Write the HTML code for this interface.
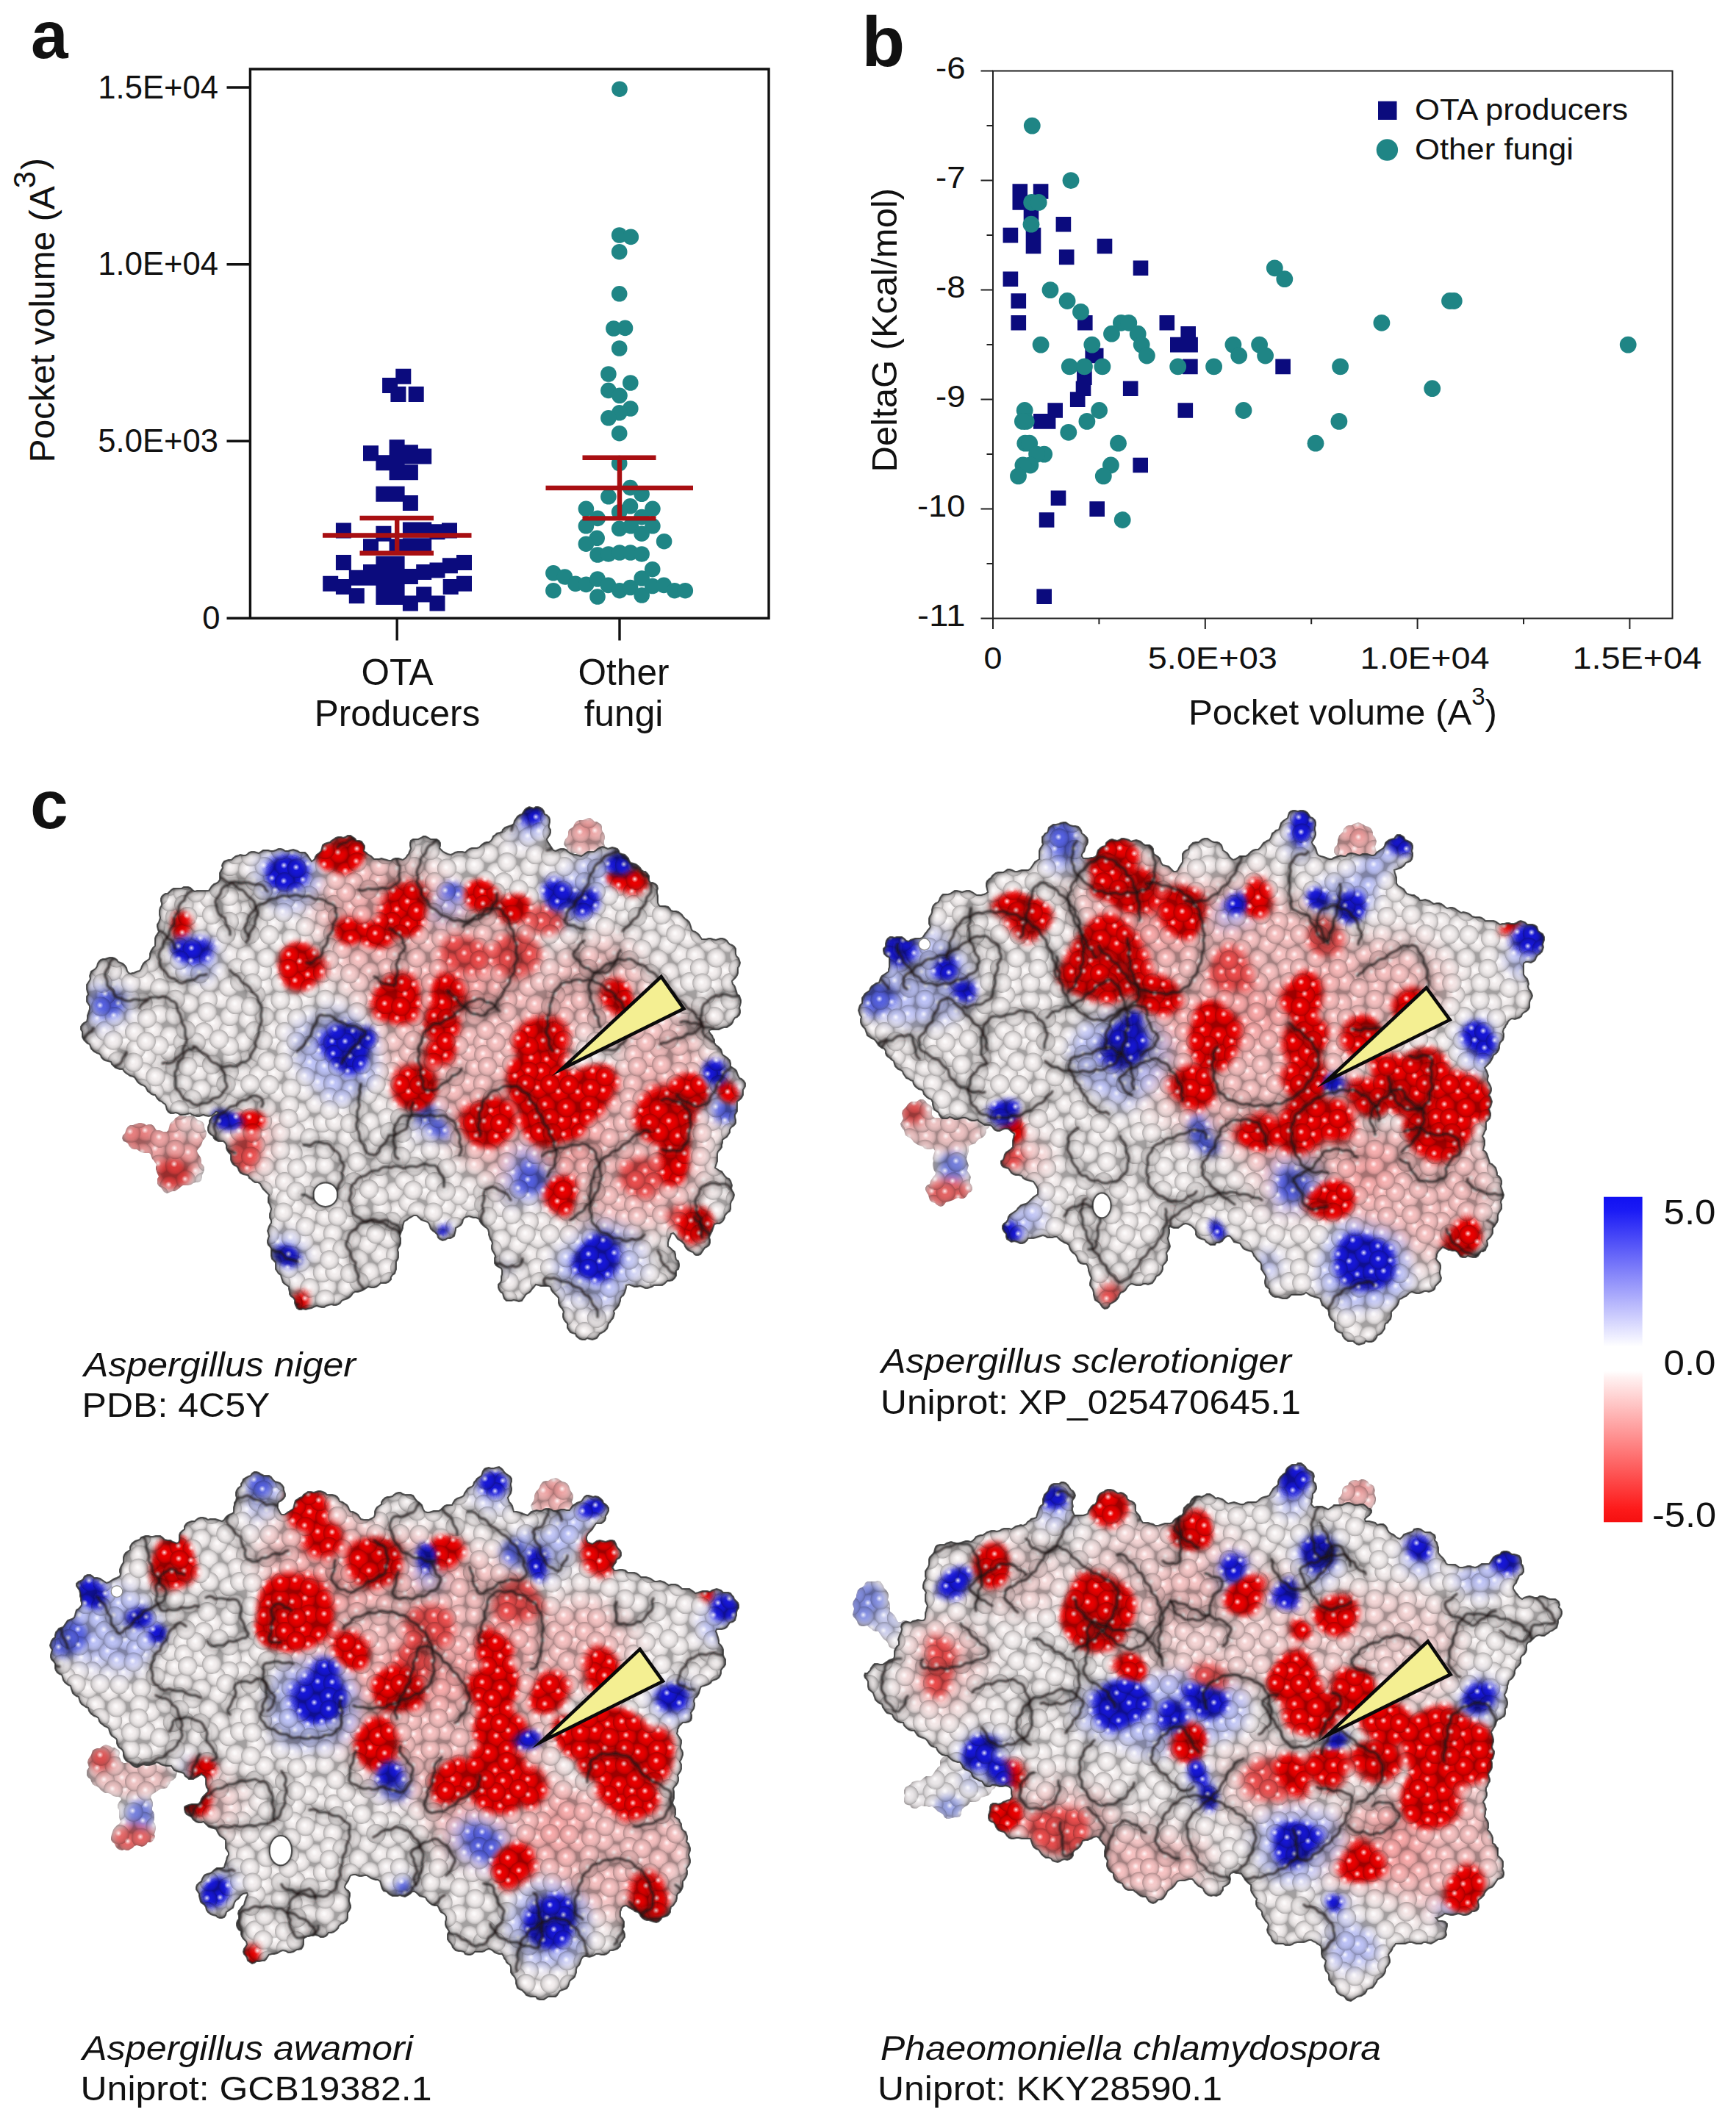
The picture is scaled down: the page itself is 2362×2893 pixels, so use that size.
<!DOCTYPE html>
<html lang="en"><head><meta charset="utf-8"><title>Figure</title>
<style>html,body{margin:0;padding:0;background:#fff}svg{display:block}text{font-family:'Liberation Sans', Arial, Helvetica, sans-serif;fill:#111}</style>
</head><body>
<svg width="2362" height="2893" viewBox="0 0 2362 2893">
<defs>
<linearGradient id="cbar" x1="0" y1="0" x2="0" y2="1">
<stop offset="0" stop-color="#1111f2"/><stop offset="0.04" stop-color="#1a1af5"/>
<stop offset="0.44" stop-color="#f4f4ff"/><stop offset="0.46" stop-color="#fff"/>
<stop offset="0.535" stop-color="#fff"/><stop offset="0.555" stop-color="#fff1f1"/>
<stop offset="0.96" stop-color="#fd1a1a"/><stop offset="1" stop-color="#f51010"/></linearGradient>
<filter id="f1" x="-30%" y="-30%" width="160%" height="160%"><feGaussianBlur stdDeviation="1"/></filter>
<filter id="f4" x="-30%" y="-30%" width="160%" height="160%"><feGaussianBlur stdDeviation="4"/></filter>
<filter id="f6" x="-30%" y="-30%" width="160%" height="160%"><feGaussianBlur stdDeviation="6"/></filter>
<filter id="f10" x="-30%" y="-30%" width="160%" height="160%"><feGaussianBlur stdDeviation="10"/></filter>
<filter id="f18" x="-30%" y="-30%" width="160%" height="160%"><feGaussianBlur stdDeviation="18"/></filter>
<radialGradient id="bg"><stop offset="0" stop-color="#fff"/><stop offset=".45" stop-color="#f7f7f7"/><stop offset=".75" stop-color="#e3e3e3"/><stop offset=".92" stop-color="#c6c6c6"/><stop offset="1" stop-color="#adadad"/></radialGradient>
<radialGradient id="sg"><stop offset="0" stop-color="#fff" stop-opacity=".9"/><stop offset=".45" stop-color="#fff" stop-opacity=".45"/><stop offset="1" stop-color="#fff" stop-opacity="0"/></radialGradient>
<filter id="edge" x="-3%" y="-3%" width="106%" height="106%" color-interpolation-filters="sRGB"><feGaussianBlur in="SourceAlpha" stdDeviation="4.5" result="b"/><feComponentTransfer in="b" result="i"><feFuncA type="table" tableValues="1 .9 .62 .24 0"/></feComponentTransfer><feFlood flood-color="#181818"/><feComposite in2="i" operator="in" result="d"/><feComposite in="d" in2="SourceGraphic" operator="atop"/></filter>
<filter id="edge2" x="-6%" y="-6%" width="112%" height="112%" color-interpolation-filters="sRGB"><feGaussianBlur in="SourceAlpha" stdDeviation="3.5" result="b"/><feComponentTransfer in="b" result="i"><feFuncA type="table" tableValues=".6 .45 .28 .1 0"/></feComponentTransfer><feFlood flood-color="#6a6060"/><feComposite in2="i" operator="in" result="d"/><feComposite in="d" in2="SourceGraphic" operator="atop"/></filter>
<filter id="warp" x="-5%" y="-5%" width="110%" height="110%"><feTurbulence type="fractalNoise" baseFrequency=".014" numOctaves="1" seed="3" result="t"/><feDisplacementMap in="SourceGraphic" in2="t" scale="38" xChannelSelector="R" yChannelSelector="G"/></filter>
<pattern id="bump" width="204" height="204" patternUnits="userSpaceOnUse"><rect width="204" height="204" fill="#a8a8a8"/><g fill="url(#bg)"><circle cx="66.1" cy="30.8" r="13.2"/><circle cx="132.8" cy="14.8" r="13.2"/><circle cx="109.3" cy="74.6" r="13.2"/><circle cx="11.8" cy="103.5" r="13.2"/><circle cx="215.8" cy="103.5" r="13.2"/><circle cx="14.3" cy="18.5" r="13.2"/><circle cx="86.6" cy="168.7" r="13.2"/><circle cx="25.3" cy="45.5" r="13.2"/><circle cx="128" cy="-10.7" r="13.2"/><circle cx="128" cy="193.3" r="13.2"/><circle cx="-4.8" cy="9.5" r="13.2"/><circle cx="-4.8" cy="213.5" r="13.2"/><circle cx="199.2" cy="9.5" r="13.2"/><circle cx="199.2" cy="213.5" r="13.2"/><circle cx="175.1" cy="59.1" r="13.2"/><circle cx="62.9" cy="166.5" r="13.2"/><circle cx="36.9" cy="118.6" r="13.2"/><circle cx="130.3" cy="76" r="13.2"/><circle cx="111.7" cy="12.8" r="13.2"/><circle cx="111.7" cy="216.8" r="13.2"/><circle cx="64.1" cy="119.5" r="13.2"/><circle cx="92.4" cy="61.2" r="13.2"/><circle cx="162.1" cy="142.6" r="13.2"/><circle cx="107.1" cy="178.5" r="13.2"/><circle cx="148.8" cy="58.7" r="13.2"/><circle cx="31" cy="99.7" r="13.2"/><circle cx="8" cy="136.3" r="13.2"/><circle cx="212" cy="136.3" r="13.2"/><circle cx="156" cy="116.9" r="13.2"/><circle cx="118.3" cy="93.1" r="13.2"/><circle cx="171.4" cy="-11.3" r="13.2"/><circle cx="171.4" cy="192.7" r="13.2"/><circle cx="96.7" cy="135.5" r="13.2"/><circle cx="78.7" cy="136.4" r="13.2"/><circle cx="34.3" cy="23.9" r="13.2"/><circle cx="12" cy="156.7" r="13.2"/><circle cx="216" cy="156.7" r="13.2"/><circle cx="167.1" cy="176.3" r="13.2"/><circle cx="56.8" cy="84.7" r="13.2"/><circle cx="73.2" cy="180.4" r="13.2"/><circle cx="-8.6" cy="30.8" r="13.2"/><circle cx="195.4" cy="30.8" r="13.2"/><circle cx="47.6" cy="98.9" r="13.2"/><circle cx="120.2" cy="53.6" r="13.2"/><circle cx="0.8" cy="85.5" r="13.2"/><circle cx="204.8" cy="85.5" r="13.2"/><circle cx="-9.6" cy="140.9" r="13.2"/><circle cx="194.4" cy="140.9" r="13.2"/><circle cx="183.5" cy="159.1" r="13.2"/><circle cx="80" cy="81.4" r="13.2"/><circle cx="69.4" cy="10.7" r="13.2"/><circle cx="69.4" cy="214.7" r="13.2"/><circle cx="20.7" cy="74.2" r="13.2"/><circle cx="5.2" cy="178.4" r="13.2"/><circle cx="209.2" cy="178.4" r="13.2"/><circle cx="125.3" cy="30.3" r="13.2"/><circle cx="95.1" cy="98.7" r="13.2"/><circle cx="69.9" cy="54" r="13.2"/><circle cx="169.1" cy="32.9" r="13.2"/><circle cx="107.8" cy="29.9" r="13.2"/><circle cx="107.7" cy="-4.4" r="13.2"/><circle cx="107.7" cy="199.6" r="13.2"/><circle cx="34.1" cy="157.5" r="13.2"/><circle cx="108.6" cy="158.9" r="13.2"/><circle cx="5.7" cy="57" r="13.2"/><circle cx="209.7" cy="57" r="13.2"/><circle cx="52.9" cy="141.3" r="13.2"/><circle cx="45" cy="46.3" r="13.2"/><circle cx="171.4" cy="97.8" r="13.2"/><circle cx="133.2" cy="163.1" r="13.2"/><circle cx="153" cy="97.5" r="13.2"/><circle cx="147.9" cy="34.7" r="13.2"/><circle cx="26.7" cy="2.9" r="13.2"/><circle cx="26.7" cy="206.9" r="13.2"/><circle cx="26.7" cy="185.6" r="13.2"/><circle cx="89.8" cy="37.4" r="13.2"/><circle cx="142.6" cy="178.8" r="13.2"/><circle cx="-11.8" cy="53" r="13.2"/><circle cx="192.2" cy="53" r="13.2"/><circle cx="44.8" cy="-9.7" r="13.2"/><circle cx="44.8" cy="194.3" r="13.2"/><circle cx="39.9" cy="65" r="13.2"/><circle cx="147.3" cy="4" r="13.2"/><circle cx="147.3" cy="208" r="13.2"/><circle cx="116.4" cy="142.9" r="13.2"/><circle cx="144.2" cy="129.7" r="13.2"/><circle cx="177.6" cy="136.8" r="13.2"/><circle cx="-5.6" cy="111.6" r="13.2"/><circle cx="198.4" cy="111.6" r="13.2"/><circle cx="184.9" cy="-0.7" r="13.2"/><circle cx="184.9" cy="203.3" r="13.2"/><circle cx="107" cy="118.9" r="13.2"/><circle cx="46.3" cy="7" r="13.2"/><circle cx="46.3" cy="211" r="13.2"/><circle cx="183.2" cy="180.3" r="13.2"/><circle cx="159.6" cy="16.1" r="13.2"/><circle cx="80.8" cy="-1.5" r="13.2"/><circle cx="80.8" cy="202.5" r="13.2"/><circle cx="103.5" cy="47.2" r="13.2"/><circle cx="189.8" cy="75.9" r="13.2"/><circle cx="80.6" cy="112.2" r="13.2"/><circle cx="62.7" cy="-9.5" r="13.2"/><circle cx="62.7" cy="194.5" r="13.2"/><circle cx="122.3" cy="112.2" r="13.2"/><circle cx="155.8" cy="159.1" r="13.2"/><circle cx="7.5" cy="37.1" r="13.2"/><circle cx="211.5" cy="37.1" r="13.2"/><circle cx="178.1" cy="113.3" r="13.2"/><circle cx="13.4" cy="120.5" r="13.2"/><circle cx="181.6" cy="17.6" r="13.2"/><circle cx="158.7" cy="79.3" r="13.2"/><circle cx="136.1" cy="93.4" r="13.2"/><circle cx="84.1" cy="20.8" r="13.2"/><circle cx="94" cy="190.2" r="13.2"/><circle cx="12.4" cy="-5.3" r="13.2"/><circle cx="12.4" cy="198.7" r="13.2"/><circle cx="216.4" cy="-5.3" r="13.2"/><circle cx="216.4" cy="198.7" r="13.2"/><circle cx="154" cy="-12.4" r="13.2"/><circle cx="154" cy="191.6" r="13.2"/><circle cx="77.8" cy="153.3" r="13.2"/><circle cx="34.5" cy="136" r="13.2"/><circle cx="68.2" cy="100.8" r="13.2"/><circle cx="57.6" cy="67.6" r="13.2"/><circle cx="40.3" cy="82.4" r="13.2"/><circle cx="48.9" cy="177.8" r="13.2"/><circle cx="139.4" cy="113.7" r="13.2"/><circle cx="137.3" cy="145.6" r="13.2"/><circle cx="188.5" cy="94" r="13.2"/><circle cx="-5.2" cy="-10.9" r="13.2"/><circle cx="-5.2" cy="193.1" r="13.2"/><circle cx="198.8" cy="-10.9" r="13.2"/><circle cx="198.8" cy="193.1" r="13.2"/><circle cx="-4" cy="161.7" r="13.2"/><circle cx="200" cy="161.7" r="13.2"/><circle cx="51.2" cy="23.2" r="13.2"/><circle cx="136.4" cy="47.2" r="13.2"/><circle cx="162.5" cy="48.2" r="13.2"/></g></pattern><pattern id="spec" width="204" height="204" patternUnits="userSpaceOnUse"><g fill="url(#sg)"><circle cx="64.9" cy="29.2" r="4.6"/><circle cx="131.6" cy="13.2" r="4.6"/><circle cx="108.1" cy="73" r="4.6"/><circle cx="10.6" cy="101.9" r="4.6"/><circle cx="13.1" cy="16.9" r="4.6"/><circle cx="85.4" cy="167.1" r="4.6"/><circle cx="24.1" cy="43.9" r="4.6"/><circle cx="126.8" cy="191.7" r="4.6"/><circle cx="-6" cy="7.9" r="4.6"/><circle cx="198" cy="7.9" r="4.6"/><circle cx="173.9" cy="57.5" r="4.6"/><circle cx="61.7" cy="164.9" r="4.6"/><circle cx="35.7" cy="117" r="4.6"/><circle cx="129.1" cy="74.4" r="4.6"/><circle cx="110.5" cy="11.2" r="4.6"/><circle cx="62.9" cy="117.9" r="4.6"/><circle cx="91.2" cy="59.6" r="4.6"/><circle cx="160.9" cy="141" r="4.6"/><circle cx="105.9" cy="176.9" r="4.6"/><circle cx="147.6" cy="57.1" r="4.6"/><circle cx="29.8" cy="98.1" r="4.6"/><circle cx="6.8" cy="134.7" r="4.6"/><circle cx="154.8" cy="115.3" r="4.6"/><circle cx="117.1" cy="91.5" r="4.6"/><circle cx="170.2" cy="191.1" r="4.6"/><circle cx="95.5" cy="133.9" r="4.6"/><circle cx="77.5" cy="134.8" r="4.6"/><circle cx="33.1" cy="22.3" r="4.6"/><circle cx="10.8" cy="155.1" r="4.6"/><circle cx="165.9" cy="174.7" r="4.6"/><circle cx="55.6" cy="83.1" r="4.6"/><circle cx="72" cy="178.8" r="4.6"/><circle cx="194.2" cy="29.2" r="4.6"/><circle cx="46.4" cy="97.3" r="4.6"/><circle cx="119" cy="52" r="4.6"/><circle cx="-0.4" cy="83.9" r="4.6"/><circle cx="203.6" cy="83.9" r="4.6"/><circle cx="193.2" cy="139.3" r="4.6"/><circle cx="182.3" cy="157.5" r="4.6"/><circle cx="78.8" cy="79.8" r="4.6"/><circle cx="68.2" cy="9.1" r="4.6"/><circle cx="19.5" cy="72.6" r="4.6"/><circle cx="4" cy="176.8" r="4.6"/><circle cx="124.1" cy="28.7" r="4.6"/><circle cx="93.9" cy="97.1" r="4.6"/><circle cx="68.7" cy="52.4" r="4.6"/><circle cx="167.9" cy="31.3" r="4.6"/><circle cx="106.6" cy="28.3" r="4.6"/><circle cx="106.5" cy="-6" r="4.6"/><circle cx="106.5" cy="198" r="4.6"/><circle cx="32.9" cy="155.9" r="4.6"/><circle cx="107.4" cy="157.3" r="4.6"/><circle cx="4.5" cy="55.4" r="4.6"/><circle cx="51.7" cy="139.7" r="4.6"/><circle cx="43.8" cy="44.7" r="4.6"/><circle cx="170.2" cy="96.2" r="4.6"/><circle cx="132" cy="161.5" r="4.6"/><circle cx="151.8" cy="95.9" r="4.6"/><circle cx="146.7" cy="33.1" r="4.6"/><circle cx="25.5" cy="1.3" r="4.6"/><circle cx="25.5" cy="205.3" r="4.6"/><circle cx="25.5" cy="184" r="4.6"/><circle cx="88.6" cy="35.8" r="4.6"/><circle cx="141.4" cy="177.2" r="4.6"/><circle cx="191" cy="51.4" r="4.6"/><circle cx="43.6" cy="192.7" r="4.6"/><circle cx="38.7" cy="63.4" r="4.6"/><circle cx="146.1" cy="2.4" r="4.6"/><circle cx="146.1" cy="206.4" r="4.6"/><circle cx="115.2" cy="141.3" r="4.6"/><circle cx="143" cy="128.1" r="4.6"/><circle cx="176.4" cy="135.2" r="4.6"/><circle cx="197.2" cy="110" r="4.6"/><circle cx="183.7" cy="-2.3" r="4.6"/><circle cx="183.7" cy="201.7" r="4.6"/><circle cx="105.8" cy="117.3" r="4.6"/><circle cx="45.1" cy="5.4" r="4.6"/><circle cx="182" cy="178.7" r="4.6"/><circle cx="158.4" cy="14.5" r="4.6"/><circle cx="79.6" cy="-3.1" r="4.6"/><circle cx="79.6" cy="200.9" r="4.6"/><circle cx="102.3" cy="45.6" r="4.6"/><circle cx="188.6" cy="74.3" r="4.6"/><circle cx="79.4" cy="110.6" r="4.6"/><circle cx="61.5" cy="192.9" r="4.6"/><circle cx="121.1" cy="110.6" r="4.6"/><circle cx="154.6" cy="157.5" r="4.6"/><circle cx="6.3" cy="35.5" r="4.6"/><circle cx="176.9" cy="111.7" r="4.6"/><circle cx="12.2" cy="118.9" r="4.6"/><circle cx="180.4" cy="16" r="4.6"/><circle cx="157.5" cy="77.7" r="4.6"/><circle cx="134.9" cy="91.8" r="4.6"/><circle cx="82.9" cy="19.2" r="4.6"/><circle cx="92.8" cy="188.6" r="4.6"/><circle cx="11.2" cy="197.1" r="4.6"/><circle cx="152.8" cy="190" r="4.6"/><circle cx="76.6" cy="151.7" r="4.6"/><circle cx="33.3" cy="134.4" r="4.6"/><circle cx="67" cy="99.2" r="4.6"/><circle cx="56.4" cy="66" r="4.6"/><circle cx="39.1" cy="80.8" r="4.6"/><circle cx="47.7" cy="176.2" r="4.6"/><circle cx="138.2" cy="112.1" r="4.6"/><circle cx="136.1" cy="144" r="4.6"/><circle cx="187.3" cy="92.4" r="4.6"/><circle cx="197.6" cy="191.5" r="4.6"/><circle cx="-5.2" cy="160.1" r="4.6"/><circle cx="198.8" cy="160.1" r="4.6"/><circle cx="50" cy="21.6" r="4.6"/><circle cx="135.2" cy="45.6" r="4.6"/><circle cx="161.3" cy="46.6" r="4.6"/></g></pattern>
<clipPath id="cp0"><path clip-rule="evenodd" d="M710 1108l2-3l2-3l2-2l4-2l3 1l3 1l3-2l3 0l3 1l3 2l2 3l1 4l3 1l3 3l1 3l0 4l-1 4l0 3l2 3l0 4l-1 3l-2 3l-2 3l1 3l2 3l2 3l2 3l2 3l3 1l4-2l3-1l4 0l3 1l3 3l3 2l3 1l3 1l2 0l3 1l4 1l3-2l4-3l2-1l4 0l4 0l3-2l2-2l4-2l3-1l3 1l4 2l3-1l3-1l4 1l3 1l2 3l1 3l3 1l4 1l2 2l3 3l1 3l2 3l4 1l3 1l3 2l3 3l2 3l3 2l2 0l3 3l2 3l0 3l0 3l2 3l3 0l4 2l2 2l1 4l-1 3l0 3l1 4l0 3l0 3l0 3l1 3l2 2l4 0l3 0l4 1l2 2l2 3l3 1l4 0l3 1l3 2l2 2l2 3l2 2l3 2l3 3l1 3l1 3l1 4l2 2l3 1l3 2l2 2l2 3l2 3l3 0l3 0l3-1l3 0l3 1l4 1l3-1l3-1l3 0l3 1l3 2l2 3l2 2l3 1l3 2l2 3l0 3l0 4l1 3l3 3l1 3l1 3l-1 4l-2 3l0 3l0 4l-1 3l-2 3l-3 3l-2 2l1 4l2 2l1 2l1 3l1 3l1 4l3 2l1 3l1 3l0 3l-1 4l-1 3l1 4l0 3l-1 3l-3 3l-3 1l-2 3l-1 3l-2 3l-3 2l-3 2l-4 0l-3 1l-4 2l-4 0l-3 0l-3 0l-3 1l0 2l2 3l2 2l1 3l2 3l0 4l2 3l3 2l2 2l2 2l1 3l1 4l3 2l3 2l2 2l2 2l1 4l0 4l3 2l3 2l2 2l1 3l1 3l2 4l3 1l3 3l2 3l0 4l-1 2l-2 3l0 4l0 3l-2 4l-2 2l-4 3l0 3l0 3l0 4l0 3l-1 2l-2 3l0 3l1 4l0 4l-1 2l-2 2l-3 2l-2 3l0 4l-2 3l-2 3l-3 2l-3 2l0 4l-1 3l0 3l-2 3l-3 3l-1 3l0 4l0 3l0 3l-1 3l-1 3l-1 3l3 2l3 2l3 1l2 3l2 3l3 3l3 1l2 3l1 3l1 3l-1 4l1 3l2 3l1 3l-1 4l-1 2l-2 3l-1 3l0 3l0 4l-1 3l-3 2l-2 2l-2 3l0 2l-2 4l-2 2l-3 2l-4 0l-3 1l-1 3l-1 3l-1 3l-1 2l-2 4l-1 3l1 3l0 4l-1 3l-2 2l-4 2l-2 3l-2 3l-2 3l-3 1l-3 0l-2-1l-2-3l-3-1l-4-2l-2-2l-2-3l-1-3l-3-3l-3-2l-3-2l-2-3l-2-3l-2-2l-3 1l-1 4l-2 4l-1 4l0 2l0 3l3 2l3 3l3 2l1 4l0 3l1 4l3 2l1 4l0 3l-1 4l-3 2l0 3l0 4l-2 3l-3 3l-4 1l-3 0l-2 2l-2 2l-3 2l-4 0l-4 0l-3 0l-3 2l-3 1l-3 1l-3 0l-4-2l-3-1l-4 1l-4 0l-2-1l-3-1l-2-1l-4 1l0 3l-1 4l-1 3l-2 4l-2 1l-2 3l0 3l-1 3l-1 3l-2 3l-2 2l-3 3l1 3l-1 4l-1 3l-2 2l-2 3l-2 2l-1 4l-1 3l-2 2l-2 2l-4 2l-2 1l-2 3l-2 3l-3 1l-3 1l-4-1l-3-1l-3 2l-4 0l-3-1l-3-2l-2-2l-1-3l-4-1l-3-1l-2-3l-2-3l0-3l0-3l-3-3l-2-3l-1-3l0-4l1-3l-2-4l-2-2l-2-3l-1-3l0-3l0-4l-2-2l-2-2l-2-2l-2-2l-2-3l-1-4l-3-1l-4 0l-3 0l-3 0l-3-1l-4-1l-3 4l-2 2l-2 3l-2 2l-4 2l-2 3l-2 3l-2 3l-4 1l-3-1l-4-1l-3 1l-4 0l-3 0l-3-3l-1-3l-1-4l-3-2l-2-3l-1-3l0-4l3-3l1-3l0-5l1-3l0-2l0-3l-1-3l-4-2l-3-2l-2-3l0-3l0-4l1-3l-2-4l-2-3l-1-3l0-4l1-3l-1-3l-2-3l-1-3l-1-3l0-3l-1-4l-2-2l-3-2l-2-2l-2-2l-2-3l-1-3l-4-2l-4 0l-3-1l-3-1l-3 1l-3 1l-2 3l-1 4l-2 3l-3 2l-4 2l0 3l-1 4l-1 4l-3 2l-2 1l-4 0l-3 2l-4 1l-4-2l-2-2l-1-4l-3-3l-3-2l-3-3l-1-3l-1-3l-2-3l-3-1l-3-1l-3-1l-3-3l-3-3l-4 0l-3 2l-2 1l-2 1l-2 2l-4 2l-1 3l-1 4l0 2l-1 3l-1 2l-1 3l-1 3l1 3l0 3l0 4l-1 3l-2 3l-1 3l1 3l0 3l0 4l-1 3l-2 3l0 3l0 4l0 3l-1 3l-1 3l-3 2l-2 3l0 3l-2 2l-2 2l-3 1l-4 0l-3 0l-3 3l-3 2l-3 1l-4 0l-4-1l-3 2l-3 2l-2 1l-3 1l-3 1l-4 0l-3 2l-2 3l-2 2l-3 2l-3 1l-3 1l-2 1l-2 3l-3 2l-3 1l-3 0l-3-1l-4 1l-3 1l-3 2l-3 0l-4-1l-3-1l-3 1l-2 1l-2 1l-5 1l-3 1l-4-1l-2 1l-3 0l-3-2l-1-2l-1-2l-1-3l0-4l-2-3l-3-2l-2-3l0-3l-1-4l0-3l-3-2l-3-2l-2-2l-1-3l-1-3l-1-4l-3-2l-2-3l-2-3l0-3l0-3l0-3l-3-3l-2-2l-1-4l0-3l0-4l0-3l-2-3l-2-2l-1-3l0-3l1-3l1-3l-1-4l-1-3l1-3l1-3l1-2l2-3l0-3l-2-4l0-2l0-3l1-3l1-4l-1-3l-1-3l-2-3l0-3l0-3l1-4l-2-2l-2-2l-2-2l-2-2l-2-3l-2-4l-3-2l-4 0l-3-2l-2-2l-3-2l-1-3l-2-1l-5-1l-4-2l-2-3l-1-3l-2-3l-3-1l-2-2l-2-3l-1-3l0-4l0-3l-3-3l-2-3l-1-3l0-3l-1-3l-3-3l-4 0l-3 0l-4-2l-2-2l-1-3l-3-2l-3-3l-1-3l0-4l1-3l1-2l0-4l2-3l2-3l4-2l2-1l2-2l-3-1l-2 2l-4 3l-4 1l-5-1l-2-1l-3 1l-3 1l-3 0l-4-1l-3-1l-2-2l-4 1l-3 1l-3 0l-4 0l-3-2l-3-1l-3 1l-4 0l-3-2l-2-3l-1-4l-1-3l-3-2l-2-2l-3-1l-1-1l-2-2l-3-5l-2 0l-3-1l-2-2l-3-2l-1-2l-2-4l-3-2l-3-1l-3-2l-2-2l-2-3l-2-3l-2-1l-4-1l-3-2l-3-2l-2-2l-2-3l-4 0l-3-1l-3-1l-2-2l-3-3l-1-3l-4-1l-4-1l-2-1l-3-3l-1-3l-2-2l-3-1l-4-2l-2-2l-2-2l-1-3l-1-3l-3-1l-3-3l-2-2l-2-4l0-4l0-3l-2-3l0-4l2-3l2-2l4-2l1-4l0-4l1-3l1-3l1-3l0-4l-2-3l-2-3l0-3l0-4l2-3l-1-3l-1-4l0-3l0-3l2-3l2-3l1-2l-1-4l1-3l1-3l3-2l3-2l2-3l1-4l2-3l2-2l3-1l3 0l3-1l3-1l4 0l3 1l3 2l2 3l3 1l3 1l3 3l2 3l1 4l2 3l3 1l2-1l2 0l2-1l2-1l4-1l2-3l1-3l2-4l2-2l3-2l3-2l1-3l0-4l1-3l1-2l2-3l3-3l0-3l0-4l0-3l1-3l2-3l2-3l-1-3l-1-4l0-3l2-3l1-3l1-3l-1-4l0-3l0-3l1-4l2-3l0-3l-1-3l0-3l1-3l2-2l3-2l3 0l3-3l2-2l3-2l4 0l4 0l3 0l3-2l3 0l3 0l3 1l3 3l3 2l3-1l3 0l3 0l3 0l3 0l4 0l2-3l2-3l3-3l3-1l3-2l2-3l0-3l0-3l0-3l2-4l2-3l-1-3l1-3l2-3l3-1l3-1l4 0l3-3l3-2l4-1l2-1l4 1l3 0l3-2l2-2l3-1l4 0l3 1l3 1l3-2l3-2l3 0l4 0l3 1l4 0l3-1l4-2l3 0l3 1l3 2l4 0l3-1l4-1l3 1l3 1l3 2l3 0l4 0l3 3l2 3l2 3l2 3l3-2l1-1l1-3l2-3l3-2l3-3l1-4l1-4l3-2l3-1l4-1l2-2l3-2l3-2l3-1l4 0l3 1l3-1l3-2l4 0l3 2l3 2l2 3l4 0l3 1l2 3l2 3l0 3l-1 4l3 2l2 2l3 2l2 1l2 2l2 2l3 0l4 0l3-1l3 1l4 1l3 1l3 0l3-2l3-1l4 0l3 1l3 1l3-2l2-2l1-2l2-2l1-3l2-4l-1-4l0-4l1-3l3-2l4 0l3 0l4-2l3-2l3 0l4 2l3 2l4 0l4 0l3 2l2 3l0 4l-1 3l3 3l2 2l2 1l2 1l2 1l4 1l3-1l3-2l4-1l3 0l3 0l4 1l3-3l3-2l3-1l3 0l4 0l3-1l2-2l2-2l3-2l3-1l3 0l3-2l2-3l1-3l3-2l2-2l4-1l3-1l1-3l3-3l3-1l3-1l3-1l3-2l1-4l2-3l2-3l3-2zM426.8 1625.7a16.1 15 0 1 0 32.1 0a16.1 15 0 1 0 -32.1 0z"/></clipPath>
<clipPath id="cp1"><path clip-rule="evenodd" d="M1425 1133l1-3l1-4l3-2l3-2l4 0l4-1l2-1l4-1l3 0l3 2l3 2l4 1l3 0l4 1l2 2l2 3l1 4l3 2l2 2l2 2l1 3l0 3l-1 3l-2 3l-1 4l-1 3l-2 2l-1 2l0 2l2 3l4 0l3 0l4-1l2 0l3-1l2-2l1-4l1-3l3-3l3-2l4-1l1-4l2-2l3-2l3-1l3 1l4 1l3-1l3-2l3 0l4 1l3 1l3 2l3-1l4-1l3 1l3 1l3 3l3 2l3 0l3 0l3 2l2 3l0 3l1 4l3 2l3 2l2 2l1 3l1 3l2 3l4 1l4 1l2 2l3 3l2 2l3 0l2-1l1-2l1-2l1-2l2-3l2-3l0-4l0-4l0-3l2-3l3-2l3-1l1-4l3-3l2-2l4-1l4 0l2-2l3-2l3-1l4 0l3 2l3 2l3 1l4 0l3 1l3 3l1 3l1 4l3 2l3 2l2 3l1 2l2 2l3 2l3-1l3-2l3-2l4 0l4 0l3-2l2-2l2-2l3-2l3-1l4 0l3-3l2-3l2-3l2-1l3-2l3-1l2-3l1-3l1-3l3-2l2-2l4-1l1-3l1-3l1-3l3-3l3-2l3-2l1-4l1-3l2-2l3-1l3 0l4 1l3-1l4 0l3 1l3 2l2 3l2 3l3 1l3 3l1 3l0 4l-1 3l0 3l1 4l0 3l-1 3l-2 4l-2 3l1 3l2 2l2 3l1 3l1 4l2 3l3 1l4 1l3 1l2 1l3 1l3 0l3-2l3-1l3-1l3-1l4 1l3 0l3-3l3-1l3 0l4 1l3 1l3 1l4-2l3 0l3 0l3 1l3 1l3 0l2-1l2-3l3-2l3-2l3-2l2-3l1-4l2-2l3-2l3-1l4-1l2-3l2-2l4 0l2 1l3 2l2 4l3 1l4 2l2 2l1 3l0 3l-1 4l1 3l0 4l-1 4l-2 3l-3 1l-3 1l-2 3l-2 2l-3 2l-3 1l-3 1l-3 1l1 4l1 3l1 3l0 4l0 4l2 3l3 2l2 1l3 2l2 3l2 3l3 1l4 1l3 0l3 2l3 2l2 3l3 0l4-1l3 1l3 1l3 2l3 2l4-1l3 0l3 1l3 2l2 2l3 2l4-1l3 0l3 1l3 2l3 2l3 2l3-1l4 1l3 1l3 2l2 2l4 1l3 0l3 0l3 1l3 2l2 2l4 0l4 0l3 0l3 1l3 2l3 2l3-1l3 0l3-1l3 0l3 1l4 0l3-1l3-2l3-1l3 1l3 1l3 3l3 0l4 0l3 1l3 2l1 3l1 3l3 2l3 2l2 4l0 4l-1 3l-1 3l1 4l-1 3l-1 3l-3 3l-3 2l-2 3l-1 3l-2 2l-4 2l-4-1l-3 0l-3 2l0 3l0 2l0 3l0 3l0 4l2 3l3 3l1 3l1 4l-1 3l1 4l2 2l2 4l1 3l-1 3l-2 3l-1 3l0 3l0 4l-2 3l-2 2l-4 2l-2 2l-1 3l-3 2l-3 1l-3 1l-4-1l-3 2l-2 2l-1 3l-2 2l-1 3l-2 2l-1 4l1 3l0 4l-1 4l-2 2l-2 2l-1 4l0 3l-1 3l-2 3l-2 2l-3 2l-1 3l-2 4l-2 3l-2 2l-2 2l-3 3l2 3l1 2l1 3l1 3l-1 4l0 3l2 3l2 4l1 3l0 3l-1 3l-2 3l2 3l1 3l1 3l-1 4l-1 3l-2 3l1 3l1 3l0 3l-1 4l-2 2l-3 3l0 4l0 3l0 3l-2 3l-1 3l-2 3l2 3l1 3l0 3l0 3l-1 3l-1 4l3 2l2 3l1 3l1 3l1 3l1 4l3 1l3 3l2 2l1 3l1 4l0 3l3 2l2 3l1 3l0 4l-1 3l1 3l1 3l1 3l1 3l-1 4l-2 3l-1 3l1 3l0 3l0 3l-2 3l-2 3l-1 3l0 3l0 3l-1 3l-2 3l-2 3l-2 2l0 3l0 4l-1 2l-2 3l-2 2l-3 3l1 4l0 3l-2 3l-1 3l-3 2l-3 0l-2 3l-2 3l-3 2l-4 0l-4-1l-3-1l-3 2l-4 0l-3-1l-2-3l-2-3l-3-2l-4 0l-3-1l-2 0l-4-2l-4-2l-3 3l-3 3l-1 2l-1 2l0 2l-1 4l2 3l3 3l1 3l0 4l-1 4l0 3l1 3l1 3l-1 4l-2 2l-3 3l-2 2l-1 4l-2 2l-3 1l-3 1l-3-1l-3 0l-4 2l-3 1l-4 0l-3-1l-3-1l-3 1l-2 2l-3 3l-3 1l-3 2l-3 1l-1 4l-1 3l-2 3l-2 2l-2 2l-3 3l0 3l0 3l-1 4l-2 2l-2 3l-3 1l-1 4l0 3l-2 3l-2 3l-3 2l-3 1l-1 3l-2 3l-2 2l-3 1l-4 0l-4-1l-2 3l-4 1l-3 1l-3-1l-3-2l-2-2l-4 0l-3 0l-3-2l-2-2l-2-3l-1-4l-4-1l-2-1l-3-3l-1-3l0-3l0-4l-3-2l-2-2l-2-3l-1-3l0-3l-1-4l-3-2l-2-2l-3-2l-1-3l-1-3l-1-3l-3-1l-4-1l-3-1l-3-1l-3-2l-3-2l-3 2l-4 1l-2 0l-4 0l-3 0l-4 0l-3 3l-3 2l-3 0l-3 0l-3-1l-3-1l-4 0l-3-1l-3-3l-2-3l0-4l-3-2l-2-2l-1-4l0-3l1-4l0-3l-2-3l-2-3l-2-3l0-3l0-3l-1-3l-3-2l-2-2l-2-3l-2-2l-1-3l-2-3l-4-1l-3-1l-3-1l-2-2l-2-3l-2-3l-4-1l-4-1l-2-3l-2-3l-2-2l-3 0l-3 2l-2 2l-2 3l-4 2l-4 0l-2 3l-3 0l-3 0l-3-2l-3-2l-2-3l-4-1l-3-1l-3-2l-2-3l0-4l-1-3l-3-3l-2-2l-2-1l-2-1l-4-1l-3 1l-4 3l-3 2l-3 0l-3 0l-5-2l-2 2l1 2l0 2l0 3l-1 4l-1 3l1 4l1 3l1 4l-1 3l-2 3l-2 3l1 4l0 3l0 3l-2 3l-3 3l-1 2l0 4l-1 3l-2 3l-2 2l-4 2l-1 3l-2 3l-2 3l-3 1l-3 1l-3-1l-3 0l-4 2l-3 0l-3 0l-3-1l-3-1l-3 1l-3 3l-1 2l-2 3l-3 2l-3 1l-2 3l-1 3l-2 3l-3 3l-4 2l-3 2l-1 3l-2 2l-4 1l-3-2l-2-3l-2-3l-3-2l-3-2l-1-3l-1-4l0-3l-1-4l-2-3l-2-3l0-3l1-4l1-3l-2-4l-1-3l-1-3l0-2l-1-4l-2-3l-4 0l-4-1l-3-3l-1-3l-1-3l-2-3l-3-2l-2-2l-2-3l-1-3l-1-3l-3-2l-3-1l-3-2l-2-1l-3-3l-2-2l-3 0l-3 1l-3 0l-4 0l-3-2l-3-1l-3 1l-3 1l-3 1l-4 1l-3 0l-4 0l-2 3l-3 3l-3 1l-3 0l-4-2l-4-1l-4 1l-3-2l-3-2l-1-3l0-4l-3-3l-2-4l0-4l2-3l3-2l2-3l1-4l2-3l3-2l3-2l3-2l2-3l2-2l2-2l3-1l4-1l3-2l3-3l2-2l2-2l3-2l3-2l0-4l0-3l-1-2l-1-2l-2-3l-2-3l-4-1l-4-1l-3-1l-3-2l-2-3l-4-1l-4 0l-3-1l-3-2l-2-3l-2-3l-4-1l-3-1l-2-2l-1-3l0-3l3-2l1-3l1-4l2-3l3-2l3-2l3-3l0-3l0-3l0-3l1-4l1-5l-4-3l-2-2l-1-1l-2-1l-4 0l-3 1l-4 2l-3 0l-3-1l-2-2l-2-3l-3-2l-4 0l-3 0l-2-1l-3-2l-3-2l-2-2l-4 1l-4 0l-3-1l-3-2l-3-1l-3 0l-4 1l-3 1l-4 0l-4-2l-3-1l-3 2l-4 0l-3 0l-2-2l-2-3l-1-3l-3-2l-3-2l-1-3l-1-4l0-3l-2-4l-3-1l-3-2l-2-2l-2-2l-1-4l-2-2l-4-1l-3-2l-2-2l-2-3l-1-4l-3-1l-3-2l-3-1l-2-3l-2-3l-1-3l-3-2l-3-1l-2-2l-2-2l-1-3l-1-4l-3-2l-2-2l-3-2l-2-2l-1-3l0-3l-2-3l-3-1l-3-2l-2-2l-2-3l-2-3l-2-2l-3-1l-3-2l-3-2l-1-3l-1-3l-1-3l-3-3l-2-3l-1-3l0-4l1-3l-2-3l-1-3l-1-3l1-4l1-3l3-3l0-4l0-3l2-3l2-3l3-2l3-2l1-3l2-3l3-2l3-2l4-1l1-3l1-3l2-3l3-2l3-2l3-2l0-3l1-3l0-3l0-3l0-3l0-4l-4-2l-3-3l-1-4l0-3l3-3l0-4l1-4l2-3l3-2l3 0l3 1l3-1l3 0l4 0l3 2l3 3l3 1l3-2l3-1l3-1l3 0l4 0l3-1l2-3l2-3l2-2l1-2l2-2l2-3l-2-4l0-3l0-4l1-3l2-3l1-3l0-3l1-4l1-2l3-3l3-1l2-3l1-3l2-3l2-2l3 0l4 0l3-1l3-2l3-2l3 0l4 1l3 1l3-1l3-1l4 0l4 2l3 2l3 2l3 0l3 0l3-1l1 0l2-1l3-2l-1-4l-1-4l0-4l1-3l3-3l2-1l2-3l2-2l3-2l3-1l4 0l3 0l3-2l3-2l3 0l3 1l4 2l3 0l3-1l3-1l3 0l3 0l3 0l3-2l2-3l2-3l2-3l3-2l3-2l0-4l0-3l0-4l1-3l2-3l2-3l-1-3l0-4l0-3l2-2l2-3zM1486.9 1640.4a12.3 16.8 0 1 0 24.6 0a12.3 16.8 0 1 0 -24.6 0z"/></clipPath>
<clipPath id="cp2"><path clip-rule="evenodd" d="M328 2022l0-3l2-3l1-3l3-2l4-2l3-1l2-3l3-2l3 0l3 1l3 2l4 2l4 0l3 0l3 2l2 3l3 3l4 1l3 1l3 3l2 3l0 3l1 3l1 3l0 3l-2 3l-3 3l-4 2l-1 3l0 3l0 2l1 2l2 4l2 3l4 0l3-2l1-1l2-1l3-2l3-2l1-4l1-4l1-3l3-2l3-2l3-1l2-3l3-2l3-2l4 0l4 1l3-1l3-1l3 0l3 1l3 1l3 3l4 0l3 0l4 1l3 2l2 3l1 3l4 1l3 2l3 2l2 3l1 3l2 3l3 0l4 2l3 2l2 3l2 3l4 1l3 0l2 0l2 0l2-1l2-1l3-2l1-3l0-4l1-3l2-3l3-2l3-2l0-3l2-3l3-3l3-1l3 0l4-1l2-2l3-2l3-1l3 0l3 2l3 1l4 0l4 0l3 1l2 3l2 3l2 2l3 2l3 3l1 3l1 3l2 3l3 1l3 0l3-1l3-1l3 0l4 0l3-2l3-3l2-2l3-1l4 0l3 0l2-4l2-3l3-2l3-1l3-1l3-2l1-3l2-3l2-3l3-2l3-1l2-2l1-4l2-2l2-3l3-2l3-2l1-3l1-3l2-3l2-1l4-1l3 1l4 0l3-1l4-1l3 2l2 2l2 3l2 2l3 2l3 2l2 3l0 4l-1 3l0 2l1 4l0 3l-1 4l-2 3l-2 3l1 3l1 3l2 2l2 3l1 4l1 4l4 0l4 1l3 1l2 1l3 1l3 1l3-3l2-2l4-1l3-1l4 1l3 0l3-2l3-1l4 0l3 1l3 2l3 0l4-1l3-1l3 0l2 0l3 1l4 0l2-3l2-3l3-2l3-2l3-1l3-1l2-3l2-3l3-2l3 0l3 1l3 1l3-1l4 1l3 2l3 3l1 3l3 2l2 2l2 3l0 4l-2 4l-2 3l0 3l-1 3l-2 2l-3 2l-3 0l-4 0l-2 3l-2 3l-1 2l-3 3l-3 3l-2 4l0 4l1 2l1 2l1 0l2 1l3 1l3-2l3-2l4-1l4 1l4 1l3-1l3-1l3 0l3 1l2 4l1 3l2 3l3 3l1 3l0 4l-2 3l-4 2l-1 4l-3 4l-1 2l-1 1l1 1l2 3l3 0l4-1l4 0l4 1l3 3l3 0l3 0l3 0l3 1l3 2l3 3l3 0l4 0l3 1l3 1l3 2l3 2l3 0l4-1l3 1l3 1l3 2l3 2l3-1l3 0l3 0l3 1l3 2l3 3l3 0l4 0l3 0l3 2l3 2l2 2l4-1l3-1l3-1l3 0l3 0l4 1l3-2l3-1l3-1l3 1l3 1l3 3l3 0l4 0l3 1l2 3l2 2l1 3l2 2l3 3l1 3l0 4l-2 3l-1 3l0 4l-1 3l-1 4l-3 2l-4 1l-2 3l-2 3l-3 2l-4 1l-3 0l-4 0l-1 3l1 2l1 3l1 3l1 4l0 4l3 3l2 3l1 3l0 3l0 4l1 3l2 3l0 4l0 3l-2 3l-2 2l-2 3l0 4l-1 3l-2 3l-3 2l-3 1l-3 1l-2 3l-3 2l-3 1l-3 1l-4 1l-1 2l-1 3l-1 4l-1 2l-2 3l-3 2l-1 4l1 3l0 3l-1 4l-2 3l-2 3l1 3l0 4l-1 3l-3 2l-4 1l-4 0l-3 3l-2 2l-1 3l-1 1l0 3l-1 3l2 3l2 3l2 3l0 4l-1 4l0 3l2 3l1 3l0 3l-1 3l-1 3l-2 3l2 4l0 3l0 3l-1 3l-2 3l-2 3l1 3l0 4l-1 3l-2 3l-2 2l-2 3l1 4l0 3l0 3l0 3l-1 3l-1 3l1 3l2 3l1 3l0 3l0 4l-1 3l3 2l3 2l1 3l2 3l0 3l1 4l2 2l3 2l1 3l1 3l0 4l-1 3l3 3l1 3l1 3l0 3l-1 3l-1 3l1 3l1 4l0 3l-1 3l-2 3l-2 3l1 3l0 4l-1 3l-1 2l-2 3l-2 2l0 3l0 4l-1 3l-1 2l-2 3l-3 2l-1 3l0 3l-1 4l-2 3l-2 3l-3 2l-1 4l0 3l-2 3l-2 2l-3 1l-4 1l-2 3l-3 3l-3 1l-4-1l-3-1l-3-1l-3 0l-3-1l-3-2l-2-2l-2-4l-2-2l-4-1l-2-2l-2-1l-4-2l-4-3l-4 1l-2 2l-1 2l0 1l-1 2l0 4l0 3l3 3l2 4l0 3l0 4l-2 3l2 4l1 3l0 4l-2 3l-2 3l-2 2l0 4l-2 2l-2 2l-3 1l-3 1l-4 0l-2 3l-3 2l-3 1l-4 0l-3-1l-4 0l-3 2l-3 1l-3 1l-4-1l-3 0l-2 1l-2 3l-1 3l-1 3l-1 2l-3 3l-1 3l0 4l-1 3l-1 3l-2 2l-3 2l-2 2l-1 4l-1 3l-2 3l-3 1l-3 1l-3 1l-2 3l-2 3l-2 2l-4 0l-3 0l-3 0l-3 2l-3 2l-3 0l-3 0l-3-1l-2-3l-4 0l-3 0l-3-1l-3-1l-2-3l-2-2l-2-2l-3-1l-3-2l-1-3l-1-3l0-4l-1-3l-2-3l-2-2l-2-3l0-3l0-4l-1-3l-3-2l-2-2l-1-3l-2-2l-1-3l-2-3l-4 0l-3-1l-3-1l-2-2l-3-2l-3-1l-3 1l-3 2l-3 1l-3 0l-4 0l-3 0l-3 3l-3 1l-3 0l-4-1l-2-3l-4-1l-3 0l-4-1l-2-2l-2-2l-1-3l-2-3l-2-2l-2-3l0-4l0-3l2-4l-2-3l-2-3l-1-3l0-4l1-3l0-4l-2-3l-3-2l-2-1l-2-3l-1-3l-2-3l-4 0l-3-1l-3-2l-2-2l-2-2l-2-4l-4-1l-4-1l-2-2l-2-2l-3-2l-3 0l-3 3l-3 2l-4 2l-4-1l-3-1l-3 1l-4 0l-3 0l-4-2l-2-2l-2-2l-4-1l-2-3l-1-3l-1-4l-1-3l-3-2l-3 0l-3-1l-3-1l-3-2l-3-2l-3 0l-4 1l-3 0l-3-1l-2-1l-3 0l-4 1l-2 4l-1 3l-2 3l-2 3l-1 3l2 3l3 2l2 3l0 4l-1 4l0 3l1 3l1 3l0 3l-2 4l-2 3l0 3l0 4l-1 3l-2 2l-3 2l-3 1l-3 3l-1 3l-3 3l-3 2l-3 1l-4 0l-2 3l-2 2l-3 1l-4 0l-3-2l-4-1l-3 1l-3 0l-3 1l-2 0l-2 1l-3 2l0 4l0 4l-1 3l-2 3l-4 1l-2 0l-3 2l-2 1l-4 1l-3 0l-3-2l-4-1l-3 1l-3 2l-2 1l-4 1l-3 0l-4 1l-2 3l-2 3l-2 2l-3 0l-4 1l-4 0l-3 2l-3 1l-3-2l-3-2l-1-4l-2-3l-2-2l-1-3l1-4l2-3l2-3l-1-4l-2-2l-2-2l-2-3l-1-3l0-4l-3-2l-2-3l-1-3l0-3l1-3l2-3l0-4l-1-3l1-4l2-2l2-3l3-3l1-4l1-3l1-3l1-2l1-1l-1-3l-5 1l-4 3l-1 2l-2 2l-3 2l-2 3l-1 4l-1 3l-3 2l-3 2l-3 2l-1 4l-2 3l-3 1l-3 0l-3-1l-2-2l-4-1l-3-1l-4-3l-2-3l-1-4l-2-3l-3-2l-2-2l-1-4l-1-4l0-3l-2-3l-2-3l0-3l1-3l3-3l3-2l1-3l2-4l2-2l3-1l4-1l3-2l3-3l3-2l3 0l4 0l3-1l1-4l1-3l1-3l1-4l2-3l0-3l-2-3l-2-3l0-4l0-3l0-4l-3-3l-2-1l-3-2l-2-3l-1-2l-2-4l-3-1l-4-1l-3-1l-2-2l-2-2l-3-3l-3 1l-4 0l-3-1l-3-2l-2-2l-1-2l-3-2l-4-2l-2-3l-1-4l0-3l1-1l2-1l3-1l4-1l4 0l4 0l2-1l2-3l1-3l2-3l2-2l3-3l2-2l0-3l-2-3l-1-4l0-3l0-5l-2-3l-3-2l-1-1l-1 1l-3 2l-4 2l-3 2l-3 0l-3 0l-2-2l-3-2l-2-4l-3-1l-4-1l-3-1l-3-1l-2-3l-2-3l-4 0l-3 0l-4-1l-3-1l-3-2l-3-1l-3 2l-3 1l-4 1l-4 0l-4-1l-3 1l-3 2l-3 1l-3-1l-3-2l-2-2l-2-2l-3-1l-2-2l-2-3l-1-3l0-4l-1-3l-2-2l-3-2l-2-3l-1-3l0-4l-1-2l-3-2l-3-2l-2-3l-1-3l-1-4l-3-2l-3-1l-2-2l-3-2l-2-3l-1-4l-3-2l-3-1l-3-2l-2-2l-2-3l-1-4l-3-1l-3-2l-3-2l-2-3l-1-3l-1-4l-3-1l-3-2l-2-2l-1-3l-1-3l-1-4l-3-1l-3-2l-2-2l-2-3l-1-4l-1-3l-3-1l-3-2l-2-3l-1-3l0-3l0-3l-2-3l-3-3l-1-3l0-3l1-4l1-3l-2-3l-1-3l1-3l1-3l2-3l3-2l0-3l1-4l2-2l2-3l3-1l3-1l2-3l2-3l2-3l3-1l3-1l3-2l1-3l1-4l1-3l3-2l2-2l2-3l0-3l-1-3l0-3l-1-3l0-4l-1-4l-2-3l-2-3l0-3l3-3l3-1l3-2l2-4l4-2l4 0l3 2l2 2l4 0l4 1l3 2l3 2l3 2l3-1l3-2l3-2l2-1l3-1l4-2l1-3l-1-3l0-3l1-3l2-4l2-3l0-3l0-4l1-3l2-3l3-2l3-2l0-4l2-4l2-2l3-2l3-1l3-1l2-3l3-1l3-1l4 0l3 1l3 0l4-1l3 0l3 0l3 2l3 3l4 1l4 0l3 2l3 1l2 1l3-1l1-3l0-3l0-4l1-3l3-3l3-2l0-4l2-3l2-2l3-1l3-1l4 0l2-2l3-2l3-1l3 0l4 1l3 2l3-1l4 0l3 0l3 1l3 1l3 1l3-2l2-3l2-2l3-2l3-1l3-2l0-3l0-4l1-3l0-3l2-3l1-4l-1-3l0-4l1-3l2-3zM366.8 2518.2a15.1 20.1 0 1 0 30.2 0a15.1 20.1 0 1 0 -30.2 0z"/></clipPath>
<clipPath id="cp3"><path clip-rule="evenodd" d="M1419 2047l0-3l0-4l1-3l1-3l3-3l2-2l1-3l1-3l3-3l3-1l4 0l3 0l3-2l3 0l3 1l3 3l2 3l2 3l3 2l2 3l1 3l-1 3l-3 4l0 4l1 4l-1 2l0 3l1 3l2 4l4 0l3 0l3 0l2 0l3-1l3-1l1-4l2-3l2-3l2-2l3-1l2-3l1-5l1-3l2-3l3-2l3-1l2-2l3-1l4 0l4 1l3 2l3 2l4-1l3 1l3 2l2 2l1 4l3 2l3 1l3 2l2 3l0 4l0 4l2 3l2 2l2 3l1 3l1 2l2 3l3 0l4 0l3 1l4 1l3 2l4 0l3-1l3-1l3-1l3 0l4 0l3-1l2-3l2-2l3-2l3-2l3-1l2-3l0-3l1-4l2-2l3-3l3-1l1-3l2-3l3-3l3-1l4 0l3 1l4-2l3-2l4 0l2 1l3 2l3 3l3-1l3 1l3 1l3 2l2 2l3 2l4-1l4-1l3 1l3 1l3 1l4 0l3-2l3-1l3 0l4 0l4 0l3-2l2-2l3-2l3-1l4-1l3-1l2-4l2-3l1-2l2-2l3-2l2-2l0-4l1-3l2-3l2-2l2-2l3-2l1-4l2-3l3-2l3-2l3 0l3 0l2-2l4 0l3 2l3 3l2 3l3 2l4 2l2 2l1 4l-1 3l0 4l3 3l1 4l0 3l-2 4l-3 3l0 5l-1 3l0 3l-1 2l1 2l3 3l4-1l4 0l3 0l4 2l4 2l3-2l3-2l2-2l4 0l3 0l4 0l4-2l3-1l3 0l3 1l4 2l4 0l4-1l4 0l3 2l2 2l2 2l2 0l2 2l0 3l-3 4l-3 2l-3 3l1 3l3 0l2 0l4 1l4 1l3 3l4-1l4 0l3 2l2 3l1 3l2 3l3 2l3 1l2 2l1 1l3 2l3 1l3-3l2-3l3-1l3-1l3-1l3-1l2-3l4-1l2 0l3 1l3 2l3 2l4 0l3 0l3 2l3 2l1 3l-1 4l3 3l1 4l1 3l0 4l0 3l2 3l3 3l2 2l2 3l2 4l2 1l3 0l4 0l3 0l3 2l3 2l4 0l4-1l3-1l3 0l3 1l4 1l3-1l3-2l3-2l4 0l3 0l3 0l2-3l2-3l2-3l3-2l3-1l3-1l2-3l3-1l4 0l3 1l4 3l3 0l4 1l3 1l2 3l1 4l0 4l2 3l1 4l0 4l-2 3l-4 2l-1 3l-2 4l-1 3l-2 2l-2 3l0 3l2 3l2 3l2 2l1 2l2 2l3 2l3-2l3-1l4-1l4 1l3 1l4 0l3-2l4 0l3 1l4 2l3 1l4 0l3 0l3 2l2 2l1 4l-1 3l3 3l1 3l0 3l-1 3l-2 3l-2 2l0 4l-1 4l-1 3l-3 2l-3 2l-3 1l-2 2l-3 2l-3 2l-3 0l-4-1l-3 1l-3 2l-2 2l-2 2l-2 2l-3 1l-2 3l0 4l0 3l-1 3l-2 3l-3 2l-2 3l0 4l0 3l-2 3l-2 2l-3 3l-1 3l0 3l-1 3l-2 3l-2 2l-3 2l-1 4l-1 3l0 3l-1 3l-1 3l-2 3l1 3l2 3l1 4l0 3l-1 4l-2 2l0 4l0 3l-1 3l-3 2l-3 2l-3 1l-2 3l-1 4l-1 2l-2 3l-1 2l-2 3l1 3l1 3l1 4l0 3l-1 3l-1 4l1 3l2 3l0 3l-1 4l-1 3l-2 2l1 4l0 3l0 3l-1 3l-2 3l-2 3l1 4l1 3l0 3l-2 3l-1 3l-2 3l0 4l1 3l0 3l-1 3l-2 3l-2 3l2 3l1 4l1 3l-1 3l0 3l-1 4l2 3l2 3l1 3l0 3l0 3l-1 3l3 3l2 3l1 2l1 3l0 4l0 3l3 2l2 3l2 2l0 3l0 4l0 3l3 3l2 2l2 3l0 4l0 3l-1 3l1 2l1 3l0 3l-1 3l-3 2l-4 1l-2 3l-2 3l-2 3l-2 2l-3 1l-3 2l-2 2l-2 3l-1 3l-2 2l-2 2l-3 2l-1 3l1 4l0 3l-1 3l-2 2l-3 1l-3 0l-2 2l-3 2l-4 1l-3 0l-3-1l-4-1l-3 1l-4 1l-3 0l-4-1l-4-1l-4 3l-4 2l-2 1l-2 0l1 1l2 3l5 0l4 1l3 3l0 3l-1 4l-1 3l1 5l-2 3l-3 2l-3 1l-3 0l-3 2l-3 2l-4 2l-4-1l-3-1l-3 0l-3 2l-3 0l-4 0l-3-1l-3-1l-4 0l-3 1l-2 1l-3 0l-3 0l-4 0l-3 0l-2 3l-2 2l-1 3l-1 2l-2 2l-2 3l1 3l1 4l0 3l-2 4l-2 2l-2 3l0 3l-1 3l-2 3l-2 2l-3 2l-3 2l-1 3l-2 3l-2 3l-2 2l-4 1l-3 1l-1 3l-2 3l-3 2l-2 1l-5 1l-3 2l-3 2l-3 2l-4-1l-2-1l-2-3l-2-2l-4-1l-3-2l-2-2l-1-3l-1-4l-2-2l-3-2l-2-3l-2-3l0-3l0-4l-2-3l-2-2l-1-3l-1-4l1-3l1-4l-2-2l-3-3l-1-4l0-3l0-4l-1-4l-3-2l-2-1l-2-2l-3-1l-3-2l-3 0l-4 2l-3 1l-2 0l-4 0l-3 0l-4 1l-3 2l-3 1l-3 0l-3 0l-3-2l-3 0l-4 0l-3 0l-3-2l-2-2l-1-3l-1-3l-2-2l-2-3l-1-4l1-3l1-4l-2-3l-2-2l-2-3l-2-3l-1-3l0-3l-2-3l-3-2l-2-3l-1-3l0-4l1-3l-3-3l-2-3l-2-3l-1-3l0-4l0-3l-3-2l-3-3l-2-2l-1-2l-2-3l-2-3l-4-1l-3 0l-3-1l-1 0l-3 1l-2 3l1 5l-1 5l-2 2l-3 2l-4 2l0 4l-2 3l-2 3l-3 1l-2 1l-4-1l-3 1l-4-1l-4-3l-2-3l-1-3l-3-2l-3-1l-3-3l-2-2l-2-3l-2-2l-4 0l-3 1l-3 1l-3 0l-4 0l-3 1l-2 3l-2 3l-2 2l-2 2l-4 2l-2 2l-1 3l-2 3l-2 3l-3 2l-4 0l-2 2l-2 2l-3 1l-3-1l-3-2l-2-3l-2-3l-4 0l-3-1l-3-2l-2-2l-3-2l-2-2l-3 0l-4 0l-3-1l-2-2l-2-3l-1-3l-3-1l-3-1l-3-2l-2-3l-1-3l0-4l-4-2l-2-2l-2-3l-1-3l0-3l1-4l-2-3l-2-3l0-4l0-3l1-4l0-3l-2-2l-2-2l-1-2l-2-2l-2-3l-3-2l-4 1l-3 2l-3 1l-2 1l-3 0l-4 1l-1 3l-2 4l-2 2l-2 2l-4 2l-2 3l0 4l-2 3l-3 2l-3 1l-4-1l-3 1l-3 2l-3 1l-4-1l-3-1l-2-3l-3-1l-4 0l-3-2l-3-3l-2-3l-2-3l-3-1l-3-2l-2-3l-1-3l-1-3l-1-3l-3 0l-3 0l-3 0l-3 0l-4-1l-3 0l-4 1l-3 0l-3-1l-3-3l-2-3l-2-2l-4-1l-3-1l-2-2l-2-3l-1-3l-2-3l-3-1l-3-2l-1-3l0-4l1-3l1-4l0-4l1-3l3-2l4 0l3 1l4-1l3-2l3-1l2-1l4-1l3-4l-1-4l0-4l0-2l-1-2l-3-2l-4-1l-4 1l-4 0l-3-1l-4-1l-3 0l-3 2l-4 0l-3-1l-2-3l-2-3l-4-1l-3-2l-3-1l-3-3l-1-4l-3-3l-3-1l-3-1l-3-3l-1-3l-3-4l-3 0l-3-1l-3-1l-3-2l-2-2l-3-3l-3 0l-4-1l-3-2l-2-2l-2-3l-1-3l-4-1l-3-1l-2-2l-2-3l-2-3l-2-2l-3-1l-3-1l-3-1l-2-2l-2-3l-2-3l-4 0l-3-1l-3-2l-2-2l-2-2l-1-4l-4 0l-3-1l-3-2l-2-2l-2-3l-1-3l-3-1l-4-1l-2-2l-2-3l-2-3l-1-4l-3-1l-3-2l-3-3l-1-3l-1-3l-1-3l-2-2l-4-3l-1-4l0-4l0-3l-2-3l-2-2l-1-3l1-3l3 0l1-1l3-3l1-3l3-4l2-2l4 0l3 1l4 0l3-2l3-2l3-2l3-1l3-1l1-3l0-3l0-4l1-3l2-3l3-3l0-4l-1-3l1-3l1-3l2-4l1-4l-1-3l1-4l2-2l3-1l3 0l4 1l3-2l4-1l3-1l4 1l3 0l2-1l1-3l0-3l0-3l1-3l1-4l1-3l-2-4l-1-2l0-3l0-3l0-3l1-3l-2-3l-2-3l0-4l1-4l1-2l2-3l-1-3l0-4l0-3l2-3l2-3l1-3l0-4l0-3l1-3l2-2l2-2l2-3l1-4l1-3l2-2l4-1l4 0l2 0l3-2l3-1l3-1l3 1l4 1l3 0l4-1l3-1l3-1l3 0l4 1l3-2l2-2l2-3l3-1l3-1l3 0l3-2l3-2l3-1l3-1l4 0l3 1l4-1l3-2l3-1l3 0l4 0l3 1l3-2l3-2l4-1l3-1l3 1l4-2l2-3l3-2l2-2l4-1l3-1l1-4l1-3l1-3l1-3l2-3z"/></clipPath>
</defs>
<rect width="2362" height="2893" fill="#fff"/>
<clipPath id="lc0_0"><path d="M771 1154l-2-2l-2-3l1-4l1-3l3-3l1-3l0-4l1-3l3-2l3-2l1-3l2-3l2-2l4-1l4 0l3-1l4-2l3 0l3 2l3 3l3 0l3 2l3 2l1 3l0 4l1 3l2 2l1 4l0 3l-1 3l0 4l1 3l-1 4l-2 3l-2 1l-3 1l-2 3l-2 2l-4 1l-4-1l-3-1l-4 1l-3 1l-3-1l-3-2l-4-2l-4 0l-3-1l-3-2l-2-2z"/></clipPath>
<g filter="url(#edge2)"><g clip-path="url(#lc0_0)"><rect x="759.6" y="1104.6" width="72.5" height="70.4" fill="#f0ecee"/><g filter="url(#f6)"><ellipse cx="794.8" cy="1135.5" rx="29.5" ry="26.8" fill="#f4b4b4" fill-opacity="1"/><ellipse cx="797.5" cy="1126.4" rx="13.9" ry="10.7" fill="#ee8c8c" fill-opacity="0.8"/></g><rect x="759.6" y="1104.6" width="72.5" height="70.4" fill="url(#bump)" style="mix-blend-mode:multiply"/><rect x="759.6" y="1104.6" width="72.5" height="70.4" fill="url(#spec)"/><rect x="759.6" y="1104.6" width="72.5" height="70.4" fill="#fff" fill-opacity=".05"/></g></g>
<clipPath id="lc0_1"><path d="M170 1542l1-3l1-3l2-3l3-2l4 0l2-1l3-1l3-1l3 0l4 1l3 2l3-1l4 0l3 2l2 3l2 3l4 0l3 1l2 1l2 0l3 0l2-2l1-4l1-4l2-3l4-3l1-2l3-2l3-2l3 0l4 1l3 0l3-1l3 0l4 1l3 3l2 2l4 1l3 2l2 3l0 3l1 4l2 3l0 3l-1 4l-2 3l-2 2l-1 3l-1 3l-2 3l-2 2l-2 3l1 3l2 3l2 3l1 4l0 4l2 2l2 3l0 4l-1 3l-2 4l0 3l-1 4l-2 2l-3 1l-3 0l-3 1l-3 2l-4 1l-3 0l-4 0l-3 2l-2 2l-3 2l-3 2l-3 0l-3 1l-2 1l-3 1l-4-2l-2-3l-2-3l-3-2l-2-3l0-3l0-4l2-3l-2-4l-1-3l-1-3l0-3l1-3l-2-3l-2-3l-2-2l-1-3l-1-3l-2-2l-4 0l-3 0l-4-1l-3-2l-3-2l-3 0l-4-1l-3-3l-2-4l-3-2l-3-1l-2-4l1-4z"/></clipPath>
<g filter="url(#edge2)"><g clip-path="url(#lc0_1)"><rect x="159.1" y="1509.1" width="130.4" height="123.9" fill="#f0ecee"/><g filter="url(#f6)"><ellipse cx="224.3" cy="1560.4" rx="58.9" ry="48.2" fill="#f2a2a2" fill-opacity="1"/><ellipse cx="185.7" cy="1545.4" rx="21.4" ry="18.2" fill="#ea7575" fill-opacity="0.9"/><ellipse cx="235.5" cy="1596.2" rx="25.7" ry="22.5" fill="#e03030" fill-opacity="1"/><ellipse cx="260.7" cy="1534.6" rx="19.3" ry="16.1" fill="#f6d0d0" fill-opacity="0.9"/></g><rect x="159.1" y="1509.1" width="130.4" height="123.9" fill="url(#bump)" style="mix-blend-mode:multiply"/><rect x="159.1" y="1509.1" width="130.4" height="123.9" fill="url(#spec)"/><rect x="159.1" y="1509.1" width="130.4" height="123.9" fill="#fff" fill-opacity=".05"/></g></g>
<g filter="url(#edge)"><g clip-path="url(#cp0)">
<rect x="98.7" y="1086" width="926.7" height="746.7" fill="#f8f3f3"/>
<g filter="url(#warp)">
<g fill="#ff8888" fill-opacity="0.44" filter="url(#f18)"><ellipse cx="582.1" cy="1293.6" rx="144.6" ry="85.7"/><ellipse cx="646.4" cy="1422.1" rx="123.2" ry="107.1"/><ellipse cx="850" cy="1572.1" rx="117.9" ry="107.1"/><ellipse cx="812.5" cy="1347.1" rx="80.4" ry="64.3"/><ellipse cx="507.1" cy="1223.9" rx="80.4" ry="64.3"/><ellipse cx="716.1" cy="1545.4" rx="107.1" ry="64.3"/><ellipse cx="341.1" cy="1561.4" rx="32.1" ry="37.5"/><ellipse cx="903.6" cy="1438.2" rx="64.3" ry="53.6"/></g>
<g fill="#a8b2ff" fill-opacity="0.7" filter="url(#f10)"><circle cx="392" cy="1197.1" r="42.9"/><circle cx="142.9" cy="1368.6" r="34.8"/><circle cx="458.9" cy="1432.9" r="58.9"/><circle cx="812.5" cy="1722.1" r="56.2"/><circle cx="389.3" cy="1700.7" r="29.5"/><circle cx="716.1" cy="1598.9" r="37.5"/><circle cx="978.6" cy="1491.8" r="29.5"/><circle cx="812.5" cy="1186.4" r="29.5"/><circle cx="614.3" cy="1234.6" r="21.4"/><circle cx="775" cy="1223.9" r="32.1"/><circle cx="590.2" cy="1529.3" r="24.1"/><circle cx="266.1" cy="1304.3" r="26.8"/><circle cx="724.1" cy="1122.1" r="24.1"/><circle cx="683.9" cy="1719.5" r="8"/></g>
<g fill="#ee3a3a" fill-opacity="0.85" filter="url(#f6)"><ellipse cx="742.9" cy="1250.7" rx="30.1" ry="20.1"/><circle cx="700" cy="1298.9" r="33.5"/><circle cx="925" cy="1657.9" r="20.1"/><circle cx="330.4" cy="1572.1" r="23.4"/><circle cx="635.7" cy="1304.3" r="30.1"/><circle cx="876.8" cy="1598.9" r="26.8"/></g>
<g fill="#4a58e2" fill-opacity="0.9" filter="url(#f6)"><circle cx="614.3" cy="1215.9" r="14.7"/><circle cx="145.5" cy="1368.6" r="20.6"/><circle cx="582.1" cy="1518.6" r="15.9"/><circle cx="600.9" cy="1542.7" r="14.1"/><circle cx="716.1" cy="1598.9" r="22.4"/><circle cx="983.9" cy="1518.6" r="17.7"/></g>
<g fill="#f00404" fill-opacity="1.0" filter="url(#f4)"><circle cx="475" cy="1157" r="30.1"/><circle cx="448.2" cy="1162.3" r="20.1"/><circle cx="550" cy="1234.6" r="36.8"/><circle cx="475" cy="1261.4" r="23.4"/><circle cx="509.8" cy="1266.8" r="23.4"/><circle cx="410.7" cy="1315" r="30.1"/><circle cx="657.1" cy="1215.9" r="26.8"/><circle cx="700" cy="1234.6" r="20.1"/><circle cx="539.3" cy="1357.9" r="33.5"/><circle cx="614.3" cy="1357.9" r="23.4"/><circle cx="598.2" cy="1395.4" r="26.8"/><circle cx="595.5" cy="1432.9" r="20.1"/><circle cx="566.1" cy="1481.1" r="33.5"/><circle cx="737.5" cy="1422.1" r="40.2"/><circle cx="732.1" cy="1475.7" r="46.9"/><circle cx="742.9" cy="1518.6" r="40.2"/><circle cx="801.8" cy="1486.4" r="36.8"/><circle cx="775" cy="1513.2" r="33.5"/><circle cx="662.5" cy="1529.3" r="26.8"/><circle cx="839.3" cy="1357.9" r="23.4"/><circle cx="903.6" cy="1518.6" r="40.2"/><circle cx="935.7" cy="1486.4" r="26.8"/><circle cx="914.3" cy="1561.4" r="26.8"/><circle cx="992" cy="1486.4" r="16.7"/><circle cx="758.9" cy="1625.7" r="26.8"/><circle cx="946.4" cy="1673.9" r="26.8"/><circle cx="335.7" cy="1529.3" r="18.8"/><circle cx="250" cy="1258.8" r="16.7"/><circle cx="408" cy="1773" r="13.4"/><circle cx="863.4" cy="1194.5" r="16.7"/><circle cx="919.6" cy="1582.9" r="23.4"/><ellipse cx="855.4" cy="1199.8" rx="30.1" ry="16.7"/><circle cx="665.2" cy="1527.1" r="33.5"/></g>
<g fill="#1212dc" fill-opacity="1.0" filter="url(#f4)"><circle cx="392" cy="1189.1" r="25.6"/><circle cx="724.1" cy="1108.8" r="17"/><circle cx="761.6" cy="1215.9" r="21.6"/><circle cx="796.4" cy="1230.4" r="17"/><circle cx="842" cy="1175.7" r="18.7"/><ellipse cx="263.4" cy="1288.2" rx="25.6" ry="15.9"/><circle cx="469.6" cy="1422.1" r="35.2"/><circle cx="501.8" cy="1411.4" r="15.9"/><circle cx="306.2" cy="1526.6" r="18.7"/><circle cx="812.5" cy="1714.1" r="34.1"/><circle cx="392" cy="1706.1" r="18.7"/><circle cx="975.9" cy="1459.6" r="18.7"/><circle cx="611.6" cy="1671.2" r="8.5"/></g>
</g>
<rect x="98.7" y="1086" width="926.7" height="746.7" fill="url(#bump)" style="mix-blend-mode:multiply"/>
<rect x="98.7" y="1086" width="926.7" height="746.7" fill="url(#spec)"/>
<defs><g id="cr0"><path d="M562 1500l-1 4l-2 4l1 5l0 4l-2 4l-3 4l0 4l-1 4l-1 3l-4 2l-4 2l-3 2l-4 2l-4 1l-5 0l-2 5l-2 4l-4 4l-4 4l-1 5l-3 3l-4 2l-3-1l-2 0l-3-1l-3-3l-2-4l-1-5l-4-4l-2-5l0-4l-1-5l-2-3l-1-4l0-4l2-5l-1-4l0-4l0-4l2-4l1-4l-1-4l0-5l1-4l1-4l-1-4l1-4l1-4"/><path d="M926 1391l3-1l4 0l4 1l3 2l5-1l4 1l4 2l5 3l4 0l4 0l4 2l4 3l6 0l5 1l4 2l5 3l5 0l4 2l3 3l2 3l3 2l3 2l0 3l-1 3l-2 3l-2 3l-2 4l-2 4l-4 3l-4 3l-2 5l-4 4l-4 2l-3 4l-1 4l-3 4l-3 3l-2 4l-1 5l-2 4l-4 4l-2 4l-1 4l-2 3l-4 2l-3 0l-3 2l-3 1l-3 0l-4-2l-3-2l-4-2l-4-1l-4-2l-4-3l-3-4"/><path d="M301 1454l3 4l2 4l0 4l0 5l2 4l1 4l-2 3l-3 3l-2 4l-4 4l-5 1l-4 1l-3 4l-4 2l-5 0l-4 1l-4 2l-5-1l-3-2l-3-3l-5-1l-4-3l-3-5l-2-4l-4-3l-1-4l0-4l0-5l-1-5l0-5l3-4l0-4l1-5l3-4l4-3l1-5l3-4l4-2l4 0l3-2"/><path d="M711 1713l-1 4l-2 4l-3 2l-4 1l-4-2l-4 2l-5 0l-4-2l-4-3l-4 1l-5-2l-3-2l-4-4l-4-1l-4-3l-2-4l-1-4l-3-3l-1-4l1-4l2-5l0-4l0-5l1-4l2-3l0-6l-1-4l1-4l3-6l-1-4l-1-4l2-5l1-5l-1-5l1-4l2-3l3-1l2-1l4-1l4 1l4 3l4 2l5 2l4 3l2 4l2 3"/><path d="M199 1360l-4 1l-5 0l-4-1l-4 0l-5 2l-4 0l-4-1l-3-2l-4-1l-4-1l-3-4l-1-5l-4-3l-4-4l0-5l-1-4l-2-4l0-4l2-4l3-4l1-5l2-4l4-3l3-4l2-4l2-4l4-2l3-4l2-4l3-3l4-1l4-2l3-3l4-3l5 0l4-2l4-2l4-1l5 1l3 1l4 0l4 2l4 4l2 4l5 2l3 4l1 4l1 4"/><path d="M696 1130l1-5l-1-5l2-6l4-3l3-2l2-4l3-3l4-2l5 0l3-3l4-1l5 0l5 1l5-2l5 0l4 2l4 2l5 1l4 2l3 4l3 4l3 3l2 4l0 5l-3 4l-1 5l-2 4l-3 4l-1 4l-1 5l-3 3l-3 1l-5 1l-3 3l-5 1"/><path d="M653 1546l1-4l-2-4l-1-4l0-5l2-4l-1-5l0-5l2-4l2-4l0-5l1-4l3-3l3-2l2-4l3-3l4-2l6-1l4-3l4-2l5 0l5 1l5-1l4 1l3 2l2 3l3 2l4 2l3 3l1 5l3 4l4 3l2 4l1 5l3 3l3 4l2 4l0 4l3 4l3 3l2 4l0 5l2 3l3 4l2 4l-1 5l2 3l2 4l0 4l0 3l-2 4l0 3l0 5l-2 4l-4 3l-2 4l-2 5"/><path d="M281 1326l-4 1l-5 0l-4 3l-3 3l-5 1l-5 0l-3 2l-4 2l-4-1l-3-2l-3-3l-5-1l-4-2l-2-4l-3-4l-4-3l-2-4l-1-4l1-4l-2-3l0-4l1-4l2-3l3-3l0-5l2-4l3-4l3-3l0-5l2-4l2-3l3-3l0-5l0-4l2-4l3-3l1-4l0-4l2-4l3-3l3-2l1-5l2-3l4-3l4-2l2-4l3-4l4-3l4-1l3-3l3-2l3-1l5 0l4 1l5-1l4 1l4 3l4 3l5 0l4 3l3 3l3 3l5 1l3 3l3 4l3 3l4 3l3 3l1 4l1 4l2 4l1 3l-1 4l-2 4l-1 3l0 5l-2 4l-3 4l-2 3l-1 5l-1 4l-3 4"/><path d="M172 1432l-2 4l-3 4l-1 4l-3 4l-5 2l-4 3l-2 4l-4 4l-5 1l-3 4l-5 2l-4-1l-4-2l-5-1l-4-1l-4-3l-2-5l-5-1l-3-3l-2-5l-1-5l-4-3l-1-4l0-4l3-3l2-3l2-4l3-3l5-1l3-3l3-4l3-3l5-3l2-4"/><path d="M500 1758l-4-1l-2-4l-2-3l-3-3l-2-5l1-5l-2-5l-2-4l-1-5l1-5l-4-3l-2-4l-1-5l-1-4l-3-3l-2-4l0-4l2-3l1-4l1-4l2-3l4-3l4-2l3-5l3-3l4-1l5 0l3-2l4-2l4 1l5 2l5-1l4-1l5 2l3 3l4 1l3 1l3 3l1 4l-1 4l3 3l1 5l0 4l-1 5l1 5l1 4l-1 4l-1 4l1 5l1 5l-1 4l-2 5l2 5l-1 4"/><path d="M542 1577l-4-3l-1-4l0-4l1-4l-2-5l-1-5l1-5l2-4l-2-5l1-5l1-3l3-3l1-3l2-3l4-3l4 0l5 1l5-2l5 0l5 1l5 1l4-1l5-1l5 2l4 0l5-1l5 0l4 3l3 2l4 2l3 3l1 3l0 5l3 4l2 4l1 6l-1 5l2 4l1 5l-1 4l-2 4"/><path d="M530 1263l5 3l3 4l4 1l3 3l3 4l0 5l3 4l0 4l-3 4l-4 3l-1 6l-2 4l-2 4l1 5l1 5l-1 6l-2 4l1 4l-1 4l-3 1l-5-1l-5-1l-5-1l-4-3l-2-4l-5-2"/><path d="M877 1680l-4 4l-4 2l-4 1l-5-1l-4 2l-4 1l-4-1l-4-3l-4 0l-5 0l-4-2l-4-4l-5-1l-4-1l-3-3l-2-4l-3-2l-3-3l-2-3l0-4l0-5l-2-4l-1-4l1-4l1-5l-2-4l0-4l1-4l1-4l0-5l0-4l1-5l3-4l0-4l1-5l2-3l3-3l2-4l2-4l3-3l4-2l4-2l3-4l4-2l5-1l3-3l3-4l4-2l4-2l4-4l3-4l4-2l5-1l3-3l3-2l4 0l3 2"/><path d="M337 1274l0-3l-3-3l-1-4l1-5l3-4l0-4l2-5l3-4l4-3l2-4l3-3l3-2l4 0l4-2l3-3l5-2l4 0l5-2l4-2l5 0l5 1l4-1l4-1l4 0l5 2l5 0l5-1l4 2l5 3l5-1l5 1l4 2l3 3l4 1l3 1l2 2l2 3l-1 4l2 4l0 5l-2 4l-3 4l0 5l-1 5l-3 4l-3 3l0 4l-1 5l-2 4l-4 3l0 5l-2 5l-3 3l-4 1l-3 4l-3 2l-3 1l-4-1"/><path d="M752 1430l-3-4l-2-4l0-5l0-4l-2-4l-2-4l1-5l2-4l-1-4l0-5l0-4l3-4l0-4l0-5l1-5l2-4l1-5l1-4l2-4l3-3l3-3l2-3l4-2l4-1l4 1l5-3l4-1l5 0l4 2l4-1l4-1l5 1l4 3l4 1l5 2l3 3l3 4l4 1l4 2l3 3l2 5l3 2l4 3l2 4l1 4l3 4l3 4l2 4l0 5l1 4l2 4l-1 4l-2 3l-3 4l0 4l-2 5l-3 3l-4 2l-2 4l-3 3l-4 1l-4 0l-4-1l-5 1l-4 0"/><path d="M817 1398l-2-4l-1-5l0-5l-3-3l-2-3l-1-4l0-5l-2-4l-2-4l-1-5l1-4l-2-4l-1-4l0-4l2-4l2-3l1-3l1-4l3-3l4-2l4-2l3-4l4-3l5-1l4-1l4-3l4-2l4 1l4 1l4-2l4 0l4 2l3 3l4 2l5 1l4 2l3 4l3 3l4 1l4 3l2 3l3 4l5 2l3 2l2 4l1 4l4 3l4 2l3 5l1 3l4 3l4 2l4 4l2 4l5 3l4 2l3 4l2 5l3 2l3 3l1 3l0 3l-2 2l-3 2l-2 3l-4 3l-4 1l-6 0l-4 4l-5 2l-6 0l-4 2l-4 2l-4 2l-5 0l-4 2"/><path d="M996 1415l-5 1l-4-1l-5-1l-5 2l-5 2l-4-1l-3-3l-3-2l-4-3l-2-5l1-5l-2-4l-2-4l0-5l1-4l1-4l0-4l1-4l2-4l4-2l3-4l4-3l5-2l5 1l4-3l4 0l4 1l5 2l4 0l4-1"/><path d="M844 1293l-3 5l-1 6l-2 4l-2 4l-3 3l-2 4l-3 3l-4 2l-5-1l-4 1l-5 0l-5-2l-4-4l-5-1l-3-2l-3-3l-2-5l-4-2l-3-3l-1-4l2-4l4-3l2-5l3-3l4-3"/><path d="M955 1684l-1-4l1-6l-2-5l0-6l1-5l-4-4l-2-4l-1-4l1-4l-2-4l0-5l2-4l3-4l1-6l3-4l4-2l4-1l4-2l6 0l5 2l4-1l5 0l4 2l3 4l5 2l3 2l3 4l1 4l3 4l2 5l0 5l0 5l2 4l1 6l-2 4l-2 3l-2 3l-4 1l-4 0"/><path d="M795 1264l-5 0l-5-2l-4-3l-5 0l-4-1l-3-3l-1-3l2-3l1-2l0-4l2-4l3-3l5-3l1-5l3-4l4-3l3-3l2-5l1-3l3-4l3-4l0-5l1-4l2-4l3-3l1-4l2-4l3-3l4-2l3-4l3-4l4-2l5-1l3-2l4-1l4 0l3 3l2 4l4 2l4 3l3 4l2 5l5 1l4 2l3 3l3 5l5 1l3 3l2 4l0 4l0 3l0 4l0 4l-3 4l-3 3l-1 5l-1 4l-3 4l-4 3l-1 4l-1 4l-3 4l-4 2l-3 4l-2 3l-3 3l-4 2l-3 4"/><path d="M628 1454l-2 4l-3 3l-4 2l-4 1l-3 5l-4 3l-5 2l-4 3l-3 4l-4 2l-4 1l-4-1l-2 1l-3-1l-3-2l-1-5l1-5l-3-5l-1-5l0-5l1-4l-3-5l-1-4l0-4l2-4l-1-4l-1-4l1-4l3-4l1-4l1-4l1-5l3-3l4-2l2-3l3-3l4-2l5 0l4-1l4-4l5-2l3-1l4-2l2-4l4-3l4-2l4-3l3-4l3-3l4-1l4-1l3-2l5-1l4 1l4 4l5 0l5 2l3 4l3 4l3 2"/><path d="M190 1371l2-4l4-3l4-2l3-4l4-1l5 0l4 1l5-2l5 1l4 2l3 3l4 1l3 3l1 5l1 5l3 4l1 4l1 4l1 5l3 4l1 4l0 5l0 4l2 4l-1 5l-2 4l-2 4l0 5l-3 3l-3 3l-4 2l-2 4l-4 2l-4 1l-4-1l-4 1"/><path d="M406 1775l-5 0l-5-1l-4-1l-5 2l-4 0l-5-2l-5 0l-5 1l-5-1l-4-3l-3-1l-4-1l-2-4l1-4l3-4l-1-6l1-4l2-4l-1-5l-4-4l-1-5l0-4l0-4l0-4l3-4l4-2l4-3l3-4l4-2l4 0l3 2l4 0l3 1l4 4l2 4l5 1l4 1l4 1l4 2"/><path d="M313 1320l2 3l4 3l4 2l3 3l2 4l3 3l4 2l4 3l2 3l2 4l4 3l3 3l1 4l1 4l3 3l1 4l0 4l-1 5l0 4l1 5l-1 4l-2 4l-1 4l0 5l-1 4l-2 4l-2 5l1 5l-2 4l-3 4l-2 4l-1 4l-3 3l-3 2l-5 0l-3 3l-4 3l-5 0l-4-1l-4 1l-5 1l-4-1l-3-2l-3-2l-4-1l-3-2l-3-4l-2-4l-4-2l-4-2l-4-3l-3-4l-4-1"/><path d="M320 1569l-5-2l-5-1l-5-1l-4-3l-1-5l-4-2l-2-3l-1-5l1-5l-2-5l-1-4l2-5l2-3l1-4l2-4l4-2l4-2l4-4l3-3l5-1l4-1l3-4l5-3l5 0l4-3l4-3l5 0l3 1l2 1l2 1l2 3l1 5l-2 4"/><path d="M404 1431l4-4l4-3l3-4l2-4l2-3l4-4l1-4l1-5l2-4l3-3l1-4l1-4l2-3l3-1l4 1l4 0l4 0l4 2l4 4l4 2l5 1l3 2l4 3l5 0l6 0l4 3l4 2l3 1l2 2l0 3l-2 3l-4 2l-2 5l-3 4l-4 3l-4 3l-2 4l-2 3l-4 4l-3 4l-2 5"/><path d="M945 1656l2 5l5 2l3 4l2 4l3 4l4 3l3 4l0 5l0 4l1 4l-1 4l-3 4l-4 3l-1 4l-2 4l-3 3l-4 3l-1 5l-2 4l-3 3l-4 1l-2 2l-4 2l-4 0l-4-2l-4-2l-5 0l-4-2l-3-3l-2-4l-4-2l-3-4l-2-4l0-5l-2-3l-2-4"/><path d="M313 1272l0-5l-2-4l-3-4l-1-5l-1-5l-4-2l-4-3l-2-5l-1-4l-1-4l-1-4l1-3l3-4l3-4l1-5l2-3l4-3l4 0l3-4l5-1l5 1l4 1l6-1l4 0l5 2l4 1l5-1l4 1l4 3l1 3l3 3"/><path d="M770 1812l-5 0l-3-3l-2-5l-2-4l-2-4l-1-5l1-5l-2-3l-3-5l-1-4l0-4l-2-4l-2-4l-2-5l0-6l-3-4l-1-5l2-3l3 0l4 1l5-1l5 2l5 3l5 0l5 1l4 3l4 3l5 1l4 2l2 4l3 4l5 2l3 4l1 4l2 4l4 4l2 4l0 5l0 3"/><path d="M901 1497l4-2l4 0l4 2l5 2l5 0l4 2l3 3l2 3l3 2l3 4l1 4l-1 5l1 4l1 5l-1 4l-1 4l-1 5l0 5l-1 4l-4 4l-2 3l-2 4l-3 2l-5 0l-4-1l-5 1l-5 0l-5-2"/><path d="M459 1153l4-4l4-2l4 0l3-3l4-2l5-1l4 1l4-1l4-2l4-1l5 1l4 0l5-2l4 1l3 2l2 3l4 2l4 2l2 4l1 4l3 4l3 3l1 4l0 4l1 4l3 5l0 4l-1 5l0 5l1 4l-2 4l-3 2l-3 1l-3 3l-4 2l-4 0l-5-1l-5 2l-5 0l-5 0l-4-1l-4 2l-4 1l-5-1"/><path d="M630 1261l3-3l5-2l4-3l2-4l4-3l5-1l4-2l2-4l4-2l4 0l3 0l3-1l3 0l3 0l3 2l2 3l2 4l4 3l2 4l1 5l1 5l4 4l1 5l0 5l1 4l2 3l1 5l-1 4l0 4l1 5l1 4l-2 4l-2 4l0 4l0 5l-2 4l-4 4l0 4l-1 4l-3 4l-3 3l-2 5l-2 5l-3 4l-4 3l-1 5l-3 4l-4 2l-4 2l-2 4l-2 2l-3 1l-4 0l-3-2l-4 0l-4-1l-3-2l-3-4l-4-3l-4-2l-4-4l-2-4l-3-3l-4-2l-3-3l-3-4"/><path d="M676 1216l0 4l0 5l-2 4l-4 3l-1 4l-1 4l-3 3l-4 1l-4 2l-3 3l-5 2l-4 0l-5 1l-4 2l-5 0l-4-1l-4-1l-4 1l-4-1l-4-3l-4-2l-4-1l-4-2l-3-3l-3-3l-4-2l-4-2l-2-4l-1-4l-4-3l-3-3l-2-5l0-5l-3-3l-2-4l-1-4l2-4l-1-4l-1-4l1-4l2-4l2-4l0-4l1-4l3-3l3-3l1-4l2-4l3-3l4-2l3-4l3-3l4-3l5-1l3-3l3-3l4-2l4 0l4-3l4-3l4-2l5 0l4-3l4-1l4 0l4 1l4 0l4 0l4 2l3 3l3 3l4 1l4 3"/><path d="M546 1678l-4-2l-3-3l-5-1l-4-2l-4-3l-4-3l-4 0l-4 0l-4-1l-5-2l-4 0l-5 1l-4-2l-3-3l-3-1l-3-2l-3-3l-1-4l0-5l-2-4l-2-5l1-4l2-5l-1-5l1-4l2-4l3-1l2-4l3-3l4-2l5-1l4-3l4-3l5-1l5 0l3-3l4-2l5 0l5 1l4-2l5 0l4 1l4 2l5-2l4-1l4 0l5 1l4-2l5-2l4 0l4 2l4 0l4 0l3 3l2 4l2 4l3 3l2 5l0 5l0 5"/><path d="M738 1573l4-4l4-2l5 0l5-2l4-3l5 0l4 0l5-2l4-2l5 0l5 0l4-2l5 1l3 2l3 3l3 1l3 3l2 3l0 5l1 4l3 4l1 5l0 4l1 5l1 4l0 4l-2 4l-1 4l0 4l-2 5l-3 3l-2 4l-2 5l-2 3l-4 3l-3 2l-2 5l-3 3l-5 2l-3 3l-4 4l-4 2"/><path d="M413 1558l5 0l4 1l4-3l3-2l5 0l4 1l3 1l4 0l4 2l2 3l3 4l4 2l3 3l2 4l0 5l3 3l2 4l-1 5l-2 5l1 4l0 5l-2 3l-3 4l-1 5l-3 4l-4 2l-4 2l-3 3l-4 2l-5 0l-4 0l-5 1l-4 0l-4-2l-4-3l-5 0"/></g></defs><g fill="none" stroke="#1c1414" stroke-linecap="round"><use href="#cr0" filter="url(#f4)" stroke-width="12" stroke-opacity=".3"/><use href="#cr0" filter="url(#f1)" stroke-width="3" stroke-opacity=".72"/></g>
</g></g>
<path d="M710 1108l2-3l2-3l2-2l4-2l3 1l3 1l3-2l3 0l3 1l3 2l2 3l1 4l3 1l3 3l1 3l0 4l-1 4l0 3l2 3l0 4l-1 3l-2 3l-2 3l1 3l2 3l2 3l2 3l2 3l3 1l4-2l3-1l4 0l3 1l3 3l3 2l3 1l3 1l2 0l3 1l4 1l3-2l4-3l2-1l4 0l4 0l3-2l2-2l4-2l3-1l3 1l4 2l3-1l3-1l4 1l3 1l2 3l1 3l3 1l4 1l2 2l3 3l1 3l2 3l4 1l3 1l3 2l3 3l2 3l3 2l2 0l3 3l2 3l0 3l0 3l2 3l3 0l4 2l2 2l1 4l-1 3l0 3l1 4l0 3l0 3l0 3l1 3l2 2l4 0l3 0l4 1l2 2l2 3l3 1l4 0l3 1l3 2l2 2l2 3l2 2l3 2l3 3l1 3l1 3l1 4l2 2l3 1l3 2l2 2l2 3l2 3l3 0l3 0l3-1l3 0l3 1l4 1l3-1l3-1l3 0l3 1l3 2l2 3l2 2l3 1l3 2l2 3l0 3l0 4l1 3l3 3l1 3l1 3l-1 4l-2 3l0 3l0 4l-1 3l-2 3l-3 3l-2 2l1 4l2 2l1 2l1 3l1 3l1 4l3 2l1 3l1 3l0 3l-1 4l-1 3l1 4l0 3l-1 3l-3 3l-3 1l-2 3l-1 3l-2 3l-3 2l-3 2l-4 0l-3 1l-4 2l-4 0l-3 0l-3 0l-3 1l0 2l2 3l2 2l1 3l2 3l0 4l2 3l3 2l2 2l2 2l1 3l1 4l3 2l3 2l2 2l2 2l1 4l0 4l3 2l3 2l2 2l1 3l1 3l2 4l3 1l3 3l2 3l0 4l-1 2l-2 3l0 4l0 3l-2 4l-2 2l-4 3l0 3l0 3l0 4l0 3l-1 2l-2 3l0 3l1 4l0 4l-1 2l-2 2l-3 2l-2 3l0 4l-2 3l-2 3l-3 2l-3 2l0 4l-1 3l0 3l-2 3l-3 3l-1 3l0 4l0 3l0 3l-1 3l-1 3l-1 3l3 2l3 2l3 1l2 3l2 3l3 3l3 1l2 3l1 3l1 3l-1 4l1 3l2 3l1 3l-1 4l-1 2l-2 3l-1 3l0 3l0 4l-1 3l-3 2l-2 2l-2 3l0 2l-2 4l-2 2l-3 2l-4 0l-3 1l-1 3l-1 3l-1 3l-1 2l-2 4l-1 3l1 3l0 4l-1 3l-2 2l-4 2l-2 3l-2 3l-2 3l-3 1l-3 0l-2-1l-2-3l-3-1l-4-2l-2-2l-2-3l-1-3l-3-3l-3-2l-3-2l-2-3l-2-3l-2-2l-3 1l-1 4l-2 4l-1 4l0 2l0 3l3 2l3 3l3 2l1 4l0 3l1 4l3 2l1 4l0 3l-1 4l-3 2l0 3l0 4l-2 3l-3 3l-4 1l-3 0l-2 2l-2 2l-3 2l-4 0l-4 0l-3 0l-3 2l-3 1l-3 1l-3 0l-4-2l-3-1l-4 1l-4 0l-2-1l-3-1l-2-1l-4 1l0 3l-1 4l-1 3l-2 4l-2 1l-2 3l0 3l-1 3l-1 3l-2 3l-2 2l-3 3l1 3l-1 4l-1 3l-2 2l-2 3l-2 2l-1 4l-1 3l-2 2l-2 2l-4 2l-2 1l-2 3l-2 3l-3 1l-3 1l-4-1l-3-1l-3 2l-4 0l-3-1l-3-2l-2-2l-1-3l-4-1l-3-1l-2-3l-2-3l0-3l0-3l-3-3l-2-3l-1-3l0-4l1-3l-2-4l-2-2l-2-3l-1-3l0-3l0-4l-2-2l-2-2l-2-2l-2-2l-2-3l-1-4l-3-1l-4 0l-3 0l-3 0l-3-1l-4-1l-3 4l-2 2l-2 3l-2 2l-4 2l-2 3l-2 3l-2 3l-4 1l-3-1l-4-1l-3 1l-4 0l-3 0l-3-3l-1-3l-1-4l-3-2l-2-3l-1-3l0-4l3-3l1-3l0-5l1-3l0-2l0-3l-1-3l-4-2l-3-2l-2-3l0-3l0-4l1-3l-2-4l-2-3l-1-3l0-4l1-3l-1-3l-2-3l-1-3l-1-3l0-3l-1-4l-2-2l-3-2l-2-2l-2-2l-2-3l-1-3l-4-2l-4 0l-3-1l-3-1l-3 1l-3 1l-2 3l-1 4l-2 3l-3 2l-4 2l0 3l-1 4l-1 4l-3 2l-2 1l-4 0l-3 2l-4 1l-4-2l-2-2l-1-4l-3-3l-3-2l-3-3l-1-3l-1-3l-2-3l-3-1l-3-1l-3-1l-3-3l-3-3l-4 0l-3 2l-2 1l-2 1l-2 2l-4 2l-1 3l-1 4l0 2l-1 3l-1 2l-1 3l-1 3l1 3l0 3l0 4l-1 3l-2 3l-1 3l1 3l0 3l0 4l-1 3l-2 3l0 3l0 4l0 3l-1 3l-1 3l-3 2l-2 3l0 3l-2 2l-2 2l-3 1l-4 0l-3 0l-3 3l-3 2l-3 1l-4 0l-4-1l-3 2l-3 2l-2 1l-3 1l-3 1l-4 0l-3 2l-2 3l-2 2l-3 2l-3 1l-3 1l-2 1l-2 3l-3 2l-3 1l-3 0l-3-1l-4 1l-3 1l-3 2l-3 0l-4-1l-3-1l-3 1l-2 1l-2 1l-5 1l-3 1l-4-1l-2 1l-3 0l-3-2l-1-2l-1-2l-1-3l0-4l-2-3l-3-2l-2-3l0-3l-1-4l0-3l-3-2l-3-2l-2-2l-1-3l-1-3l-1-4l-3-2l-2-3l-2-3l0-3l0-3l0-3l-3-3l-2-2l-1-4l0-3l0-4l0-3l-2-3l-2-2l-1-3l0-3l1-3l1-3l-1-4l-1-3l1-3l1-3l1-2l2-3l0-3l-2-4l0-2l0-3l1-3l1-4l-1-3l-1-3l-2-3l0-3l0-3l1-4l-2-2l-2-2l-2-2l-2-2l-2-3l-2-4l-3-2l-4 0l-3-2l-2-2l-3-2l-1-3l-2-1l-5-1l-4-2l-2-3l-1-3l-2-3l-3-1l-2-2l-2-3l-1-3l0-4l0-3l-3-3l-2-3l-1-3l0-3l-1-3l-3-3l-4 0l-3 0l-4-2l-2-2l-1-3l-3-2l-3-3l-1-3l0-4l1-3l1-2l0-4l2-3l2-3l4-2l2-1l2-2l-3-1l-2 2l-4 3l-4 1l-5-1l-2-1l-3 1l-3 1l-3 0l-4-1l-3-1l-2-2l-4 1l-3 1l-3 0l-4 0l-3-2l-3-1l-3 1l-4 0l-3-2l-2-3l-1-4l-1-3l-3-2l-2-2l-3-1l-1-1l-2-2l-3-5l-2 0l-3-1l-2-2l-3-2l-1-2l-2-4l-3-2l-3-1l-3-2l-2-2l-2-3l-2-3l-2-1l-4-1l-3-2l-3-2l-2-2l-2-3l-4 0l-3-1l-3-1l-2-2l-3-3l-1-3l-4-1l-4-1l-2-1l-3-3l-1-3l-2-2l-3-1l-4-2l-2-2l-2-2l-1-3l-1-3l-3-1l-3-3l-2-2l-2-4l0-4l0-3l-2-3l0-4l2-3l2-2l4-2l1-4l0-4l1-3l1-3l1-3l0-4l-2-3l-2-3l0-3l0-4l2-3l-1-3l-1-4l0-3l0-3l2-3l2-3l1-2l-1-4l1-3l1-3l3-2l3-2l2-3l1-4l2-3l2-2l3-1l3 0l3-1l3-1l4 0l3 1l3 2l2 3l3 1l3 1l3 3l2 3l1 4l2 3l3 1l2-1l2 0l2-1l2-1l4-1l2-3l1-3l2-4l2-2l3-2l3-2l1-3l0-4l1-3l1-2l2-3l3-3l0-3l0-4l0-3l1-3l2-3l2-3l-1-3l-1-4l0-3l2-3l1-3l1-3l-1-4l0-3l0-3l1-4l2-3l0-3l-1-3l0-3l1-3l2-2l3-2l3 0l3-3l2-2l3-2l4 0l4 0l3 0l3-2l3 0l3 0l3 1l3 3l3 2l3-1l3 0l3 0l3 0l3 0l4 0l2-3l2-3l3-3l3-1l3-2l2-3l0-3l0-3l0-3l2-4l2-3l-1-3l1-3l2-3l3-1l3-1l4 0l3-3l3-2l4-1l2-1l4 1l3 0l3-2l2-2l3-1l4 0l3 1l3 1l3-2l3-2l3 0l4 0l3 1l4 0l3-1l4-2l3 0l3 1l3 2l4 0l3-1l4-1l3 1l3 1l3 2l3 0l4 0l3 3l2 3l2 3l2 3l3-2l1-1l1-3l2-3l3-2l3-3l1-4l1-4l3-2l3-1l4-1l2-2l3-2l3-2l3-1l4 0l3 1l3-1l3-2l4 0l3 2l3 2l2 3l4 0l3 1l2 3l2 3l0 3l-1 4l3 2l2 2l3 2l2 1l2 2l2 2l3 0l4 0l3-1l3 1l4 1l3 1l3 0l3-2l3-1l4 0l3 1l3 1l3-2l2-2l1-2l2-2l1-3l2-4l-1-4l0-4l1-3l3-2l4 0l3 0l4-2l3-2l3 0l4 2l3 2l4 0l4 0l3 2l2 3l0 4l-1 3l3 3l2 2l2 1l2 1l2 1l4 1l3-1l3-2l4-1l3 0l3 0l4 1l3-3l3-2l3-1l3 0l4 0l3-1l2-2l2-2l3-2l3-1l3 0l3-2l2-3l1-3l3-2l2-2l4-1l3-1l1-3l3-3l3-1l3-1l3-1l3-2l1-4l2-3l2-3l3-2zM426.8 1625.7a16.1 15 0 1 0 32.1 0a16.1 15 0 1 0 -32.1 0z" fill="none" stroke="#333" stroke-opacity=".8" stroke-width="2"/>
<path d="M750.9 1464L900 1325.5L933.7 1373.4z" fill="#0a0a0a"/>
<path d="M777.2 1445.8L899.3 1332.5L926.9 1371.7z" fill="#f4ef92"/>
<clipPath id="lc1_0"><path d="M1819 1165l-2-2l-2-3l0-4l1-3l3-3l1-4l0-3l1-3l1-3l3-3l2-2l1-4l2-2l2-2l3-1l4 0l3-2l3-1l3-1l3 1l4 2l3 2l4 1l3 2l2 3l1 3l0 3l3 3l1 3l1 3l-1 4l-1 3l1 4l1 3l-1 4l-2 3l-3 1l-1 2l-3 3l-3 1l-3 1l-4-1l-3 0l-4 2l-3 0l-4 0l-3-2l-4-1l-4 0l-3-1l-3-1l-2-3z"/></clipPath>
<g filter="url(#edge2)"><g clip-path="url(#lc1_0)"><rect x="1807.7" y="1110.7" width="74.2" height="73.1" fill="#f0ecee"/><g filter="url(#f6)"><ellipse cx="1844" cy="1145.3" rx="30.7" ry="27.9" fill="#f4b4b4" fill-opacity="1"/><ellipse cx="1847.3" cy="1134.7" rx="14.5" ry="11.2" fill="#ee8c8c" fill-opacity="0.8"/></g><rect x="1807.7" y="1110.7" width="74.2" height="73.1" fill="url(#bump)" style="mix-blend-mode:multiply"/><rect x="1807.7" y="1110.7" width="74.2" height="73.1" fill="url(#spec)"/><rect x="1807.7" y="1110.7" width="74.2" height="73.1" fill="#fff" fill-opacity=".05"/></g></g>
<clipPath id="lc1_1"><path d="M1229 1522l-1-3l-1-4l1-4l3-3l2-2l2-3l2-2l3-2l3 0l4 0l3-2l2-1l4 0l3 2l2 3l3 2l3 2l2 3l-1 4l0 5l2 3l2 1l2 0l2 0l4 0l3-2l3-3l4-1l4 0l3 0l3-2l3-1l3-1l4 1l4 0l3-1l3-1l3 1l4 2l3 2l4 0l3 1l3 3l2 3l2 2l2 2l1 2l0 4l-2 3l-3 2l0 4l-2 4l-2 2l-3 2l-3 1l-3 3l-2 3l-3 1l-3 1l-3 2l0 4l0 3l-1 3l-1 3l-1 4l1 3l1 3l1 3l-1 3l-1 4l2 3l2 3l1 3l-1 4l0 4l2 3l1 3l0 3l-2 3l-3 1l-2 3l-2 3l-3 2l-4 0l-3-1l-4 1l-3 2l-3 1l-3 1l-4 1l-2 3l-2 2l-3 1l-3-1l-3-2l-2-2l-4-1l-3-3l-1-3l-1-4l-2-3l-2-4l0-3l2-3l4-2l1-4l2-3l2-3l2-2l1-3l-2-3l-1-3l-1-4l0-3l1-3l-1-4l1-4l1-3l1-3l-2-3l-4 1l-4 0l-4-1l-3-3l-3-1l-3-1l-3-2l-3-2l-2-3l-2-2l-4-2l-3-2l-1-3l-1-4l-2-2l-2-3l-1-4l2-3z"/></clipPath>
<g filter="url(#edge2)"><g clip-path="url(#lc1_1)"><rect x="1217.7" y="1486.8" width="137.9" height="164.2" fill="#f0ecee"/><g filter="url(#f6)"><ellipse cx="1282.4" cy="1540.9" rx="55.9" ry="25.1" fill="#f2c4c4" fill-opacity="1"/><ellipse cx="1242.8" cy="1514.7" rx="17.9" ry="17.9" fill="#e04545" fill-opacity="1"/><ellipse cx="1296.4" cy="1587.3" rx="19" ry="20.1" fill="#6f7be0" fill-opacity="1"/><ellipse cx="1289.7" cy="1623.6" rx="30.7" ry="20.1" fill="#e85e5e" fill-opacity="1"/></g><rect x="1217.7" y="1486.8" width="137.9" height="164.2" fill="url(#bump)" style="mix-blend-mode:multiply"/><rect x="1217.7" y="1486.8" width="137.9" height="164.2" fill="url(#spec)"/><rect x="1217.7" y="1486.8" width="137.9" height="164.2" fill="#fff" fill-opacity=".05"/></g></g>
<g filter="url(#edge)"><g clip-path="url(#cp1)">
<rect x="1157.6" y="1092" width="954.3" height="747.6" fill="#f8f3f3"/>
<g filter="url(#warp)">
<g fill="#ff8888" fill-opacity="0.44" filter="url(#f18)"><ellipse cx="1652.9" cy="1313.5" rx="167.6" ry="111.8"/><ellipse cx="1708.8" cy="1453.2" rx="145.3" ry="111.8"/><ellipse cx="1932.3" cy="1620.8" rx="111.8" ry="89.4"/><ellipse cx="1876.4" cy="1341.4" rx="83.8" ry="67.1"/><ellipse cx="1541.1" cy="1229.7" rx="89.4" ry="67.1"/><ellipse cx="1792.6" cy="1581.7" rx="100.6" ry="67.1"/><circle cx="1390.3" cy="1570.5" r="33.5"/></g>
<g fill="#a8b2ff" fill-opacity="0.7" filter="url(#f10)"><ellipse cx="1245" cy="1330.3" rx="78.2" ry="61.5"/><circle cx="1524.4" cy="1436.4" r="61.5"/><circle cx="1856.8" cy="1721.4" r="58.7"/><circle cx="1759" cy="1609.6" r="39.1"/><ellipse cx="1837.3" cy="1212.9" rx="44.7" ry="27.9"/><circle cx="1876.4" cy="1173.8" r="27.9"/><circle cx="2071.9" cy="1307.9" r="22.4"/><circle cx="1446.1" cy="1151.5" r="27.9"/><circle cx="1395.9" cy="1654.3" r="25.1"/><circle cx="1641.7" cy="1545.4" r="25.1"/><circle cx="1678" cy="1246.5" r="22.4"/><circle cx="1767.4" cy="1134.7" r="25.1"/><circle cx="2016.1" cy="1419.7" r="30.7"/><circle cx="1725.5" cy="1721.4" r="16.8"/></g>
<g fill="#ee3a3a" fill-opacity="0.85" filter="url(#f6)"><circle cx="1803.7" cy="1274.4" r="27.9"/><circle cx="1373.5" cy="1576.1" r="21"/><circle cx="1504.8" cy="1754.9" r="17.5"/><circle cx="1680.8" cy="1324.7" r="31.4"/></g>
<g fill="#4a58e2" fill-opacity="0.9" filter="url(#f6)"><circle cx="1446.1" cy="1140.3" r="20.3"/><circle cx="1194.7" cy="1358.2" r="24.6"/><circle cx="1636.1" cy="1537" r="17.2"/><circle cx="1647.3" cy="1556.6" r="15.4"/><circle cx="1759" cy="1609.6" r="24.6"/></g>
<g fill="#f00404" fill-opacity="1.0" filter="url(#f4)"><circle cx="1513.2" cy="1168.2" r="34.9"/><circle cx="1541.1" cy="1212.9" r="34.9"/><circle cx="1507.6" cy="1201.8" r="27.9"/><circle cx="1608.2" cy="1235.3" r="34.9"/><circle cx="1395.9" cy="1252" r="27.9"/><circle cx="1373.5" cy="1236.4" r="21"/><circle cx="1507.6" cy="1307.9" r="55.9"/><circle cx="1574.7" cy="1352.6" r="31.4"/><circle cx="1479.7" cy="1330.3" r="34.9"/><circle cx="1708.8" cy="1224.1" r="24.4"/><circle cx="1647.3" cy="1414.1" r="38.4"/><circle cx="1641.7" cy="1386.1" r="24.4"/><circle cx="1619.4" cy="1481.1" r="34.9"/><circle cx="1770.2" cy="1358.2" r="31.4"/><circle cx="1775.8" cy="1414.1" r="34.9"/><circle cx="1781.4" cy="1470" r="34.9"/><circle cx="1775.8" cy="1525.8" r="41.9"/><circle cx="1714.3" cy="1537" r="27.9"/><circle cx="1820.5" cy="1531.4" r="27.9"/><circle cx="1854" cy="1414.1" r="27.9"/><circle cx="1921.1" cy="1369.4" r="24.4"/><circle cx="1932.3" cy="1475.5" r="48.9"/><circle cx="1988.1" cy="1492.3" r="41.9"/><circle cx="1954.6" cy="1537" r="41.9"/><circle cx="1893.1" cy="1453.2" r="27.9"/><circle cx="1865.2" cy="1492.3" r="27.9"/><circle cx="1809.3" cy="1637.6" r="31.4"/><circle cx="1988.1" cy="1682.3" r="27.9"/><circle cx="1379.1" cy="1537" r="17.5"/><circle cx="2055.2" cy="1260.4" r="10.5"/></g>
<g fill="#1212dc" fill-opacity="1.0" filter="url(#f4)"><circle cx="1767.4" cy="1123.5" r="20.7"/><circle cx="1904.3" cy="1151.5" r="17.8"/><circle cx="1678" cy="1232.5" r="16"/><circle cx="1792.6" cy="1224.1" r="17.8"/><circle cx="1837.3" cy="1229.7" r="20.7"/><circle cx="2080.3" cy="1277.2" r="20.7"/><circle cx="1222.6" cy="1285.6" r="20.7"/><circle cx="1530" cy="1425.3" r="32.6"/><circle cx="1541.1" cy="1394.5" r="15.4"/><circle cx="1365.1" cy="1514.7" r="17.8"/><circle cx="2016.1" cy="1414.1" r="22.5"/><circle cx="1823.3" cy="1481.1" r="14.8"/><circle cx="1856.8" cy="1715.8" r="35.5"/><circle cx="1376.3" cy="1673.9" r="17.8"/><circle cx="1655.7" cy="1673.9" r="11.8"/><circle cx="1286.9" cy="1313.5" r="17.8"/><circle cx="1312" cy="1344.2" r="16"/></g>
</g>
<rect x="1157.6" y="1092" width="954.3" height="747.6" fill="url(#bump)" style="mix-blend-mode:multiply"/>
<rect x="1157.6" y="1092" width="954.3" height="747.6" fill="url(#spec)"/>
<defs><g id="cr1"><path d="M1628 1621l-3 4l-4 2l-5 1l-3 4l-3 2l-4 1l-4 0l-3-1l-5 1l-4-1l-4-3l-4-3l-5-1l-4-3l-3-4l-3-3l-3-3l-2-4l0-4l1-4l-3-5l0-5l1-5l1-4l-1-5l1-5l2-3l3-3l1-4l2-3l4-3l4-1l4-2l3-3l4-2l5 0l4-1l3-3l5-2l5 0l5-2l4-3l4-1l5 1l3 1l4 0l3 2l2 3l0 5"/><path d="M1823 1203l1 4l0 4l-1 4l-1 5l1 4l-1 4l-2 4l-1 5l0 5l-1 4l-3 4l-1 5l0 6l-2 5l-3 4l0 5l-1 4l-2 2l-3 1l-2-1l-1-3l-3-2l-4-4l-2-5l0-5l-5-4l-3-4l-1-5l-1-3l-6-2l-5-1l-4-2l-3-2l-5-2l-1-3l-1-4l1-4l-1-5l-2-4l0-5l1-4l0-5l-1-4l0-5l1-4l1-5l-1-5l1-4l2-3l2-3l2-4l4-3l5-1l5 1l4-4"/><path d="M1206 1414l-4 3l-4 1l-3 3l-3 2l-5 0l-4-2l-5 1l-5 0l-4-2l-4-3l-5 0l-3-2l-3-3l-1-4l-2-4l-2-4l-1-5l1-5l-1-4l-2-4l-1-4l1-6l-3-4l-1-5l1-4l2-4l0-4l2-4l3-3l5-1l3-4l3-3l5-1l4 0l5-2l5-2l5 1l5 1l5-1l4 1l3 3l2 3l3 3l2 3"/><path d="M1807 1596l-5-1l-4-1l-4 1l-4 1l-4-1l-4-2l-2-3l-4-1l-3-2l-3-3l-1-5l-2-3l-4-4l-1-4l-1-4l0-4l-3-4l-1-4l0-5l1-5l-2-4l1-4l1-4l3-4l0-4l1-4l3-3l4-2l3-3l2-4l4-2l4-2l3-2l3-4l4-2l4-1l4-2l4-3l5-1l3 0l5 0l4-3l4-1l4 0l5 2l4-2l4 0l4 2l3 2l3 3l5 1l4 2l2 4l3 4l4 2l3 3l1 4l0 4l2 3l1 4l-1 4"/><path d="M1680 1639l-3-2l-4-3l-3-3l-4-1l-4-3l-3-3l-2-4l-4-2l-4-3l-3-4l-2-4l-4-3l-3-4l-1-4l1-4l-2-4l1-4l2-4l4-3l2-5l2-4l3-4l4-3l0-4l1-5l2-4l4-3l0-5l1-4l3-3l4-2l3-2l3-3l4-2l5 0l5 1l4-2l5 0l5 2l4 2l4 0l3 2l2 4l1 4l3 4l3 4l0 4l0 5l2 4"/><path d="M1340 1486l-4 1l-4-2l-5 1l-5 0l-5-3l-4-3l-5 0l-4-2l-3-3l-2-4l-4-3l-3-3l-1-5l-1-5l-5-3l-3-3l-2-3l-3-4l-5-1l-4-2l-4-3l-3-3l-5-2l-3-2l-2-3l0-4l0-3l-1-4l1-4l3-3l4-3l2-5l2-4l3-3l4-3l0-5l1-4l3-4l3-4l1-5l1-4l3-3l3-1l3-1l2-1l4 1l3 2l3 4l3 3l4 3l4 3l2 5l3 3l3 1l4 4l2 4l3 3l4 2l3 3l2 4l1 4l3 4l2 3l0 5l-1 5l2 4"/><path d="M1424 1385l3-2l2-3l3-3l4-1l5 0l3-3l4-2l4-1l5 0l3-3l4-3l3-2l5-1l3-4l3-4l5-2l5-3l2-4l4-3l4-2l4-1l3-3l3-2l3 0l3 2l2 3l4 3l3 3l1 5l1 5l3 4l2 5l0 5l1 4l2 4l2 4l-1 4l-1 4l1 3l1 5l-1 4l-3 4l0 4l1 4l-1 5l-3 4l-1 4l0 5l-2 5l-4 3l-1 5l-2 4l-4 2l-3 1l-4 1l-3 3l-4 2l-4 0l-5-1l-4 3l-5 1l-4-1l-5-1l-5 2l-4 0l-4-1l-4-2l-4 1l-5 0l-4-2l-4-3l-5 0l-5-2l-3-3l-4-3"/><path d="M1626 1128l3-4l4-3l5-2l4-2l4-3l4-2l5 0l4-1l4-2l4 0l3 1l3 2l4 2l4 3l3 3l1 5l3 4l3 5l1 5l-1 5l1 3l1 4l-1 4l-2 4l-1 4l0 5l-1 4l-3 4l-2 4l-1 5l-2 4l-3 3l-3 3l-1 4l-3 4l-4 2l-4 3l-2 4l-3 4l-4 1l-4 2l-3 3l-3 3l-4 1l-4-1l-5 2l-4 1l-4 0l-5-2l-4 0"/><path d="M1234 1346l-4-3l-1-4l1-3l-1-3l1-3l3-4l4-2l4-2l3-5l4-3l5-1l3-3l3-3l4-2l5 0l4-1l3-3l4-1l4 0l5 0l4-4l3-2l4-2l5-1l2-4l4-3l5-2l4-2l3-3l4-2l4-1l3 1l4-1l5 0l4 3l3 4l4 2l4 2l2 4l1 4l0 3l2 4l0 4l-2 4l-3 4l1 5l-1 4l-2 4l-2 4l1 5l0 4l-1 4l-2 4l0 5l-1 4l-2 4l-4 2l-3 1l-3 3l-4 2l-4 0l-5 0l-5 2l-4 2l-5-1"/><path d="M1505 1427l-1-5l2-5l-1-4l-1-4l1-4l2-4l3-4l0-5l2-4l4-3l4-2l2-3l3-4l4-2l6 0l3-3l5-3l4 0l3 1l3 1l4 0l3 4l1 5l-1 6l3 5l2 4l1 4l2 5l4 2l3 4l1 4l-2 3l-2 3l-1 4l-3 3l-4 2l-4 1l-4 4l-3 3"/><path d="M1754 1392l4 3l2 3l3 3l5 1l3 3l3 4l3 3l5 3l3 3l2 5l2 4l3 3l2 4l0 4l-1 4l1 3l0 4l-1 4l-3 3l-3 4l-1 5l-2 4l-4 3l-3 4l-2 5l-3 3l-4 2l-3 3l-3 3l-3 3l-4 1l-5 1l-3 3l-4 2l-4 0l-5-1l-4 3l-4 1l-5 0l-4-2l-4 1l-4 1l-4 0l-4-2l-5-1l-4 1l-5-1l-4-2l-4-2l-4-1l-5-1l-3-3l-2-4l-4-1l-3-3l-1-3l-1-3l0-4l-3-4l-2-4l0-4l1-5l-2-4l-1-5l1-4l2-4l-1-5l0-4l2-4l3-3"/><path d="M1861 1863l-3 4l-4 4l-5 1l-3 3l-4 1l-3 0l-3-2l-1-3l-3-3l-3-3l-2-4l-1-6l-3-4l-3-4l-1-4l0-5l-3-3l-3-3l-1-4l-1-5l-3-3l-2-3l-1-4l0-4l0-4l-2-4l1-5l1-4l2-4l0-5l1-4l3-4l2-3l1-4l2-4l4-2l4-1l2-4l3-3l4-1l4 0l4-2l4-3l4-2l5 0l4-1l5-1l4 2l2 3"/><path d="M1321 1236l-1 5l-1 4l1 5l0 5l-3 5l1 4l1 5l0 4l0 4l1 5l4 4l1 4l1 5l2 4l3 3l1 4l0 4l-2 2l0 4l-1 4l-3 3l-4 2l-4 1l-3 4l-4 2l-5 1l-4 0l-4 3l-3 2l-5 1l-5-1l-4 1l-5 2l-4-1l-4-2l-5 0l-4 0l-4-2l-2-3l-2-3l-5-2l-3-2l-3-4l-1-4l-4-3l-3-3l-3-3l-1-5l-2-3l-2-3l-3-4l0-4l0-5"/><path d="M1509 1516l-4-3l-4 1l-5-1l-4-2l-2-4l-3-2l-4-3l-3-3l-1-5l-4-4l-3-4l-2-4l-1-5l-4-3l-3-4l-1-5l-3-5l-3-3l-1-4l0-4l2-3l0-3l2-3l4-2l5 0l5-2l4-2l5 0l4 0l4-3l4-3l4-1l5 0l4-2l4 0l4 1l3 3l3 3l5 1l3 3l3 4l2 4l4 2l2 4l0 5l0 4l2 5l1 5l-2 5l1 4l2 4"/><path d="M1918 1437l5 2l5 1l4-3l6-1l4 1l3 1l2 2l2 4l-1 5l-2 5l2 4l0 5l-1 5l0 4l2 5l-1 5l-3 4l0 5l0 5l-2 4l-4 2l-2 4l-3 3l-5 1l-5-1l-5 1l-5 0l-4-2l-2-3l-4-2l-4-3l-2-4l0-5l-4-4l-2-3l-1-5l1-4l-2-5l-1-4"/><path d="M1540 1490l-5-2l-4-3l-3-5l-1-4l-2-3l-2-2l0-4l3-3l4-2l3-4l4-4l5-1l4-1l4-4l4-2l5-2l4 0l5-3l4-1l5 2l2 3l4 1l5 2l3 4l1 5l5 3l3 3l2 5l0 4l4 4l2 4l0 5l-1 5l2 4l0 4"/><path d="M1342 1446l-2-4l-2-3l-3-4l0-5l1-5l-1-5l0-5l0-4l3-4l0-5l0-5l2-4l4-3l2-3l2-3l4-1l4 0l5 1l4-1l4-2l4-1l4 0l4-1l4-3l4-1l4 0l4 2l4 0l4 1l3 3l3 5l4 2l4 3l2 4l1 4l1 4l2 4l-1 5l-2 5l-1 4l0 5"/><path d="M1586 1645l1 4l-1 4l1 4l1 5l-2 5l-3 4l0 5l-1 4l-3 4l-3 3l-2 4l-2 4l-3 3l-5 2l-2 4l-3 5l-3 2l-4 3l-1 4l-2 4l-3 4l-4 3l-2 5l-2 4l-3 2l-4 2l-2 1l-3 2l-3 0l-3-2l-2-2l-2-4l-4-2l-4-4l-2-4l-1-5l-5-3l-2-3l-2-4l-1-4l-4-3l-3-3l-2-4l0-5l-3-2l-3-4l-1-3l-1-4l0-5l-3-3l-2-5l0-5l0-4l-2-5l-1-4l2-5l1-3l0-4l1-4l4-2"/><path d="M1524 1546l1 4l3 3l3 4l1 5l0 5l3 5l1 4l-1 5l-1 3l0 5l-1 5l-4 4l-3 3l-3 4l-4 3l-5 0l-3 0l-4 2l-4 0l-5-1l-4-3l-5 1l-5-1l-3-2l-3-4l-5 0l-3-2l-3-4l-1-4l-3-3l-3-4l-2-4l0-4l-2-4l-2-3l-2-4l1-5l1-5l-1-5l2-4l3-3l3-3l3-3l3-1"/><path d="M1196 1465l-3-3l-2-6l-4-3l-2-5l0-4l3-3l1-5l2-4l4-3l4-2l2-4l3-4l4-3l6 0l3-3l4-3l5-1l5 1l4-2l4 0l3 3l0 4l1 5l2 5l1 4l0 5l2 4l3 3"/><path d="M1289 1305l-1-4l1-5l3-4l0-5l0-5l2-4l3-4l1-5l1-4l3-4l3-2l2-4l2-3l3-3l4-1l4 0l3-3l4-2l5-1l4 1l5-2l4-1l5 0l4 2l5-1l4-1l4 1l4 2l4 1l4 0l5 1l3 3l4 3l5 0l3 3l3 3l3 4l5 1l3 3l2 4l2 4l3 3l3 3l1 4l1 5l3 4l3 4l1 4l0 5l3 4l1 5l0 4l-1 4l1 4l1 4"/><path d="M1492 1303l-3-2l-2-4l-1-4l-4-2l-3-4l-1-4l-1-4l-3-4l-3-3l-2-4l0-4l-3-4l-3-3l-2-5l0-4l-2-4l-3-4l-1-4l0-5l0-4l-2-3l0-5l2-4l3-3l-1-5l2-4l2-3l4-3l1-4l2-4l2-3l4-2l3-4l3-4l3-3l5-1l3-2l4-3l4-1l3 0l4 3l3 0l5 1l4 3l2 4l4 2l5 3l3 4l1 5l4 2l3 3l2 5l0 4l2 4l3 4l0 5l0 5l2 4l1 4l0 4l-1 5l1 4l1 5l-1 4"/><path d="M1847 1328l3-3l4-2l2-3l3-3l3-3l4-1l4-1l3-3l3-3l4-1l5-1l3-4l4-3l5-2l4-2l4-3l4-3l4 0l4 1l4-2l3 1l3 1l2 3l1 4l3 3l3 4l1 4l0 5l3 5l2 4l0 6l-1 5l3 4l0 5l-1 4l-2 3l1 5l0 4l-1 5l-3 4l0 4l0 5l-3 4l-3 4l0 5l-1 4l-2 4l-3 2l-2 3l-1 3l-2 3l-3 2l-4 0l-4-1l-4 2l-4-1l-4-2l-4-3l-5 0l-5-1l-4-2l-4-2l-4 1l-5 1l-4 0l-6-1l-4 3l-5 0l-4-1l-4-1"/><path d="M1448 1655l3-4l1-4l4-3l4-2l6 0l4-3l4-1l5 1l4 3l6 0l4 3l2 4l0 4l2 5l0 5l-3 5l-1 5l1 4l0 5l-1 4l-2 4l1 4l-2 4l-4 2l-5 0"/><path d="M1911 1540l4-2l4-1l5 0l3-3l4 0l4 2l3 3l4 3l5 0l4 2l4 1l5 0l5-2l5 0l4 2l3 1l4 2l4 4l0 5l1 5l1 4l-1 4l-4 3l-5 1l-2 4l-3 4l-2 4l-3 4l1 6l-1 5l-4 3l-4 0l-4 3l-5 1l-5 0l-5-1l-5 0l-4 0l-3-4l-2-4l-3-3l-3-4l-2-4l-1-5l-5-1l-4-2l-4-3"/><path d="M1432 1485l-2 3l-4 3l-3 3l-2 4l-4 3l-4 1l-4 3l-3 3l-3 3l-5 1l-4 2l-4 3l-5 2l-4-1l-4 0l-5 3l-4 0l-5 0l-5-1l-4 2l-4-1l-4-1l-3-3l-5 0l-5-2l-3-4l-2-4l-5-3l-2-4l-1-4l0-5l-2-3l-1-4l1-5l2-4l0-4l1-5l2-4l5-3l2-4l2-3l3-2l4-1l4-2"/><path d="M1807 1284l-1-4l-4-3l-2-4l-1-4l-1-5l-4-4l-2-4l0-4l1-4l1-4l3-5l4-3l5 0l4-3l5-1l5 2l4 3l5 0l4 2l4 3l2 4l4 3l3 4l2 6l0 4l3 4l2 5l-2 5l-2 3l-1 5"/><path d="M1388 1276l4-4l0-5l0-4l2-5l3-3l-1-5l0-5l2-5l2-4l0-6l1-5l3-4l0-4l1-5l1-3l3-3l3-1l1-2l3-2l3 0l4 1l3 3l4 2l5 2l4 3l2 5l5 2l4 3l3 4l1 4l4 3l3 3l2 4l0 5l2 3l3 4l1 4l-1 5l2 4l2 4l1 4l-1 4l0 5l2 4l1 5l-1 4l-1 4l1 5l0 4l-1 4l-3 3l1 5l-1 5l-2 4l-4 3l0 5l-2 5l-3 3l-4 2l-2 3"/><path d="M1806 1642l-5 1l-5 0l-5 2l-5 1l-5-2l-3-3l-3-1l-3-4l0-4l1-5l-2-4l-3-3l-3-4l-2-5l-3-3l0-4l2-2l3-2l5-1l3-3l4-3l5-2l4-1l2-4l2-4l4-4l3-3l2-4l2-4l4-1l5 0l4-2l4-1l5 1l4 2l5-1l4 1l4 2l2 5l5 2"/><path d="M1560 1202l4 0l5-1l4 0l4 2l4 2l5 0l4 1l4 2l4 2l5 1l4 2l3 3l4 3l4 1l3 3l2 3l1 4l3 3l3 3l2 4l0 5l1 4l3 4l0 4l0 5l1 5l2 4l-1 5l-1 4l1 4l0 4l0 4l-2 4l-1 5l0 4l-1 5l-3 4l-1 4l-1 5l-2 4l-4 3l-2 4l-1 4l-2 3l-4 2l-3 1l-3 3l-3 3l-4 1l-5-1l-4 1l-4 2l-5-1l-5-1l-4 0l-5 0l-4-1l-4-2l-4-1l-4 0l-4-2l-3-3l-3-3l-4-2l-3-3l-2-3l-2-5l-4-2l-3-4l-2-4l-2-4l-4-2l-4-2l-2-4l-3-4l-4-2l-4-2l-3-4l-2-4"/><path d="M1871 1544l-1-5l-1-5l-3-4l-2-4l0-4l2-4l0-4l1-4l3-4l5-2l2-5l2-3l4-2l5-2l2-4l3-4l5-1l3 0l3-1l4 1l3 4l1 6l4 4l4 3l3 3l4 4l5 0l4 3l1 4l-1 4l2 5l-1 5l-3 4l-2 5l-1 5l-2 3l-4 3l-2 4l-2 4l-3 3l-4 1l-4 4l-3 4"/><path d="M2024 1661l4 2l4 3l2 5l5 2l4 4l2 5l1 4l2 3l-1 4l-4 2l-6 1l-5 2l-4 3l-4 1l-5 0l-4 3l-4 3l-5 0l-4-2l-3-1l-5-1l-4-2l-3-4l-4-3l-4-2l-3-3l-2-4l-1-5l-4-4l-1-5"/><path d="M1650 1720l-4-1l-4-3l-4-1l-5-1l-4-3l-3-3l-3-2l-4-2l-4-3l-3-5l-4-3l-4-3l-3-4l-2-5l-3-2l-3-4l-1-3l0-4l1-3l-1-3l1-3l2-3l4-2l4-2l3-4l4-3l5-2l4-2l4-4l5-2l4 0l4-2l3-3l5-2l4 0l4-1l4-3l4-1l5 0l4 1l4-2l4 0l5 1l4 3l4-1l4 0l5 1l4 3l5 1l5 0l4 3"/><path d="M1539 1125l4 2l4 2l3 3l2 5l3 2l4 2l2 4l2 4l2 4l3 3l1 4l0 5l1 4l2 3l0 5l-1 5l-1 4l1 5l-1 5l-3 4l-2 4l-2 4l-3 2l-3 1l-5 0l-3 3l-5 1l-4 0l-5-1l-4 1l-4 2l-4 0l-4-2l-4 0l-4 1l-4 0l-4-1l-4-3l-4 1l-5-1l-3-3l-2-3l-4-2l-4-2l-3-3l-3-4l-3-3l-3-2l-3-4l-1-4l0-4l-2-3l-1-4l0-4l2-5l0-4l0-5l2-5l3-3"/><path d="M1534 1277l0 5l1 4l2 5l-1 5l-1 4l2 5l1 5l0 4l-1 4l3 4l2 5l1 5l1 5l4 3l1 4l0 5l0 3l1 4l-1 3l-3 4l-4 1l-3 3l-4 3l-4 2l-4 1l-4 2l-3 3l-3 3l-5 1l-4 2l-3 3l-4 2l-4-1l-4-1l-4 1l-4-1l-4-2l-3-3l-4-2l-4-2l-4-3l-2-4l-4-3l-3-2l-3-3l-1-4l-1-4l-4-3l-2-4l0-4l0-4l-3-4l-2-4l0-4l1-5l-2-3l-2-4l0-5l1-4l-1-5"/><path d="M2069 1594l2 5l0 4l3 4l0 5l-2 4l-3 2l-2 3l-4 3l-5 0l-6-1l-5 2l-4 1l-5 0l-4-2l-4 1l-4 0l-4-1l-4-2l-4-2l-5-1l-5-3l-3-4l-2-2l-3-3l1-3"/></g></defs><g fill="none" stroke="#1c1414" stroke-linecap="round"><use href="#cr1" filter="url(#f4)" stroke-width="12" stroke-opacity=".3"/><use href="#cr1" filter="url(#f1)" stroke-width="3" stroke-opacity=".72"/></g>
</g></g>
<path d="M1425 1133l1-3l1-4l3-2l3-2l4 0l4-1l2-1l4-1l3 0l3 2l3 2l4 1l3 0l4 1l2 2l2 3l1 4l3 2l2 2l2 2l1 3l0 3l-1 3l-2 3l-1 4l-1 3l-2 2l-1 2l0 2l2 3l4 0l3 0l4-1l2 0l3-1l2-2l1-4l1-3l3-3l3-2l4-1l1-4l2-2l3-2l3-1l3 1l4 1l3-1l3-2l3 0l4 1l3 1l3 2l3-1l4-1l3 1l3 1l3 3l3 2l3 0l3 0l3 2l2 3l0 3l1 4l3 2l3 2l2 2l1 3l1 3l2 3l4 1l4 1l2 2l3 3l2 2l3 0l2-1l1-2l1-2l1-2l2-3l2-3l0-4l0-4l0-3l2-3l3-2l3-1l1-4l3-3l2-2l4-1l4 0l2-2l3-2l3-1l4 0l3 2l3 2l3 1l4 0l3 1l3 3l1 3l1 4l3 2l3 2l2 3l1 2l2 2l3 2l3-1l3-2l3-2l4 0l4 0l3-2l2-2l2-2l3-2l3-1l4 0l3-3l2-3l2-3l2-1l3-2l3-1l2-3l1-3l1-3l3-2l2-2l4-1l1-3l1-3l1-3l3-3l3-2l3-2l1-4l1-3l2-2l3-1l3 0l4 1l3-1l4 0l3 1l3 2l2 3l2 3l3 1l3 3l1 3l0 4l-1 3l0 3l1 4l0 3l-1 3l-2 4l-2 3l1 3l2 2l2 3l1 3l1 4l2 3l3 1l4 1l3 1l2 1l3 1l3 0l3-2l3-1l3-1l3-1l4 1l3 0l3-3l3-1l3 0l4 1l3 1l3 1l4-2l3 0l3 0l3 1l3 1l3 0l2-1l2-3l3-2l3-2l3-2l2-3l1-4l2-2l3-2l3-1l4-1l2-3l2-2l4 0l2 1l3 2l2 4l3 1l4 2l2 2l1 3l0 3l-1 4l1 3l0 4l-1 4l-2 3l-3 1l-3 1l-2 3l-2 2l-3 2l-3 1l-3 1l-3 1l1 4l1 3l1 3l0 4l0 4l2 3l3 2l2 1l3 2l2 3l2 3l3 1l4 1l3 0l3 2l3 2l2 3l3 0l4-1l3 1l3 1l3 2l3 2l4-1l3 0l3 1l3 2l2 2l3 2l4-1l3 0l3 1l3 2l3 2l3 2l3-1l4 1l3 1l3 2l2 2l4 1l3 0l3 0l3 1l3 2l2 2l4 0l4 0l3 0l3 1l3 2l3 2l3-1l3 0l3-1l3 0l3 1l4 0l3-1l3-2l3-1l3 1l3 1l3 3l3 0l4 0l3 1l3 2l1 3l1 3l3 2l3 2l2 4l0 4l-1 3l-1 3l1 4l-1 3l-1 3l-3 3l-3 2l-2 3l-1 3l-2 2l-4 2l-4-1l-3 0l-3 2l0 3l0 2l0 3l0 3l0 4l2 3l3 3l1 3l1 4l-1 3l1 4l2 2l2 4l1 3l-1 3l-2 3l-1 3l0 3l0 4l-2 3l-2 2l-4 2l-2 2l-1 3l-3 2l-3 1l-3 1l-4-1l-3 2l-2 2l-1 3l-2 2l-1 3l-2 2l-1 4l1 3l0 4l-1 4l-2 2l-2 2l-1 4l0 3l-1 3l-2 3l-2 2l-3 2l-1 3l-2 4l-2 3l-2 2l-2 2l-3 3l2 3l1 2l1 3l1 3l-1 4l0 3l2 3l2 4l1 3l0 3l-1 3l-2 3l2 3l1 3l1 3l-1 4l-1 3l-2 3l1 3l1 3l0 3l-1 4l-2 2l-3 3l0 4l0 3l0 3l-2 3l-1 3l-2 3l2 3l1 3l0 3l0 3l-1 3l-1 4l3 2l2 3l1 3l1 3l1 3l1 4l3 1l3 3l2 2l1 3l1 4l0 3l3 2l2 3l1 3l0 4l-1 3l1 3l1 3l1 3l1 3l-1 4l-2 3l-1 3l1 3l0 3l0 3l-2 3l-2 3l-1 3l0 3l0 3l-1 3l-2 3l-2 3l-2 2l0 3l0 4l-1 2l-2 3l-2 2l-3 3l1 4l0 3l-2 3l-1 3l-3 2l-3 0l-2 3l-2 3l-3 2l-4 0l-4-1l-3-1l-3 2l-4 0l-3-1l-2-3l-2-3l-3-2l-4 0l-3-1l-2 0l-4-2l-4-2l-3 3l-3 3l-1 2l-1 2l0 2l-1 4l2 3l3 3l1 3l0 4l-1 4l0 3l1 3l1 3l-1 4l-2 2l-3 3l-2 2l-1 4l-2 2l-3 1l-3 1l-3-1l-3 0l-4 2l-3 1l-4 0l-3-1l-3-1l-3 1l-2 2l-3 3l-3 1l-3 2l-3 1l-1 4l-1 3l-2 3l-2 2l-2 2l-3 3l0 3l0 3l-1 4l-2 2l-2 3l-3 1l-1 4l0 3l-2 3l-2 3l-3 2l-3 1l-1 3l-2 3l-2 2l-3 1l-4 0l-4-1l-2 3l-4 1l-3 1l-3-1l-3-2l-2-2l-4 0l-3 0l-3-2l-2-2l-2-3l-1-4l-4-1l-2-1l-3-3l-1-3l0-3l0-4l-3-2l-2-2l-2-3l-1-3l0-3l-1-4l-3-2l-2-2l-3-2l-1-3l-1-3l-1-3l-3-1l-4-1l-3-1l-3-1l-3-2l-3-2l-3 2l-4 1l-2 0l-4 0l-3 0l-4 0l-3 3l-3 2l-3 0l-3 0l-3-1l-3-1l-4 0l-3-1l-3-3l-2-3l0-4l-3-2l-2-2l-1-4l0-3l1-4l0-3l-2-3l-2-3l-2-3l0-3l0-3l-1-3l-3-2l-2-2l-2-3l-2-2l-1-3l-2-3l-4-1l-3-1l-3-1l-2-2l-2-3l-2-3l-4-1l-4-1l-2-3l-2-3l-2-2l-3 0l-3 2l-2 2l-2 3l-4 2l-4 0l-2 3l-3 0l-3 0l-3-2l-3-2l-2-3l-4-1l-3-1l-3-2l-2-3l0-4l-1-3l-3-3l-2-2l-2-1l-2-1l-4-1l-3 1l-4 3l-3 2l-3 0l-3 0l-5-2l-2 2l1 2l0 2l0 3l-1 4l-1 3l1 4l1 3l1 4l-1 3l-2 3l-2 3l1 4l0 3l0 3l-2 3l-3 3l-1 2l0 4l-1 3l-2 3l-2 2l-4 2l-1 3l-2 3l-2 3l-3 1l-3 1l-3-1l-3 0l-4 2l-3 0l-3 0l-3-1l-3-1l-3 1l-3 3l-1 2l-2 3l-3 2l-3 1l-2 3l-1 3l-2 3l-3 3l-4 2l-3 2l-1 3l-2 2l-4 1l-3-2l-2-3l-2-3l-3-2l-3-2l-1-3l-1-4l0-3l-1-4l-2-3l-2-3l0-3l1-4l1-3l-2-4l-1-3l-1-3l0-2l-1-4l-2-3l-4 0l-4-1l-3-3l-1-3l-1-3l-2-3l-3-2l-2-2l-2-3l-1-3l-1-3l-3-2l-3-1l-3-2l-2-1l-3-3l-2-2l-3 0l-3 1l-3 0l-4 0l-3-2l-3-1l-3 1l-3 1l-3 1l-4 1l-3 0l-4 0l-2 3l-3 3l-3 1l-3 0l-4-2l-4-1l-4 1l-3-2l-3-2l-1-3l0-4l-3-3l-2-4l0-4l2-3l3-2l2-3l1-4l2-3l3-2l3-2l3-2l2-3l2-2l2-2l3-1l4-1l3-2l3-3l2-2l2-2l3-2l3-2l0-4l0-3l-1-2l-1-2l-2-3l-2-3l-4-1l-4-1l-3-1l-3-2l-2-3l-4-1l-4 0l-3-1l-3-2l-2-3l-2-3l-4-1l-3-1l-2-2l-1-3l0-3l3-2l1-3l1-4l2-3l3-2l3-2l3-3l0-3l0-3l0-3l1-4l1-5l-4-3l-2-2l-1-1l-2-1l-4 0l-3 1l-4 2l-3 0l-3-1l-2-2l-2-3l-3-2l-4 0l-3 0l-2-1l-3-2l-3-2l-2-2l-4 1l-4 0l-3-1l-3-2l-3-1l-3 0l-4 1l-3 1l-4 0l-4-2l-3-1l-3 2l-4 0l-3 0l-2-2l-2-3l-1-3l-3-2l-3-2l-1-3l-1-4l0-3l-2-4l-3-1l-3-2l-2-2l-2-2l-1-4l-2-2l-4-1l-3-2l-2-2l-2-3l-1-4l-3-1l-3-2l-3-1l-2-3l-2-3l-1-3l-3-2l-3-1l-2-2l-2-2l-1-3l-1-4l-3-2l-2-2l-3-2l-2-2l-1-3l0-3l-2-3l-3-1l-3-2l-2-2l-2-3l-2-3l-2-2l-3-1l-3-2l-3-2l-1-3l-1-3l-1-3l-3-3l-2-3l-1-3l0-4l1-3l-2-3l-1-3l-1-3l1-4l1-3l3-3l0-4l0-3l2-3l2-3l3-2l3-2l1-3l2-3l3-2l3-2l4-1l1-3l1-3l2-3l3-2l3-2l3-2l0-3l1-3l0-3l0-3l0-3l0-4l-4-2l-3-3l-1-4l0-3l3-3l0-4l1-4l2-3l3-2l3 0l3 1l3-1l3 0l4 0l3 2l3 3l3 1l3-2l3-1l3-1l3 0l4 0l3-1l2-3l2-3l2-2l1-2l2-2l2-3l-2-4l0-3l0-4l1-3l2-3l1-3l0-3l1-4l1-2l3-3l3-1l2-3l1-3l2-3l2-2l3 0l4 0l3-1l3-2l3-2l3 0l4 1l3 1l3-1l3-1l4 0l4 2l3 2l3 2l3 0l3 0l3-1l1 0l2-1l3-2l-1-4l-1-4l0-4l1-3l3-3l2-1l2-3l2-2l3-2l3-1l4 0l3 0l3-2l3-2l3 0l3 1l4 2l3 0l3-1l3-1l3 0l3 0l3 0l3-2l2-3l2-3l2-3l3-2l3-2l0-4l0-3l0-4l1-3l2-3l2-3l-1-3l0-4l0-3l2-2l2-3zM1486.9 1640.4a12.3 16.8 0 1 0 24.6 0a12.3 16.8 0 1 0 -24.6 0z" fill="none" stroke="#333" stroke-opacity=".8" stroke-width="2"/>
<circle cx="1257.8" cy="1285" r="7.8" fill="#fff" stroke="#888" stroke-width="1.2"/>
<path d="M1791.9 1480L1941 1340.7L1976.2 1388.6z" fill="#0a0a0a"/>
<path d="M1818 1461.9L1940.4 1347.6L1969.3 1386.9z" fill="#f4ef92"/>
<clipPath id="lc2_0"><path d="M726 2057l-2-2l-1-3l-1-3l2-4l2-3l1-3l0-4l1-3l2-3l2-2l2-3l1-3l2-3l2-2l4-1l3 0l3-2l3-1l4-1l3 1l3 2l3 2l4 1l3 2l2 3l1 3l1 3l2 3l2 3l0 4l-1 3l-1 3l2 4l0 4l0 3l-3 3l-3 2l-1 2l-2 2l-3 2l-4 0l-4-1l-3 0l-4 2l-3 0l-3 0l-4-2l-3-1l-4 0l-4 0l-3-2l-2-3z"/></clipPath>
<g filter="url(#edge2)"><g clip-path="url(#lc2_0)"><rect x="715" y="2003.1" width="74.2" height="73.1" fill="#f0ecee"/><g filter="url(#f6)"><ellipse cx="751.2" cy="2037.7" rx="30.7" ry="27.9" fill="#f4b4b4" fill-opacity="1"/><ellipse cx="754.6" cy="2027.1" rx="14.5" ry="11.2" fill="#ee8c8c" fill-opacity="0.8"/></g><rect x="715" y="2003.1" width="74.2" height="73.1" fill="url(#bump)" style="mix-blend-mode:multiply"/><rect x="715" y="2003.1" width="74.2" height="73.1" fill="url(#spec)"/><rect x="715" y="2003.1" width="74.2" height="73.1" fill="#fff" fill-opacity=".05"/></g></g>
<clipPath id="lc2_1"><path d="M121 2405l-1-3l-1-4l1-4l2-3l2-3l1-3l1-3l3-2l3-1l4 0l2-2l3-2l3-1l3 1l3 1l3 2l3 0l3 2l3 2l1 3l-1 5l2 4l1 3l2 1l1 1l3 0l3-1l3-3l3-2l4-1l4 0l3-1l3-2l3 0l4 0l3 1l4-2l3-1l3 0l4 1l2 2l4 0l4 0l4 2l2 3l3 3l3 1l3 2l1 3l-1 3l-1 2l-1 3l-1 4l-1 3l-3 3l-4 2l-1 3l-2 3l-2 3l-4 1l-4 0l-3 2l-3 2l-3 2l-2 1l-2 2l-1 3l2 4l1 3l0 4l-1 3l0 3l2 3l1 3l0 4l0 3l-1 3l2 3l1 4l0 3l-1 4l-1 3l1 3l-1 3l-2 3l-3 2l-4 0l-2 3l-3 2l-3 1l-3-1l-4-1l-3 1l-3 3l-2 1l-3 2l-3 0l-3-1l-3 1l-4-1l-3-2l-2-3l-1-3l-3-2l-2-3l0-4l1-4l1-3l1-3l2-3l3-3l3-2l2-3l-1-3l-1-3l0-3l0-4l0-3l-2-3l0-4l2-4l3-3l-1-3l-3-1l-3 0l-4-1l-4-3l-3-1l-4 0l-3-2l-3-2l-2-3l-3-2l-3-1l-3-2l-2-4l-1-3l-3-2l-2-3l0-4l0-3z"/></clipPath>
<g filter="url(#edge2)"><g clip-path="url(#lc2_1)"><rect x="109.3" y="2365.7" width="143.5" height="162.5" fill="#f0ecee"/><g filter="url(#f6)"><ellipse cx="177.4" cy="2418.7" rx="55.9" ry="25.1" fill="#f2c4c4" fill-opacity="1"/><ellipse cx="137.2" cy="2394.7" rx="17.9" ry="17.9" fill="#e04a4a" fill-opacity="1"/><ellipse cx="190.8" cy="2469.6" rx="19" ry="20.1" fill="#6f7be0" fill-opacity="1"/><ellipse cx="181.9" cy="2503.1" rx="30.7" ry="20.1" fill="#e85e5e" fill-opacity="1"/></g><rect x="109.3" y="2365.7" width="143.5" height="162.5" fill="url(#bump)" style="mix-blend-mode:multiply"/><rect x="109.3" y="2365.7" width="143.5" height="162.5" fill="url(#spec)"/><rect x="109.3" y="2365.7" width="143.5" height="162.5" fill="#fff" fill-opacity=".05"/></g></g>
<g filter="url(#edge)"><g clip-path="url(#cp2)">
<rect x="57.6" y="1987.1" width="957.1" height="744.8" fill="#f8f3f3"/>
<g filter="url(#warp)">
<g fill="#ff8888" fill-opacity="0.44" filter="url(#f18)"><ellipse cx="552.9" cy="2205.9" rx="167.6" ry="111.8"/><ellipse cx="608.8" cy="2345.5" rx="145.3" ry="111.8"/><ellipse cx="832.3" cy="2518.8" rx="111.8" ry="89.4"/><ellipse cx="776.4" cy="2239.4" rx="83.8" ry="67.1"/><ellipse cx="441.1" cy="2122" rx="89.4" ry="67.1"/><ellipse cx="692.6" cy="2474.1" rx="100.6" ry="67.1"/><circle cx="290.3" cy="2451.7" r="33.5"/></g>
<g fill="#a8b2ff" fill-opacity="0.7" filter="url(#f10)"><ellipse cx="145" cy="2211.4" rx="78.2" ry="61.5"/><circle cx="424.4" cy="2323.2" r="61.5"/><circle cx="748.4" cy="2619.3" r="58.7"/><circle cx="656.2" cy="2504.8" r="36.3"/><ellipse cx="737.3" cy="2110.9" rx="44.7" ry="27.9"/><circle cx="776.4" cy="2071.8" r="27.9"/><circle cx="971.9" cy="2211.4" r="22.4"/><circle cx="354.5" cy="2038.2" r="27.9"/><circle cx="262.3" cy="2407" r="14"/><circle cx="533.3" cy="2429.4" r="25.1"/><circle cx="580.8" cy="2136" r="22.4"/><circle cx="673" cy="2032.6" r="25.1"/><circle cx="916.1" cy="2317.6" r="30.7"/><circle cx="541.7" cy="2566.2" r="16.8"/><circle cx="301.4" cy="2563.5" r="27.9"/></g>
<g fill="#ee3a3a" fill-opacity="0.85" filter="url(#f6)"><circle cx="703.7" cy="2177.9" r="31.4"/><circle cx="569.6" cy="2261.7" r="24.4"/><circle cx="580.8" cy="2211.4" r="31.4"/></g>
<g fill="#4a58e2" fill-opacity="0.9" filter="url(#f6)"><circle cx="354.5" cy="2024.3" r="20.3"/><circle cx="698.2" cy="2119.2" r="16.6"/><circle cx="89.1" cy="2233.8" r="24.6"/><circle cx="538.9" cy="2437.7" r="15.4"/><circle cx="656.2" cy="2504.8" r="23.4"/><circle cx="541.7" cy="2566.2" r="12.3"/></g>
<g fill="#f00404" fill-opacity="1.0" filter="url(#f4)"><circle cx="418.8" cy="2055" r="31.4"/><circle cx="441.1" cy="2099.7" r="27.9"/><circle cx="508.2" cy="2124.8" r="34.9"/><circle cx="234.4" cy="2127.6" r="34.9"/><circle cx="402" cy="2194.7" r="55.9"/><circle cx="474.7" cy="2245" r="27.9"/><circle cx="374.1" cy="2217" r="31.4"/><circle cx="608.8" cy="2110.9" r="24.4"/><circle cx="815.5" cy="2116.5" r="27.9"/><circle cx="541.7" cy="2300.8" r="34.9"/><circle cx="513.8" cy="2373.5" r="34.9"/><circle cx="670.2" cy="2239.4" r="27.9"/><circle cx="670.2" cy="2295.3" r="34.9"/><circle cx="681.4" cy="2351.1" r="38.4"/><circle cx="675.8" cy="2418.2" r="41.9"/><circle cx="614.3" cy="2423.8" r="27.9"/><circle cx="720.5" cy="2434.9" r="24.4"/><circle cx="754" cy="2306.4" r="27.9"/><circle cx="815.5" cy="2272.9" r="24.4"/><circle cx="832.3" cy="2373.5" r="52.4"/><circle cx="888.1" cy="2390.2" r="38.4"/><circle cx="854.6" cy="2440.5" r="41.9"/><circle cx="776.4" cy="2362.3" r="24.4"/><circle cx="698.2" cy="2535.5" r="31.4"/><circle cx="882.5" cy="2580.2" r="27.9"/><circle cx="273.5" cy="2407" r="17.5"/><circle cx="270.7" cy="2451.7" r="24.4"/><circle cx="340.6" cy="2661.2" r="17.5"/><circle cx="955.2" cy="2172.3" r="10.5"/></g>
<g fill="#1212dc" fill-opacity="1.0" filter="url(#f4)"><circle cx="673" cy="2021.5" r="20.7"/><circle cx="807.1" cy="2052.2" r="17.8"/><circle cx="580.8" cy="2122" r="16"/><circle cx="734.5" cy="2127.6" r="17.8"/><circle cx="983.1" cy="2183.5" r="20.7"/><circle cx="122.6" cy="2166.7" r="20.7"/><circle cx="430" cy="2312" r="32.6"/><circle cx="438.3" cy="2278.5" r="15.4"/><circle cx="530.5" cy="2415.4" r="16.6"/><circle cx="916.1" cy="2312" r="22.5"/><circle cx="717.7" cy="2370.7" r="16"/><circle cx="748.4" cy="2613.7" r="35.5"/><circle cx="295.9" cy="2574.6" r="23.7"/><circle cx="189.7" cy="2194.7" r="17.8"/><circle cx="214.8" cy="2225.4" r="16"/></g>
</g>
<rect x="57.6" y="1987.1" width="957.1" height="744.8" fill="url(#bump)" style="mix-blend-mode:multiply"/>
<rect x="57.6" y="1987.1" width="957.1" height="744.8" fill="url(#spec)"/>
<defs><g id="cr2"><path d="M319 2546l-4-2l-5 2l-4 0l-5-2l-3-2l-5 1l-4 0l-5-1l-4-3l-5 0l-4 0l-4-2l-4-3l-4-1l-3-2l-3-2l-2-3l0-4l-1-3l-2-4l0-4l1-5l2-4l-1-5l1-5l3-4l1-4l1-5l1-4l3-3l3-4l0-4l2-4l3-3l4-2l2-5l3-3l3-3l5-1l3-4l3-3l4-2l4 0l4-1l4-3l4-2l5 0l4-1l5-3l4-1l5 1l5-1l4-1l4-1l4 2l3 2l4-1l3 1l2 2l2 3l1 4l1 3l3 4l1 4l0 5l-1 4l2 5l1 5l-1 4l0 5l1 5"/><path d="M726 2576l3 2l2 4l-1 5l1 5l2 5l0 4l0 5l2 4l3 5l-1 5l-1 4l1 5l1 5l-1 4l-3 4l0 5l-1 3l-4 1l-4-1l-4-2l-4 0l-5 0l-4-3l-4-2l-5 0l-4 0l-4-1l-3-3l-4-1l-4-1l-3-3l-2-4l-3-4l-4-4l-1-4"/><path d="M270 2186l-5-1l-4 2l-5 1l-5 0l-4-1l-4 3l-4 1l-5 0l-4-1l-4 2l-4 0l-3-1l-2-4l-2-4l-3-5l1-5l1-4l-2-6l0-5l4-5l1-4l2-5l4-4l5-2l3-3l4 0l4 2l3 4l5 0l4 2"/><path d="M772 2117l-1 5l-4 4l-3 5l-1 5l-3 2l-4-1l-3-3l-6-2l-4-4l-2-4l-1-4l-3-3l-2-4l0-4l0-5l-4-3l-3-4l-1-5l0-4l-2-3l2-4l4-2l6-1l3-5l1-4l2-4l3-5l0-5l1-4l3-2l3 2l3 4l4 3l3 5l1 6"/><path d="M588 2128l2 4l2 5l1 5l5 3l2 4l-1 4l-2 3l-2 5l-4 3l-5 1l-3 3l-5 4l-5 0l-5 0l-4 3l-5 1l-5-2l-4 0l-6 2l-6-2l-2-3l-2-2l1-6l3-5l1-5l0-5l1-5l2-4"/><path d="M313 2333l-3-3l0-4l3-4l2-5l2-5l3-4l1-5l-2-6l1-4l3-3l3-1l5-1l5 0l5 2l4-2l3-3l5-1l3 1l2 2l4 3l2 4l1 4l2 4l4 3l3 4l-1 4l-1 4l-1 4l-3 4l-4 3"/><path d="M799 2425l0-5l1-5l1-4l3-5l-1-5l1-5l3-3l4-1l3-3l3-2l4-1l5 1l4 0l5-1l5 0l4 2l4 1l4 0l4 2l3 3l2 4l3 2l4 3l2 4l2 4l3 4l4 2l3 2l3 3l4 3l5 1l4 2l3 3l3 3l4 1l3 2l2 3l0 4l-1 4l1 5l0 4l-3 4l-3 4l-1 4l-2 4l-3 2l-4 1l-4 2l-4 3l-5 1l-5 0l-4 1l-5 2l-4 1l-4-1"/><path d="M793 2612l-3-3l-4-2l-3-2l-1-4l0-4l1-4l-1-4l0-5l2-4l3-3l-1-5l1-4l2-4l3-4l0-5l2-4l3-3l4-2l2-4l3-4l5-2l5 0l4-4l4-1l4 0l5 0l4-2l5 0l5 1l4 2l4 0l4 2l3 3l3 4l5 2l4 3l2 4l2 4l3 3l2 4l1 5l1 5l3 5l1 4l-1 5l0 4l0 4l-2 4l-3 2l-4 1l-3 3l-4 3l-5 1l-5 1l-3 4l-3 3l-4 3l-3 3l-1 6l-2 4l-4 4l-2 4l-1 4l-3 3"/><path d="M508 2500l4-2l3-2l3-3l4-2l4-1l5 0l4-2l4-2l4 1l4 1l3 2l4 1l4 2l3 4l2 4l4 2l3 4l1 4l1 4l2 3l2 4l0 4l-1 5l-1 4l1 4l-1 5l-1 3l-3 4l0 4l-1 4l-2 4l-3 3l-3 3l-1 4l-3 3l-4 3l-4 3l-2 4l-3 3l-4 1l-4-1l-3 0l-4-1l-4-2l-3-5l-3-3l-4-2l-4-1l-4-3l-5 0l-5 1l-6 0l-4-2l-4 0l-4-1"/><path d="M540 2339l0-3l-2-3l-1-3l1-4l2-4l3-3l0-5l2-5l4-4l2-4l1-5l3-4l3-3l0-5l1-5l2-5l2-5l-1-6l2-4l3-5l0-4l1-5l2-3l3-1l3 0l2-1l3 0l3 1l3 2l3 4l4 2l4 3l3 4l2 5l5 2l3 3l2 4l3 4l3 2l4 3l2 5l3 4l3 3l3 4l0 5l2 3l2 4l1 4l-1 4l-3 3l0 5l-1 4l-3 4l-4 3l-2 4l-2 4l-4 2"/><path d="M463 2314l-1 4l1 4l2 4l1 5l-2 4l0 5l1 4l-1 4l-2 4l-4 1l-1 3l-3 3l-3 2l-4 0l-5 0l-4 3l-4 1l-5 0l-5-1l-4 2l-5 0l-4-1l-4-1l-5 1l-4 0l-4-2l-4-3l-5 0l-5-1l-4-3l-3-3l-5 0l-4-2l-3-3l-1-3l-2-2l-3-3l-1-4l1-5l3-4l-1-5l1-4l3-5l2-4l-1-5l0-4l0-5l-1-5l-3-5l0-5l1-5l-1-4l0-4l2-3l3-1l3 0l4-1l4-1l5 0l5 2l5 0l5-1l5 2"/><path d="M392 2110l-4 1l-3 3l-5 1l-5-1l-5 1l-3 3l-5 2l-6 0l-4 4l-5 1l-4 0l-3-2l-3-1l-3-3l-1-5l1-5l-3-4l-2-5l-1-5l-1-4l-4-2l-4-4l-2-4l-4-4l-3-3l-2-4l1-4l1-3l-1-5l2-4l3-3l4-4l1-4l3-4l4-1l4 0l3-2l4-1l4 2l4 3l5 1l5 1l4 3l3 3l5-1l5 0l5 2l5 0"/><path d="M566 2565l-2-4l-1-5l2-5l3-4l-2-5l-1-4l-2-5l0-4l-3-4l-1-4l3-4l4-2l5-2l3-4l4-2l5-1l4-2l4-2l5 1l4 4l4 3l5 2l2 4l2 5l3 4l3 4l0 4l-2 4l-2 4l-2 5l-3 3l-3 3"/><path d="M509 2096l4 3l3 3l5 1l3 3l1 4l0 4l2 4l1 4l-1 5l-2 4l0 5l-1 4l-3 3l-4 1l-4 3l-3 3l-5 2l-5 0l-3 4l-3 3l-4 2l-5 2l-3 3l-4 1l-5-1l-4-3l-6 0l-4-3l-3-4l-3-3l-2-4l0-4l2-4l2-5l0-4l0-5l1-4"/><path d="M231 2356l2-4l2-5l0-4l3-3l4-1l5 0l5-2l5 0l5 2l4 2l4 1l4 2l3 4l1 3l3 4l1 4l-1 5l0 6l3 2l3 4l3 4l1 4l3 3l1 4l-2 3l-5 2"/><path d="M212 2307l4 2l5 2l4 0l4 2l3 3l2 4l4 2l3 3l1 4l1 5l2 4l2 5l1 5l-2 4l1 5l1 4l-1 4l-2 3l-3 3l-1 4l-3 3l-3 3l-5 2l-3 3l-3 4l-4 2l-4 0l-4 2l-3 3l-4 2l-4 0l-5 0l-4 2l-5 1l-4-1l-4-2l-5 1l-4-1l-3-1l-2-3l-1-4l-4-3"/><path d="M273 2310l-3-1l-4-2l-5 0l-4-1l-4-2l-4-3l-5 0l-4 0l-5-1l-5-2l-5 2l-5-1l-3-2l-2-3l-4-2l-2-3l-2-5l1-4l-1-5l-2-5l1-4l1-4l2-3l0-5l2-3l3-3l4-2l1-5l2-4l3-3l3-3l1-5l2-5l3-4l4-2l2-4l3-2l3-1l4 2l4 3"/><path d="M945 2299l-5 0l-4-1l-4-3l-4-1l-4-1l-2-3l0-3l2-4l1-4l1-5l3-4l4-3l1-4l2-4l4-2l4-1l4-3l4-2l4 0l5 1l4-2l6-1l5 2l5 1l5 0l3 3"/><path d="M703 2682l-1-5l1-5l2-5l-1-4l0-4l1-5l3-4l0-4l1-5l3-4l4-2l2-5l2-3l3-2l5-1l3-3l4-4l4-2l5 0l4-3l4-2l4 0l4 1l4 1l3 0l4 1l3 2l2 4l4 3l4 2l3 4l1 5l3 3l3 4l2 4l0 4l1 3l1 4l1 4l-2 4l-3 4l1 5"/><path d="M636 2057l3 0l4 0l4 2l3 3l4 4l5 1l4 3l2 4l4 3l4 2l3 2l4 4l3 3l5 2l3 3l3 3l2 4l4 2l3 3l2 4l1 5l3 3l3 3l1 5l-1 5l3 5l2 5l-1 4l-3 2l-2 2l-3 2l-4 1l-5-1l-5-1l-5 2l-4 2l-4 0l-4 2l-3 4l-4 3l-5 1l-4 2l-3 3l-4 1l-3-1l-2-3l0-3l-3-3l-2-4l-1-5l1-5l-2-4l-2-5l-1-4"/><path d="M919 2565l4 3l3 3l2 6l4 3l4 3l1 5l0 4l1 2l0 3l-3 3l-4 2l-5 0l-4 3l-4 2l-5 0l-5 0l-4 3l-4 1l-5 0l-5 0l-5 1l-4-1l-4-2l-3-2l-4-2l-3-3l-2-4l-3-4l-3-3l-3-3"/><path d="M421 2463l5-1l4 1l4 3l4 0l5 0l4 1l4 3l4 1l5 0l4 2l3 4l3 2l3 2l3 2l0 4l-1 4l0 4l1 4l-1 4l-2 4l-2 5l0 5l-1 4l-3 4l-1 5l0 4l-1 4l-2 4l-1 5l1 5l-2 4l-3 4l0 4l-1 5l-2 3l-3 2l-3 1l-2 3l-3 2l-4 1l-5-1l-4 0l-4 1l-5 0l-4-2l-4-2l-5 1l-4-1l-4-2l-3-3l-5 0l-4-1l-4-3l-2-4"/><path d="M653 2416l0 5l-2 5l0 5l-2 3l-3 3l-5 1l-3 4l-4 3l-4 2l-5 1l-3 4l-3 4l-5 2l-4 2l-3 3l-4 2l-6 0l-5 1l-5 1l-5-2l-2-3l-1-2l-2-4l1-4l2-5l2-4l-1-4l2-5l3-3l2-4l0-5l1-4l1-4l2-4l-1-5l1-4l3-4l3-2l3-4"/><path d="M382 2235l-6 0l-5 0l-4-1l-1-3l0-4l3-4l0-6l0-5l1-4l2-5l-2-5l-1-5l1-5l2-2l3-3l5-1l5 2l3 4l4 0l4 3"/><path d="M157 2101l5-2l3-3l4-4l4-2l5-1l3-3l3-1l3-1l3 1l2 2l1 3l3 2l2 4l1 4l0 5l1 4l2 5l1 4l-1 6l3 4l2 3l0 4l1 5l3 4l4 3l2 4l1 5l4 2l3 4l1 3l0 4l-2 2l0 4l-1 3l-3 3l-4 1l-4 2l-4 3l-4 3l-4 1l-5 2l-2 4l-3 3l-5 2l-3 4l-3 5l-4 4l-5 1l-2 4l-3 2l-3 1l-3-2l-1-4l-3-3l-3-3l-1-5l0-6l-4-4l-2-5l-1-4l-2-4l-4-3l-3-3l-2-4"/><path d="M383 2410l2 3l2 3l2 4l0 4l-2 5l2 4l1 5l-2 5l-1 5l1 5l-2 5l-3 4l-1 4l-1 4l-2 3l-3 2l-4 1l-2 2l-4 3l-4 1l-4 0l-4 0l-4 2l-5 1l-5-1l-4 0l-4 1l-5 1l-4-1l-4-1l-4 2l-5 1l-4-1l-5-1l-4 2l-5 0l-4-1l-5-1l-4 1l-4 0l-4-2l-2-3l-3-1l-3-1l-3-3l-1-3l0-4l-1-3l-2-4l-1-5l1-4l1-5l-1-4l0-5l2-4l1-5l-1-4l1-5l1-3l2-4l0-5l1-5l3-4l2-4l1-5l3-4"/><path d="M433 2621l0 4l-2 3l-4 4l-4 4l-6 1l-4-1l-4 1l-5 0l-3-3l-2-4l-2-4l-2-4l-1-5l1-5l-3-4l-1-5l1-4l2-4l0-5l2-5l3-3l5-3l3-4l5-2l5-1l4-2l4 3l3 5l1 5"/><path d="M81 2268l-5-1l-4-3l-2-4l-5-2l-4-2l-2-4l-1-4l-2-4l-2-5l0-4l2-5l-1-4l-2-5l0-5l2-4l2-1l3-3l4-1l5 0l4 3l5 2l3 2l2 3l1 5l1 5l3 4l1 3l2 4l1 5"/><path d="M653 2236l-2-4l0-4l1-4l3-4l-1-5l1-4l2-4l3-4l-1-5l0-5l3-4l1-5l0-5l2-4l3-3l3-2l2-3l4-2l5 0l4 2l5-1l5-1l4 2l4 3l4 0l4 1l4 2l3 4l4 2l4 2l3 3l1 5l2 3l3 3l1 4l0 4l0 4l2 5l0 4l-1 5l-1 4l1 4l0 5l-1 4l-1 5l0 5l-1 5l-2 4l-1 4l-1 4l-2 4l-3 2l-4 0"/><path d="M889 2175l-2 4l1 5l0 4l-2 4l-4 3l-2 2l-2 4l-3 4l-4 2l-5 0l-3 3l-5 1l-5 0l-4-2l-4 1l-4 0l-3-4l1-5l0-5l-2-5l0-6l2-5"/><path d="M280 2174l5-2l4 1l4 3l5-1l4 0l5 1l5 1l5-1l5 1l3 3l1 3l2 4l0 5l-1 5l0 5l3 4l2 4l1 5l2 4l3 4l-1 3l-3 3l-4 0l-4 2l-5 2l-4 1l-5-1l-4 3l-4 3l-4 0l-4 0l-4 1l-4 0l-4-3l-2-4"/><path d="M545 2376l-1 4l0 4l3 4l3 3l3 3l2 5l3 2l3 3l1 4l-1 4l-2 5l1 5l-3 5l-3 4l-2 4l-3 3l-4 1l-4-1l-5-2l-6-1l-4-1l-4-3l-5 1l-3 2l-4 1l-4 0l-4-2l-4 1l-4 0l-5-2l-4-3l-4-1l-4-2l-2-3l0-3l1-4l0-4l0-4l1-5l3-4l1-4l0-4l1-4l2-4"/><path d="M328 2633l1-4l-1-4l-2-5l-1-4l1-4l1-4l0-4l2-3l4-2l5 0l4-3l5-2l5 1l5 1l4-2l4 0l4 1l4 2l5 0l5 0l4 3l3 3l5 0l5 1l4 3l3 3l5 1l5 2l3 3l2 4l4 2l2 3l1 5l0 5l1 4l1 5l-1 4l-2 4l0 4l-1 4l-2 3l-4 2l-4 2l-2 4l-3 3l-4 2l-5 1l-2 5l-3 4l-5 2"/><path d="M591 2125l-5 0l-5 0l-4-2l-3-3l-4 0l-5 0l-4-1l-3-3l-4-2l-5-1l-3-2l-2-4l-2-4l-4-3l-2-4l-1-6l-2-5l-2-4l-1-5l1-4l1-2l1-3l3-3l4-1l5 1l5-1l4-2l4-2l4-1l3-3l2-5l3-4l4-2l3-2l4-1l3 0l3 2l3 3l3 3l5 1l4 3l3 5l3 3l4 3l3 3l1 4l1 4l3 4l2 4l0 5"/><path d="M467 2216l2-4l4-2l4-2l2-4l3-3l4-1l4 0l4-2l4-2l4-2l4 1l5 0l4-2l4-1l5 1l4 1l4-1l4 1l4 1l3 3l4 0l4 1l4 2l2 4l4 2l4 2l4 3l2 4l3 3l4 2l2 3l2 4l0 4l3 3l2 3l1 5l0 4l1 4l2 5l0 4l-2 5l1 4l1 4l-1 5l-2 3l-1 4l0 3l-2 4l-3 3l-3 1l-3 3l-3 4l-4 2l-4 0l-4 3l-4 3l-4 1l-4 0l-4 2l-3 2l-4 2l-4 1l-4 0l-4 3l-4 2l-4 0l-4-1l-4 1l-4 1l-4 0l-4-1l-4-1l-4 0l-4 0l-5-2"/><path d="M658 2563l4 1l3 0l5 2l2 4l0 5l3 5l2 5l0 4l3 4l3 3l3 4l-1 4l-1 3l0 4l-1 4l-3 4l-4 3l-1 4l-2 4l-3 3l-5 3l-2 5l-3 4l-4 1l-4 0l-3 2l-4 0l-4-2l-3-4l-5-2l-5-1l-3-4l-4-3l-5 0l-4-1l-5-2l-4-2l-5 0l-4-2l-3-3l-1-3l-3-3l-2-4l1-5l2-4l0-5l2-5l3-3l3-2l2-4l3-3l4-2"/></g></defs><g fill="none" stroke="#1c1414" stroke-linecap="round"><use href="#cr2" filter="url(#f4)" stroke-width="12" stroke-opacity=".3"/><use href="#cr2" filter="url(#f1)" stroke-width="3" stroke-opacity=".72"/></g>
</g></g>
<path d="M328 2022l0-3l2-3l1-3l3-2l4-2l3-1l2-3l3-2l3 0l3 1l3 2l4 2l4 0l3 0l3 2l2 3l3 3l4 1l3 1l3 3l2 3l0 3l1 3l1 3l0 3l-2 3l-3 3l-4 2l-1 3l0 3l0 2l1 2l2 4l2 3l4 0l3-2l1-1l2-1l3-2l3-2l1-4l1-4l1-3l3-2l3-2l3-1l2-3l3-2l3-2l4 0l4 1l3-1l3-1l3 0l3 1l3 1l3 3l4 0l3 0l4 1l3 2l2 3l1 3l4 1l3 2l3 2l2 3l1 3l2 3l3 0l4 2l3 2l2 3l2 3l4 1l3 0l2 0l2 0l2-1l2-1l3-2l1-3l0-4l1-3l2-3l3-2l3-2l0-3l2-3l3-3l3-1l3 0l4-1l2-2l3-2l3-1l3 0l3 2l3 1l4 0l4 0l3 1l2 3l2 3l2 2l3 2l3 3l1 3l1 3l2 3l3 1l3 0l3-1l3-1l3 0l4 0l3-2l3-3l2-2l3-1l4 0l3 0l2-4l2-3l3-2l3-1l3-1l3-2l1-3l2-3l2-3l3-2l3-1l2-2l1-4l2-2l2-3l3-2l3-2l1-3l1-3l2-3l2-1l4-1l3 1l4 0l3-1l4-1l3 2l2 2l2 3l2 2l3 2l3 2l2 3l0 4l-1 3l0 2l1 4l0 3l-1 4l-2 3l-2 3l1 3l1 3l2 2l2 3l1 4l1 4l4 0l4 1l3 1l2 1l3 1l3 1l3-3l2-2l4-1l3-1l4 1l3 0l3-2l3-1l4 0l3 1l3 2l3 0l4-1l3-1l3 0l2 0l3 1l4 0l2-3l2-3l3-2l3-2l3-1l3-1l2-3l2-3l3-2l3 0l3 1l3 1l3-1l4 1l3 2l3 3l1 3l3 2l2 2l2 3l0 4l-2 4l-2 3l0 3l-1 3l-2 2l-3 2l-3 0l-4 0l-2 3l-2 3l-1 2l-3 3l-3 3l-2 4l0 4l1 2l1 2l1 0l2 1l3 1l3-2l3-2l4-1l4 1l4 1l3-1l3-1l3 0l3 1l2 4l1 3l2 3l3 3l1 3l0 4l-2 3l-4 2l-1 4l-3 4l-1 2l-1 1l1 1l2 3l3 0l4-1l4 0l4 1l3 3l3 0l3 0l3 0l3 1l3 2l3 3l3 0l4 0l3 1l3 1l3 2l3 2l3 0l4-1l3 1l3 1l3 2l3 2l3-1l3 0l3 0l3 1l3 2l3 3l3 0l4 0l3 0l3 2l3 2l2 2l4-1l3-1l3-1l3 0l3 0l4 1l3-2l3-1l3-1l3 1l3 1l3 3l3 0l4 0l3 1l2 3l2 2l1 3l2 2l3 3l1 3l0 4l-2 3l-1 3l0 4l-1 3l-1 4l-3 2l-4 1l-2 3l-2 3l-3 2l-4 1l-3 0l-4 0l-1 3l1 2l1 3l1 3l1 4l0 4l3 3l2 3l1 3l0 3l0 4l1 3l2 3l0 4l0 3l-2 3l-2 2l-2 3l0 4l-1 3l-2 3l-3 2l-3 1l-3 1l-2 3l-3 2l-3 1l-3 1l-4 1l-1 2l-1 3l-1 4l-1 2l-2 3l-3 2l-1 4l1 3l0 3l-1 4l-2 3l-2 3l1 3l0 4l-1 3l-3 2l-4 1l-4 0l-3 3l-2 2l-1 3l-1 1l0 3l-1 3l2 3l2 3l2 3l0 4l-1 4l0 3l2 3l1 3l0 3l-1 3l-1 3l-2 3l2 4l0 3l0 3l-1 3l-2 3l-2 3l1 3l0 4l-1 3l-2 3l-2 2l-2 3l1 4l0 3l0 3l0 3l-1 3l-1 3l1 3l2 3l1 3l0 3l0 4l-1 3l3 2l3 2l1 3l2 3l0 3l1 4l2 2l3 2l1 3l1 3l0 4l-1 3l3 3l1 3l1 3l0 3l-1 3l-1 3l1 3l1 4l0 3l-1 3l-2 3l-2 3l1 3l0 4l-1 3l-1 2l-2 3l-2 2l0 3l0 4l-1 3l-1 2l-2 3l-3 2l-1 3l0 3l-1 4l-2 3l-2 3l-3 2l-1 4l0 3l-2 3l-2 2l-3 1l-4 1l-2 3l-3 3l-3 1l-4-1l-3-1l-3-1l-3 0l-3-1l-3-2l-2-2l-2-4l-2-2l-4-1l-2-2l-2-1l-4-2l-4-3l-4 1l-2 2l-1 2l0 1l-1 2l0 4l0 3l3 3l2 4l0 3l0 4l-2 3l2 4l1 3l0 4l-2 3l-2 3l-2 2l0 4l-2 2l-2 2l-3 1l-3 1l-4 0l-2 3l-3 2l-3 1l-4 0l-3-1l-4 0l-3 2l-3 1l-3 1l-4-1l-3 0l-2 1l-2 3l-1 3l-1 3l-1 2l-3 3l-1 3l0 4l-1 3l-1 3l-2 2l-3 2l-2 2l-1 4l-1 3l-2 3l-3 1l-3 1l-3 1l-2 3l-2 3l-2 2l-4 0l-3 0l-3 0l-3 2l-3 2l-3 0l-3 0l-3-1l-2-3l-4 0l-3 0l-3-1l-3-1l-2-3l-2-2l-2-2l-3-1l-3-2l-1-3l-1-3l0-4l-1-3l-2-3l-2-2l-2-3l0-3l0-4l-1-3l-3-2l-2-2l-1-3l-2-2l-1-3l-2-3l-4 0l-3-1l-3-1l-2-2l-3-2l-3-1l-3 1l-3 2l-3 1l-3 0l-4 0l-3 0l-3 3l-3 1l-3 0l-4-1l-2-3l-4-1l-3 0l-4-1l-2-2l-2-2l-1-3l-2-3l-2-2l-2-3l0-4l0-3l2-4l-2-3l-2-3l-1-3l0-4l1-3l0-4l-2-3l-3-2l-2-1l-2-3l-1-3l-2-3l-4 0l-3-1l-3-2l-2-2l-2-2l-2-4l-4-1l-4-1l-2-2l-2-2l-3-2l-3 0l-3 3l-3 2l-4 2l-4-1l-3-1l-3 1l-4 0l-3 0l-4-2l-2-2l-2-2l-4-1l-2-3l-1-3l-1-4l-1-3l-3-2l-3 0l-3-1l-3-1l-3-2l-3-2l-3 0l-4 1l-3 0l-3-1l-2-1l-3 0l-4 1l-2 4l-1 3l-2 3l-2 3l-1 3l2 3l3 2l2 3l0 4l-1 4l0 3l1 3l1 3l0 3l-2 4l-2 3l0 3l0 4l-1 3l-2 2l-3 2l-3 1l-3 3l-1 3l-3 3l-3 2l-3 1l-4 0l-2 3l-2 2l-3 1l-4 0l-3-2l-4-1l-3 1l-3 0l-3 1l-2 0l-2 1l-3 2l0 4l0 4l-1 3l-2 3l-4 1l-2 0l-3 2l-2 1l-4 1l-3 0l-3-2l-4-1l-3 1l-3 2l-2 1l-4 1l-3 0l-4 1l-2 3l-2 3l-2 2l-3 0l-4 1l-4 0l-3 2l-3 1l-3-2l-3-2l-1-4l-2-3l-2-2l-1-3l1-4l2-3l2-3l-1-4l-2-2l-2-2l-2-3l-1-3l0-4l-3-2l-2-3l-1-3l0-3l1-3l2-3l0-4l-1-3l1-4l2-2l2-3l3-3l1-4l1-3l1-3l1-2l1-1l-1-3l-5 1l-4 3l-1 2l-2 2l-3 2l-2 3l-1 4l-1 3l-3 2l-3 2l-3 2l-1 4l-2 3l-3 1l-3 0l-3-1l-2-2l-4-1l-3-1l-4-3l-2-3l-1-4l-2-3l-3-2l-2-2l-1-4l-1-4l0-3l-2-3l-2-3l0-3l1-3l3-3l3-2l1-3l2-4l2-2l3-1l4-1l3-2l3-3l3-2l3 0l4 0l3-1l1-4l1-3l1-3l1-4l2-3l0-3l-2-3l-2-3l0-4l0-3l0-4l-3-3l-2-1l-3-2l-2-3l-1-2l-2-4l-3-1l-4-1l-3-1l-2-2l-2-2l-3-3l-3 1l-4 0l-3-1l-3-2l-2-2l-1-2l-3-2l-4-2l-2-3l-1-4l0-3l1-1l2-1l3-1l4-1l4 0l4 0l2-1l2-3l1-3l2-3l2-2l3-3l2-2l0-3l-2-3l-1-4l0-3l0-5l-2-3l-3-2l-1-1l-1 1l-3 2l-4 2l-3 2l-3 0l-3 0l-2-2l-3-2l-2-4l-3-1l-4-1l-3-1l-3-1l-2-3l-2-3l-4 0l-3 0l-4-1l-3-1l-3-2l-3-1l-3 2l-3 1l-4 1l-4 0l-4-1l-3 1l-3 2l-3 1l-3-1l-3-2l-2-2l-2-2l-3-1l-2-2l-2-3l-1-3l0-4l-1-3l-2-2l-3-2l-2-3l-1-3l0-4l-1-2l-3-2l-3-2l-2-3l-1-3l-1-4l-3-2l-3-1l-2-2l-3-2l-2-3l-1-4l-3-2l-3-1l-3-2l-2-2l-2-3l-1-4l-3-1l-3-2l-3-2l-2-3l-1-3l-1-4l-3-1l-3-2l-2-2l-1-3l-1-3l-1-4l-3-1l-3-2l-2-2l-2-3l-1-4l-1-3l-3-1l-3-2l-2-3l-1-3l0-3l0-3l-2-3l-3-3l-1-3l0-3l1-4l1-3l-2-3l-1-3l1-3l1-3l2-3l3-2l0-3l1-4l2-2l2-3l3-1l3-1l2-3l2-3l2-3l3-1l3-1l3-2l1-3l1-4l1-3l3-2l2-2l2-3l0-3l-1-3l0-3l-1-3l0-4l-1-4l-2-3l-2-3l0-3l3-3l3-1l3-2l2-4l4-2l4 0l3 2l2 2l4 0l4 1l3 2l3 2l3 2l3-1l3-2l3-2l2-1l3-1l4-2l1-3l-1-3l0-3l1-3l2-4l2-3l0-3l0-4l1-3l2-3l3-2l3-2l0-4l2-4l2-2l3-2l3-1l3-1l2-3l3-1l3-1l4 0l3 1l3 0l4-1l3 0l3 0l3 2l3 3l4 1l4 0l3 2l3 1l2 1l3-1l1-3l0-3l0-4l1-3l3-3l3-2l0-4l2-3l2-2l3-1l3-1l4 0l2-2l3-2l3-1l3 0l4 1l3 2l3-1l4 0l3 0l3 1l3 1l3 1l3-2l2-3l2-2l3-2l3-1l3-2l0-3l0-4l1-3l0-3l2-3l1-4l-1-3l0-4l1-3l2-3zM366.8 2518.2a15.1 20.1 0 1 0 30.2 0a15.1 20.1 0 1 0 -30.2 0z" fill="none" stroke="#333" stroke-opacity=".8" stroke-width="2"/>
<circle cx="159" cy="2165.6" r="7.8" fill="#fff" stroke="#888" stroke-width="1.2"/>
<path d="M723.4 2379.3L871 2240.7L905.4 2288.6z" fill="#0a0a0a"/>
<path d="M749.4 2361.2L870.3 2247.6L898.5 2286.9z" fill="#f4ef92"/>
<clipPath id="lc3_0"><path d="M1824 2049l-2-2l-1-4l0-4l3-3l2-4l0-4l1-3l3-3l4-1l1-3l3-3l3-1l4 0l3 1l4-2l3 0l3 1l3 2l2 3l3 1l3 2l1 3l1 3l-1 4l1 3l1 3l0 4l-1 4l-3 3l-1 3l-2 2l-3 2l-3-1l-4-1l-4 2l-4 0l-3 0l-3-1l-4-1l-4 0l-3 0l-3-1l-2-2z"/></clipPath>
<g filter="url(#edge2)"><g clip-path="url(#lc3_0)"><rect x="1812.8" y="2003.6" width="68.4" height="61.5" fill="#f0ecee"/><g filter="url(#f6)"><ellipse cx="1847" cy="2033.7" rx="28.8" ry="25.9" fill="#f4b8b8" fill-opacity="1"/><ellipse cx="1850.5" cy="2024.5" rx="12.7" ry="10.4" fill="#ee9090" fill-opacity="0.8"/></g><rect x="1812.8" y="2003.6" width="68.4" height="61.5" fill="url(#bump)" style="mix-blend-mode:multiply"/><rect x="1812.8" y="2003.6" width="68.4" height="61.5" fill="url(#spec)"/><rect x="1812.8" y="2003.6" width="68.4" height="61.5" fill="#fff" fill-opacity=".05"/></g></g>
<clipPath id="lc3_1"><path d="M1231 2443l-1-3l0-4l2-4l4-2l3-2l2-3l3-1l4-1l4 0l3-2l2-2l3-2l3 0l4 0l2-2l2-3l1-2l2-2l2-3l3-2l0-4l0-3l2-3l2-2l3-1l2-3l2-3l3-2l3-1l4 0l2 0l4-1l2 0l3 2l2 2l2 3l4 1l3 2l2 3l2 3l2 3l3 1l3 1l3 2l1 3l1 3l3 2l3 1l2 2l1 4l1 4l3 2l2 3l1 4l-2 3l-2 1l-2 2l-1 3l-3 3l-3 1l-3 1l-4 1l-2 3l-2 2l-4 1l-3 0l-4 0l-2 3l-2 2l-2 1l-3 2l-2 2l-1 4l0 3l-2 3l-4 1l-3 0l-4 1l-4 1l-3 0l-3-2l-2-4l-3-2l-4-2l-2-2l-3-3l-3-2l-4 1l-3-1l-4 0l-3-1l-4 2l-3 2l-3 0l-4-1l-2-3l-3-1l-3-1l-2-3l0-5z"/></clipPath>
<g filter="url(#edge2)"><g clip-path="url(#lc3_1)"><rect x="1220.1" y="2370.5" width="142.7" height="113.3" fill="#f0ecee"/><g filter="url(#f6)"><ellipse cx="1291.1" cy="2460" rx="19.6" ry="16.1" fill="#9aa4ea" fill-opacity="1"/><ellipse cx="1322.8" cy="2420.8" rx="17.3" ry="17.3" fill="#c9cdf2" fill-opacity="0.8"/></g><rect x="1220.1" y="2370.5" width="142.7" height="113.3" fill="url(#bump)" style="mix-blend-mode:multiply"/><rect x="1220.1" y="2370.5" width="142.7" height="113.3" fill="url(#spec)"/><rect x="1220.1" y="2370.5" width="142.7" height="113.3" fill="#fff" fill-opacity=".05"/></g></g>
<clipPath id="lc3_2"><path d="M1162 2189l-1-3l-1-3l1-4l2-3l2-3l0-3l1-3l1-3l3-3l3-1l3-3l1-3l3-2l4 0l3 0l4 0l3-1l4 1l2 3l2 3l1 3l3 3l2 3l1 3l0 3l-1 4l2 3l1 3l0 3l0 3l0 4l3 2l3 3l2 3l1 3l2 3l4 0l3-2l5 0l2 3l1 3l2 2l3 3l1 4l-1 4l0 4l1 3l-1 3l-3 3l-3 2l-3 3l-3 3l-2 1l-4 1l-4-2l-3-1l-4-1l-3-2l-1-2l-1-3l-2-3l-3-2l-2-2l-2-3l-2-3l-2-3l-3 0l-4-1l-2-2l-3-2l-3-3l-4 1l-4 0l-3-1l-2-3l-1-3l-2-3l-3-3l-1-3l1-4z"/></clipPath>
<g filter="url(#edge2)"><g clip-path="url(#lc3_2)"><rect x="1150.9" y="2143.5" width="101.2" height="111.6" fill="#f0ecee"/><g filter="url(#f6)"><ellipse cx="1178.8" cy="2181.8" rx="25.9" ry="28.8" fill="#7f8be6" fill-opacity="1"/><ellipse cx="1204.7" cy="2207.7" rx="20.2" ry="20.2" fill="#c5caf3" fill-opacity="0.9"/></g><rect x="1150.9" y="2143.5" width="101.2" height="111.6" fill="url(#bump)" style="mix-blend-mode:multiply"/><rect x="1150.9" y="2143.5" width="101.2" height="111.6" fill="url(#spec)"/><rect x="1150.9" y="2143.5" width="101.2" height="111.6" fill="#fff" fill-opacity=".05"/></g></g>
<g filter="url(#edge)"><g clip-path="url(#cp3)">
<rect x="1165.6" y="1979.7" width="969.9" height="753.3" fill="#f8f3f3"/>
<g filter="url(#warp)">
<g fill="#ff9c9c" fill-opacity="0.3" filter="url(#f18)"><ellipse cx="1668.4" cy="2219.2" rx="126.7" ry="92.2"/><ellipse cx="1726" cy="2420.8" rx="69.1" ry="51.8"/><ellipse cx="1870" cy="2248" rx="115.2" ry="86.4"/><ellipse cx="1582" cy="2132.8" rx="115.2" ry="69.1"/><ellipse cx="1380.4" cy="2144.3" rx="63.4" ry="46.1"/></g>
<g fill="#ff8888" fill-opacity="0.44" filter="url(#f18)"><circle cx="1956.5" cy="2507.2" r="92.2"/><ellipse cx="1553.2" cy="2536" rx="92.2" ry="46.1"/><ellipse cx="1438" cy="2478.4" rx="74.9" ry="46.1"/><ellipse cx="1282.5" cy="2271.1" rx="46.1" ry="63.4"/><ellipse cx="1870" cy="2507.2" rx="69.1" ry="63.4"/></g>
<g fill="#a8b2ff" fill-opacity="0.7" filter="url(#f10)"><ellipse cx="1582" cy="2328.7" rx="115.2" ry="51.8"/><circle cx="1763.5" cy="2507.2" r="54.7"/><ellipse cx="2014.1" cy="2150.1" rx="34.6" ry="23"/><circle cx="1933.4" cy="2121.3" r="23"/><circle cx="1340.1" cy="2392" r="34.6"/><circle cx="1968" cy="2599.4" r="17.3"/><circle cx="1841.2" cy="2651.2" r="34.6"/><circle cx="1789.4" cy="2121.3" r="34.6"/><circle cx="1438" cy="2052.2" r="23"/><circle cx="1763.5" cy="2029.1" r="25.9"/><circle cx="1633.9" cy="2429.5" r="25.9"/><circle cx="2014.1" cy="2317.1" r="31.7"/><circle cx="1677.1" cy="2138.6" r="23"/><circle cx="1821.1" cy="2593.6" r="20.2"/></g>
<g fill="#ee3a3a" fill-opacity="0.85" filter="url(#f6)"><ellipse cx="1276.7" cy="2271.1" rx="21.6" ry="43.2"/><circle cx="1645.4" cy="2282.6" r="21.6"/><circle cx="1438" cy="2490" r="36"/><circle cx="1726" cy="2420.8" r="28.8"/></g>
<g fill="#f00404" fill-opacity="1.0" filter="url(#f4)"><circle cx="1507.1" cy="2052.2" r="25.2"/><circle cx="1622.4" cy="2081" r="28.8"/><circle cx="1345.9" cy="2132.8" r="32.4"/><circle cx="1495.6" cy="2190.4" r="50.4"/><circle cx="1535.9" cy="2265.3" r="25.2"/><circle cx="1697.2" cy="2167.4" r="28.8"/><circle cx="1818.2" cy="2196.2" r="28.8"/><circle cx="1766.4" cy="2222.1" r="18"/><circle cx="1760.6" cy="2288.3" r="36"/><circle cx="1783.6" cy="2328.7" r="36"/><circle cx="1841.2" cy="2299.9" r="36"/><circle cx="1760.6" cy="2415.1" r="25.2"/><circle cx="1812.4" cy="2409.3" r="28.8"/><circle cx="1956.5" cy="2374.7" r="57.6"/><circle cx="1996.8" cy="2386.3" r="43.2"/><circle cx="1944.9" cy="2443.9" r="43.2"/><circle cx="1887.3" cy="2340.2" r="36"/><circle cx="1870" cy="2397.8" r="28.8"/><circle cx="1616.6" cy="2374.7" r="28.8"/><circle cx="1368.9" cy="2466.9" r="28.8"/><circle cx="1380.4" cy="2417.9" r="14.4"/><circle cx="1852.8" cy="2530.3" r="28.8"/><circle cx="1991" cy="2570.6" r="32.4"/></g>
<g fill="#1212dc" fill-opacity="1.0" filter="url(#f4)"><circle cx="1438" cy="2037.8" r="18.3"/><circle cx="1763.5" cy="2014.7" r="21.4"/><circle cx="1933.4" cy="2101.1" r="18.3"/><circle cx="2048.6" cy="2129.9" r="18.3"/><circle cx="1296.9" cy="2155.9" r="18.3"/><circle cx="1677.1" cy="2127.1" r="18.3"/><circle cx="1789.4" cy="2115.5" r="24.4"/><circle cx="1752" cy="2173.1" r="18.3"/><circle cx="1524.4" cy="2322.9" r="36.6"/><circle cx="1587.8" cy="2340.2" r="18.3"/><ellipse cx="1633.9" cy="2317.1" rx="30.5" ry="21.4"/><circle cx="1340.1" cy="2386.3" r="24.4"/><circle cx="1363.1" cy="2415.1" r="15.3"/><circle cx="1628.1" cy="2415.1" r="17.1"/><circle cx="1645.4" cy="2443.9" r="16.5"/><circle cx="2014.1" cy="2311.4" r="23.2"/><circle cx="1821.1" cy="2369" r="15.3"/><circle cx="1763.5" cy="2507.2" r="33.6"/><circle cx="1821.1" cy="2590.8" r="13.4"/></g>
</g>
<rect x="1165.6" y="1979.7" width="969.9" height="753.3" fill="url(#bump)" style="mix-blend-mode:multiply"/>
<rect x="1165.6" y="1979.7" width="969.9" height="753.3" fill="url(#spec)"/>
<defs><g id="cr3"><path d="M1385 2194l-4-3l-3-4l-2-4l-4-2l-3-3l-2-3l0-3l1-3l0-3l1-3l4-3l4-1l4-2l4-4l5-2l5-1l4-3l3-4l3-3l4-2l2-5l2-4l3-4l4-4l1-5l3-3l4-3l3-2l2-3l3-1l4 0l3 2l2 2l5 1l3 2l3 3l3 5l4 2l4 3l3 4l3 3l4 2l4 2l3 2l3 4l5 0l4 2l4 3l3 3l5 1l3 2l3 2l2 4l2 2l2 3l2 3l-1 4l-1 4l0 4l0 4l-1 5l-3 3l-1 5l-1 4l-2 4l-4 4l-2 3l-1 4l-3 4l-3 2l-4 2l-2 4l-3 4l-4 1l-4 2l-3 4l-3 2l-5 2l-4 0l-3 4l-4 2"/><path d="M1867 2458l4-4l5-2l6 1l5 0l4 0l4 3l2 5l3 3l4 4l0 5l-3 3l-2 4l-3 4l-5 3l-4 2l-4 4l-5 2l-5-1l-4 2l-5 1l-4-2l-5-3l-5 2l-6-1l-4-3l-3-2l-3-4"/><path d="M1480 2460l4 4l3 4l4 2l3 3l2 5l3 3l3 4l0 3l-1 4l-3 3l-1 4l-3 4l-4 3l-4 1l-2 5l-4 3l-4 1l-5 1l-4 3l-5 3l-6 0l-4 3l-4 0l-2-3l0-5l0-5l-1-5l0-5l1-4l-2-5l-2-4l0-6l1-4"/><path d="M1584 2620l-5 2l-3 5l-3 3l-4 2l-5 0l-3 3l-4 1l-4 0l-2-2l-2-2l-3-2l-4-2l-3-2l-2-4l-1-5l-4-3l-3-3l-2-5l-1-5l-3-3l-3-3l-1-4l-1-5l-2-3l-3-4l-2-4l0-4l-2-5l-2-3l-1-5l0-4l-1-5l-2-4l-1-4l1-4l2-4l-1-4l-1-5l2-4l3-5l0-5l1-5l2-4l3-4l1-5l1-4l3-3l4-2l2-2l2-3l3-1l3 1l3 1l3 3l5 1l4 1l4 4l2 4l5 2"/><path d="M1242 2151l1-5l-1-5l0-4l3-4l3-2l1-4l2-3l4-3l4-1l4-2l3-4l5-2l4 0l4-2l4-3l4-2l5 0l5-2l4-3l5 0l4 1l3 0l4 0l3 2l3 3l1 4l2 4l3 3l2 5l0 5l1 5l2 4l1 4l0 4l0 4l1 5l0 4l-2 4l-3 3l0 5l0 5l-2 4l-2 4l0 5l1 5"/><path d="M1987 2282l-4-1l-3-4l-2-3l-3-3l-2-3l-2-3l0-5l1-4l0-4l0-5l1-4l3-4l1-5l0-4l1-4l3-4l1-5l1-5l2-4l3-3l3-3l2-4l3-2l5 0l4 1l4-1l5 0l5 1l5 2l5 0l4 0l4 1l4 3l4 0l5 0l4 1l4 3l4 1l4 1l4 2l3 3l1 4l4 1l3 3l2 4l1 4l1 4l3 4l2 4l0 5l0 4l2 4l1 3l0 5"/><path d="M1795 2071l3 3l1 4l1 4l4 3l2 4l1 4l0 4l3 4l2 4l1 5l-2 4l1 4l0 4l-2 4l-3 3l-2 3l-2 4l-3 4l-5 2l-2 3l-2 4l-3 3l-5 2l-3 3l-3 4l-4 2l-4 0l-3-1l-4 1l-4-1l-4-2l-3-5l-5-2l-4-3l-2-4l-2-4l-4-3l-2-4l-1-4l1-5l-2-4"/><path d="M1765 2526l-2 3l-3 3l-4 1l-2 3l-3 4l-3 2l-5 1l-4 1l-3 4l-4 2l-5 0l-4 1l-4 2l-4 2l-5 0l-4-1l-4 2l-4 1l-4 0l-4-1l-4 0l-5 1l-4 0l-5-2l-4-1l-4 0l-5-1l-3-2l-4-2l-4 0l-4-2l-2-2l-2-4l-3-3l-4-2l-3-3l-1-5l-2-4l-3-4l-3-4l0-5l-2-4l-2-4l-1-4l0-5l0-4l-1-3l-1-4l2-4l2-3l2-3l2-4l2-3l4-3l4-2l3-4l3-4l4-2l4-2l3-4l2-4l4-2l4-3l1-4l2-4l3-4l3-3l1-5l2-5l4-3l3-3l1-4l3-3l3-2l4-1l3-2"/><path d="M1307 2209l2 4l4 2l4 2l2 3l1 3l3 4l4 2l4 3l3 5l6 2l4 4l1 4l-1 3l0 2l-2 3l-4 2l-5 1l-5 1l-5 3l-4 1l-5 0l-4 3l-4 2l-4 0l-4 0l-4 1l-5 2l-4 0l-5-2l-4 2l-5 1l-5-1l-4-2l-4 1l-3-1l-2-4l0-3l2-4"/><path d="M1774 2592l4 3l5-1l5 2l3 2l3 4l4 1l5 3l2 4l3 4l4 3l2 5l0 4l1 4l1 4l0 3l-2 3l-4 3l-2 3l-2 4l-4 3l-5 2l-3 3l-3 3l-5 2l-4 0l-3 1l-4 3l-4 0l-5 0l-4-1l-4 2l-5 0l-4-1l-4-2l-5 1l-4 0l-4-2l-4-2l-5 0l-5-1l-4-2l-5-2l-5-1l-4-2l-3-3l-4-2l-3-1l-3-2l-1-3l1-3l3-2"/><path d="M1858 2142l-1-3l-4-1l-4-2l-4-4l-2-6l-5-2l-4-3l-3-4l-3-2l-5 1l-5 1l-5-1l-4 1l-5 3l-4 1l-4-1l-2-3l-2-2l-3-2l-1-4l0-5l0-4l-2-5l-1-4l1-5l0-4l-1-4l-1-4l2-5l2-4l1-5l1-4l3-4l3-4l-2-4l0-4l0-5l2-5l-2-5l-1-4l1-4l2-4l1-3l2-3l4-3l5 0l5-1l5-2l5 0l4 3l4 1l4 1l3 2l3 3l3 4l5 2l3 3l2 4l3 4"/><path d="M1965 2396l-1-4l0-5l2-5l1-4l-1-5l1-5l2-3l1-5l-1-5l1-5l2-4l2-4l0-5l2-4l4-2l4-1l2-4l4-3l5-1l5-1l4-3l5-1l4 0l4 2l3-1l4 2l3 3l1 4l2 4l3 4l2 5l0 5l1 5l2 3"/><path d="M1323 2303l2-3l3-2l5-1l3-3l4-2l5-1l5 1l4-3l4-2l5 0l6 1l4-2l5-1l4 2l3 3l4 1l3 2l2 4l1 5l2 4l3 4l1 5l-1 5l2 4l2 4l0 4l-1 5l1 5l0 4l-1 5l-2 3l-2 4l-1 4l-3 2l-3 2l-5 1l-3 3l-4 3l-5 1l-5-1l-4 3l-4 0l-4 0l-3-2l-3-2l-4-1l-3-3l-2-4l-1-5l-3-4l-3-4"/><path d="M1631 2106l-4-1l-3-3l-4-4l-4 0l-4-3l-4-3l-3-4l-4-3l-3-3l0-4l2-3l1-4l2-5l3-3l5-3l2-4l3-4l3-3l3-2l3-4l1-4l3-3l4-2l4-1l3-3l3-3l4 0l4 0l4-1l5-2l4 0l4 1l4 1l4-1l5 0l4 3l4 3l5 0l4 3"/><path d="M1604 2529l-5 0l-5-2l-3-3l-4-2l-4-1l-3-2l-3-3l0-3l-3-3l-2-4l0-4l2-5l1-4l0-5l2-5l4-3l1-5l1-4l3-4l4-2l2-4l2-4l4-3l4-1l3-4l4-3l4-1l4 0l4-1l3-1l4 0l4 1l4 2l5-1l4 1l4 2l4 3l4 0l5 2l3 2l3 4l4 0l4 2l4 3l2 4l5 1l4 2l3 3l2 5l4 1l4 3l1 3l1 4l0 3l2 4l1 3l-1 5l-2 4l-1 4l0 5l-2 4l-4 4l-1 5l-2 4l-3 3l-4 2l-2 3l-3 3l-3 1l-3 0"/><path d="M1641 2325l-1-5l0-5l-2-4l-1-5l1-5l3-3l2-3l2-4l3-2l5-2l4-2l4-3l4-2l5 0l4 0l4-1l4 0l4 1l4 3l5 0l5 1l4 2l3 3l4 1l4 2l3 2l2 4l2 4l3 3l2 5l0 4l-1 5l3 4l1 4l0 5l-2 4l1 5l0 4l-3 4l-4 2l-2 3l-3 4l-4 2"/><path d="M1640 2141l4 1l5 4l5 0l5 1l3 3l1 3l0 3l-1 4l-2 4l-5 3l-4 3l-1 5l-1 3l-2 4l-1 5l0 5l0 4l-3 3l-4 2l-2 2l-4 2l-5 0l-5-2l-5 1l-5 0l-4-3l-3-3l-4-1l-3-2l-2-4l0-5l-2-4l-3-4"/><path d="M1798 2386l1-4l1-5l2-4l4-3l1-5l2-4l4-3l3-1l3-1l3-1l4 0l3 3l3 3l4 3l4 2l4 3l2 4l4 2l3 1l5 3l3 3l4 2l4 0l3 2l3 3l1 4l2 4l3 4l0 4l0 4l-1 4l1 5l-1 4l-2 4l-3 3l-1 4l-3 4l-3 3l-4 1l-2 4l-3 4l-5 2l-4 0l-4 2"/><path d="M1543 2426l-1 5l-3 4l-4 3l-1 4l-2 4l-4 2l-5 1l-3 3l-4 3l-5 0l-5 0l-4 2l-4 0l-3-1l-3-2l-3-3l-4-1l-3-3l-2-4l-2-5l-3-3l-3-3l0-5l0-4l-3-4l-1-4l1-5l1-5l-1-4l0-5l2-4l3-3l0-4l2-4l3-4l5-2l2-4l3-3"/><path d="M2083 2162l3 3l2 4l1 5l4 3l3 3l3 3l2 5l4 2l4 3l3 4l1 4l2 3l1 2l-1 3l-4 1l-5-1l-5 0l-5 2l-5 0l-4 0l-3 3l-1 5l-1 4l-3 4l-2 3l-3 3l-4 1l-4-1l-4-3l-5 0l-5-2l-4-3l-3-4l-4-2"/><path d="M1812 2304l5 0l4 2l2 3l1 3l0 2l0 4l-1 4l-2 3l-5 3l-2 4l-2 5l-4 3l-4 2l-1 4l-1 5l-2 4l-3 3l-1 4l0 4l-3 3l-3 2l-4 1l-3 3l-5 2l-4 0l-5-1l-5 2l-4 0l-4-1l-2-3l-3-3l-3-2l-3-4l-1-4l-1-5l-3-3l-3-4l-2-4l-2-5l-4-3l-3-5l-2-5l-3-4l-3-3l0-4l1-3l2-1l3-2l4-3l5-1l5 1"/><path d="M1406 2230l5 0l4 1l3 3l3 4l5 1l4 2l3 3l2 4l5 0l4 2l4 3l2 4l5 1l4 2l2 4l1 4l2 3l3 3l1 5l-1 5l1 5l1 5l-2 5l-2 4l0 4l-2 4l-3 2l-4 1l-4 1l-4 3l-5 1l-5-2l-5 2l-4 1l-5-1l-4-2l-4 1"/><path d="M1520 2116l3-1l3 0l3 1l3 2l2 4l3 3l4 2l3 3l2 5l3 4l4 2l2 4l2 4l1 4l4 3l3 3l1 4l1 5l4 3l3 3l1 4l0 5l3 3l2 4l0 4l-1 4l-1 3l0 4l0 4l-2 3l-4 4l-2 4l-2 4l-3 4l-4 2l-3 4l-2 4l-4 2l-4 1l-3 1l-3 2l-4 1l-3-1l-4-2l-3-3l-5 0l-4-2l-3-4l-3-4l-5-2l-4-3l-3-4l-3-3l-4-2l-3-2l-3-4l-4-4l-4-2l-4-3l-2-4l-3-3l-4-3l-2-3l-1-4l0-4l-2-3"/><path d="M1350 2185l-4-2l-3-2l-3-3l-5-1l-4-3l-4-4l-3-3l-4-3l-1-4l2-3l3-2l3-4l3-3l4-3l5-1l3-4l4-3l4-1l4-2l3-4l4-2l4 0l4 1l4-1l5 1l4 3l3 4l4 1l4 2l3 4"/><path d="M2035 2192l-5 1l-4 3l-3 3l-3 3l-4 1l-4 3l-3 4l-3 2l-4 0l-3-3l-5-2l-4-3l-4-3l-5-1l-5 0l-3-3l-3-5l-3-4l-1-5l1-3l4-2l4-2l3-4l4-3"/><path d="M1440 2423l0 5l2 4l0 4l-3 5l-2 4l-1 5l-3 4l-4 2l-4 2l-4 3l-6 1l-5-2l-5 1l-4 0l-4-2l-3-4l-3-4l-3-4l-1-4l1-4l1-4l-1-5l2-4l3-4l4-2l2-4l4-3l4-1"/><path d="M1870 2277l-4 0l-5-2l-4-3l-5 1l-5-1l-3-2l-2-2l-1-2l-2-3l0-5l4-4l5-3l2-6l4-3l4-1l4-3l4-2l5-1l5 0l3-3l4-3l4-2l5 1l5-2l4-1l4 1l4 2l5 1l5 0l4 2l3 3l3 3l3 3l2 4l0 4l2 5"/><path d="M1517 2323l-1-5l-3-4l-3-4l-2-4l-1-4l-4-2l-4-2l-4-4l-3-3l-4-1l-4-1l-3-3l-2-3l-2-3l-2-3l-1-4l1-5l3-4l-1-4l0-5l2-4l2-5l-1-4l-1-5l1-5l1-5l-2-5l0-4l2-4l2-3l1-2l2-2l4 0l4 2l5 3l5 0l5 2l4 4l5 0l5 0l4 0l5 1l4-1l5-1l4 0l4 3l4 1l4 2l2 2l2 4l2 4l4 3l3 3l2 5l1 4l3 3l3 4"/><path d="M1582 2267l-1-4l0-5l-1-4l-3-4l0-4l0-4l1-4l-2-5l0-4l2-5l2-3l-1-5l0-5l2-4l2-5l-1-5l2-5l2-3l3-3l1-4l2-2l4-1l3 0l4 3l4 0l5 1l4 2l4 4l5 1l4 1l4 3l3 4l5 0l5 0l4 3l4 3l5-1l4 2l3 2l3 3l2 2l3 2l1 3l-1 4l-2 3l-2 4l0 5l-2 4l-4 3"/><path d="M1439 2031l4-2l4 0l4 2l3 3l4 3l4 2l3 4l1 5l0 3l1 4l-1 3l-2 4l-4 2l-2 4l-2 5l-3 3l-3 3l-3 3l-1 5l-2 4l-3 4l-2 4l-1 4l-2 4l-3 2l-3 1l-3 2l-5 1l-5-1l-4-3l-5-2l-4-1l-3-4l-1-5l-4-3"/><path d="M1624 2431l-3 3l-3 2l-4 0l-3 1l-4-1l-4-2l-2-5l-5-3l-4-2l-3-5l-2-4l-5-2l-4-2l-3-5l-2-4l-4-2l-2-4l-1-4l2-3l0-5l1-5l3-4l4-3l1-5l3-4l3-2l5-2l2-5l4-3l4-1l4 0l3-1l3 1l3 2l2 4l2 5l4 3l2 5l2 4l1 4l4 3l3 4"/><path d="M1549 2069l4-3l1-5l1-4l3-4l3-3l2-4l2-3l4-3l4-1l5 1l4-3l5 0l5 2l2 4l3 1l2 3l2 4l0 5l0 5l2 4l1 5l0 4l0 5l2 4l1 5l-1 4l-1 5l1 4l1 5l-1 5l-1 5l1 5l-1 4l-2 2l-4 1l-4-1l-4 1l-5-1l-4-3"/><path d="M1838 2180l-4 3l-4 2l-4 1l-4 0l-5 3l-5 2l-4-1l-4-2l-4-1l-4-2l-3-4l-2-5l-5-4l-2-3l-1-4l-2-4l-4-3l-2-4l-1-5l-2-4l-2-4l-1-3l0-3l3-3l4-1l3-3l5-2l5 1l5-2l3-3l3-3l5-2l2-5l2-5l3-3l4-1l2 0l3 0l4 2l2 3l2 5l3 4l3 4l2 5l0 5"/><path d="M1792 2432l4 2l5 0l4 0l4 1l5 3l6-2l5 1l4 2l4 2l4 1l2 2l1 4l-1 4l-1 4l0 5l-2 4l-4 4l-1 6l-1 5l-3 3l-4 3l0 5l-2 4l-3 3l-4 2l-2 4l-3 4l-4 2l-4 2l-2 4l-4 4l-4 2l-5 2l-2 5l-4 2l-4 1l-3-1l-3 0l-2-1l-2-2l-1-4l0-4l0-5l-2-5l0-5l1-5l-3-5l-1-5"/><path d="M1235 2308l-3 4l0 5l-2 4l-3 3l-2 2l-2 3l-3 0l-4-1l-2-5l-4-4l-4-3l-2-4l0-5l-3-4l-2-4l0-5l2-5l-1-4l0-4l2-4l2-4l0-5l2-4l2-2l5-1l4-3l4-1l5 0"/><path d="M1402 2374l-4-2l-3-3l-3-4l-4-3l-3-3l-2-3l0-4l1-4l-1-4l1-5l3-4l3-3l1-5l2-5l4-2l3-2l3-5l4-3l4 0l5 0l4-2l4-2l4-1l5-1l4-3l4-2l4-1l4 2l4 1l5 0l4 3l3 4l4 3l4 3l1 4l-1 4l-3 3l0 5l-2 4l-4 4l-4 3l-1 5l-3 4l-3 3l-3 5"/></g></defs><g fill="none" stroke="#1c1414" stroke-linecap="round"><use href="#cr3" filter="url(#f4)" stroke-width="12" stroke-opacity=".3"/><use href="#cr3" filter="url(#f1)" stroke-width="3" stroke-opacity=".72"/></g>
</g></g>
<path d="M1419 2047l0-3l0-4l1-3l1-3l3-3l2-2l1-3l1-3l3-3l3-1l4 0l3 0l3-2l3 0l3 1l3 3l2 3l2 3l3 2l2 3l1 3l-1 3l-3 4l0 4l1 4l-1 2l0 3l1 3l2 4l4 0l3 0l3 0l2 0l3-1l3-1l1-4l2-3l2-3l2-2l3-1l2-3l1-5l1-3l2-3l3-2l3-1l2-2l3-1l4 0l4 1l3 2l3 2l4-1l3 1l3 2l2 2l1 4l3 2l3 1l3 2l2 3l0 4l0 4l2 3l2 2l2 3l1 3l1 2l2 3l3 0l4 0l3 1l4 1l3 2l4 0l3-1l3-1l3-1l3 0l4 0l3-1l2-3l2-2l3-2l3-2l3-1l2-3l0-3l1-4l2-2l3-3l3-1l1-3l2-3l3-3l3-1l4 0l3 1l4-2l3-2l4 0l2 1l3 2l3 3l3-1l3 1l3 1l3 2l2 2l3 2l4-1l4-1l3 1l3 1l3 1l4 0l3-2l3-1l3 0l4 0l4 0l3-2l2-2l3-2l3-1l4-1l3-1l2-4l2-3l1-2l2-2l3-2l2-2l0-4l1-3l2-3l2-2l2-2l3-2l1-4l2-3l3-2l3-2l3 0l3 0l2-2l4 0l3 2l3 3l2 3l3 2l4 2l2 2l1 4l-1 3l0 4l3 3l1 4l0 3l-2 4l-3 3l0 5l-1 3l0 3l-1 2l1 2l3 3l4-1l4 0l3 0l4 2l4 2l3-2l3-2l2-2l4 0l3 0l4 0l4-2l3-1l3 0l3 1l4 2l4 0l4-1l4 0l3 2l2 2l2 2l2 0l2 2l0 3l-3 4l-3 2l-3 3l1 3l3 0l2 0l4 1l4 1l3 3l4-1l4 0l3 2l2 3l1 3l2 3l3 2l3 1l2 2l1 1l3 2l3 1l3-3l2-3l3-1l3-1l3-1l3-1l2-3l4-1l2 0l3 1l3 2l3 2l4 0l3 0l3 2l3 2l1 3l-1 4l3 3l1 4l1 3l0 4l0 3l2 3l3 3l2 2l2 3l2 4l2 1l3 0l4 0l3 0l3 2l3 2l4 0l4-1l3-1l3 0l3 1l4 1l3-1l3-2l3-2l4 0l3 0l3 0l2-3l2-3l2-3l3-2l3-1l3-1l2-3l3-1l4 0l3 1l4 3l3 0l4 1l3 1l2 3l1 4l0 4l2 3l1 4l0 4l-2 3l-4 2l-1 3l-2 4l-1 3l-2 2l-2 3l0 3l2 3l2 3l2 2l1 2l2 2l3 2l3-2l3-1l4-1l4 1l3 1l4 0l3-2l4 0l3 1l4 2l3 1l4 0l3 0l3 2l2 2l1 4l-1 3l3 3l1 3l0 3l-1 3l-2 3l-2 2l0 4l-1 4l-1 3l-3 2l-3 2l-3 1l-2 2l-3 2l-3 2l-3 0l-4-1l-3 1l-3 2l-2 2l-2 2l-2 2l-3 1l-2 3l0 4l0 3l-1 3l-2 3l-3 2l-2 3l0 4l0 3l-2 3l-2 2l-3 3l-1 3l0 3l-1 3l-2 3l-2 2l-3 2l-1 4l-1 3l0 3l-1 3l-1 3l-2 3l1 3l2 3l1 4l0 3l-1 4l-2 2l0 4l0 3l-1 3l-3 2l-3 2l-3 1l-2 3l-1 4l-1 2l-2 3l-1 2l-2 3l1 3l1 3l1 4l0 3l-1 3l-1 4l1 3l2 3l0 3l-1 4l-1 3l-2 2l1 4l0 3l0 3l-1 3l-2 3l-2 3l1 4l1 3l0 3l-2 3l-1 3l-2 3l0 4l1 3l0 3l-1 3l-2 3l-2 3l2 3l1 4l1 3l-1 3l0 3l-1 4l2 3l2 3l1 3l0 3l0 3l-1 3l3 3l2 3l1 2l1 3l0 4l0 3l3 2l2 3l2 2l0 3l0 4l0 3l3 3l2 2l2 3l0 4l0 3l-1 3l1 2l1 3l0 3l-1 3l-3 2l-4 1l-2 3l-2 3l-2 3l-2 2l-3 1l-3 2l-2 2l-2 3l-1 3l-2 2l-2 2l-3 2l-1 3l1 4l0 3l-1 3l-2 2l-3 1l-3 0l-2 2l-3 2l-4 1l-3 0l-3-1l-4-1l-3 1l-4 1l-3 0l-4-1l-4-1l-4 3l-4 2l-2 1l-2 0l1 1l2 3l5 0l4 1l3 3l0 3l-1 4l-1 3l1 5l-2 3l-3 2l-3 1l-3 0l-3 2l-3 2l-4 2l-4-1l-3-1l-3 0l-3 2l-3 0l-4 0l-3-1l-3-1l-4 0l-3 1l-2 1l-3 0l-3 0l-4 0l-3 0l-2 3l-2 2l-1 3l-1 2l-2 2l-2 3l1 3l1 4l0 3l-2 4l-2 2l-2 3l0 3l-1 3l-2 3l-2 2l-3 2l-3 2l-1 3l-2 3l-2 3l-2 2l-4 1l-3 1l-1 3l-2 3l-3 2l-2 1l-5 1l-3 2l-3 2l-3 2l-4-1l-2-1l-2-3l-2-2l-4-1l-3-2l-2-2l-1-3l-1-4l-2-2l-3-2l-2-3l-2-3l0-3l0-4l-2-3l-2-2l-1-3l-1-4l1-3l1-4l-2-2l-3-3l-1-4l0-3l0-4l-1-4l-3-2l-2-1l-2-2l-3-1l-3-2l-3 0l-4 2l-3 1l-2 0l-4 0l-3 0l-4 1l-3 2l-3 1l-3 0l-3 0l-3-2l-3 0l-4 0l-3 0l-3-2l-2-2l-1-3l-1-3l-2-2l-2-3l-1-4l1-3l1-4l-2-3l-2-2l-2-3l-2-3l-1-3l0-3l-2-3l-3-2l-2-3l-1-3l0-4l1-3l-3-3l-2-3l-2-3l-1-3l0-4l0-3l-3-2l-3-3l-2-2l-1-2l-2-3l-2-3l-4-1l-3 0l-3-1l-1 0l-3 1l-2 3l1 5l-1 5l-2 2l-3 2l-4 2l0 4l-2 3l-2 3l-3 1l-2 1l-4-1l-3 1l-4-1l-4-3l-2-3l-1-3l-3-2l-3-1l-3-3l-2-2l-2-3l-2-2l-4 0l-3 1l-3 1l-3 0l-4 0l-3 1l-2 3l-2 3l-2 2l-2 2l-4 2l-2 2l-1 3l-2 3l-2 3l-3 2l-4 0l-2 2l-2 2l-3 1l-3-1l-3-2l-2-3l-2-3l-4 0l-3-1l-3-2l-2-2l-3-2l-2-2l-3 0l-4 0l-3-1l-2-2l-2-3l-1-3l-3-1l-3-1l-3-2l-2-3l-1-3l0-4l-4-2l-2-2l-2-3l-1-3l0-3l1-4l-2-3l-2-3l0-4l0-3l1-4l0-3l-2-2l-2-2l-1-2l-2-2l-2-3l-3-2l-4 1l-3 2l-3 1l-2 1l-3 0l-4 1l-1 3l-2 4l-2 2l-2 2l-4 2l-2 3l0 4l-2 3l-3 2l-3 1l-4-1l-3 1l-3 2l-3 1l-4-1l-3-1l-2-3l-3-1l-4 0l-3-2l-3-3l-2-3l-2-3l-3-1l-3-2l-2-3l-1-3l-1-3l-1-3l-3 0l-3 0l-3 0l-3 0l-4-1l-3 0l-4 1l-3 0l-3-1l-3-3l-2-3l-2-2l-4-1l-3-1l-2-2l-2-3l-1-3l-2-3l-3-1l-3-2l-1-3l0-4l1-3l1-4l0-4l1-3l3-2l4 0l3 1l4-1l3-2l3-1l2-1l4-1l3-4l-1-4l0-4l0-2l-1-2l-3-2l-4-1l-4 1l-4 0l-3-1l-4-1l-3 0l-3 2l-4 0l-3-1l-2-3l-2-3l-4-1l-3-2l-3-1l-3-3l-1-4l-3-3l-3-1l-3-1l-3-3l-1-3l-3-4l-3 0l-3-1l-3-1l-3-2l-2-2l-3-3l-3 0l-4-1l-3-2l-2-2l-2-3l-1-3l-4-1l-3-1l-2-2l-2-3l-2-3l-2-2l-3-1l-3-1l-3-1l-2-2l-2-3l-2-3l-4 0l-3-1l-3-2l-2-2l-2-2l-1-4l-4 0l-3-1l-3-2l-2-2l-2-3l-1-3l-3-1l-4-1l-2-2l-2-3l-2-3l-1-4l-3-1l-3-2l-3-3l-1-3l-1-3l-1-3l-2-2l-4-3l-1-4l0-4l0-3l-2-3l-2-2l-1-3l1-3l3 0l1-1l3-3l1-3l3-4l2-2l4 0l3 1l4 0l3-2l3-2l3-2l3-1l3-1l1-3l0-3l0-4l1-3l2-3l3-3l0-4l-1-3l1-3l1-3l2-4l1-4l-1-3l1-4l2-2l3-1l3 0l4 1l3-2l4-1l3-1l4 1l3 0l2-1l1-3l0-3l0-3l1-3l1-4l1-3l-2-4l-1-2l0-3l0-3l0-3l1-3l-2-3l-2-3l0-4l1-4l1-2l2-3l-1-3l0-4l0-3l2-3l2-3l1-3l0-4l0-3l1-3l2-2l2-2l2-3l1-4l1-3l2-2l4-1l4 0l2 0l3-2l3-1l3-1l3 1l4 1l3 0l4-1l3-1l3-1l3 0l4 1l3-2l2-2l2-3l3-1l3-1l3 0l3-2l3-2l3-1l3-1l4 0l3 1l4-1l3-2l3-1l3 0l4 0l3 1l3-2l3-2l4-1l3-1l3 1l4-2l2-3l3-2l2-2l4-1l3-1l1-4l1-3l1-3l1-3l2-3z" fill="none" stroke="#333" stroke-opacity=".8" stroke-width="2"/>
<path d="M1793.4 2370L1943.2 2230L1977 2279.4z" fill="#0a0a0a"/>
<path d="M1819.3 2352.1L1942.4 2237L1970.2 2277.6z" fill="#f4ef92"/>
<path d="M340.4 94H1046V841.2H340.4Z" fill="none" stroke="#111" stroke-width="3.4"/>
<path d="M308.5 119H340.4M308.5 359.7H340.4M308.5 600.3H340.4M308.5 841.2H340.4M540.2 841.2V871.5M843 841.2V871.5" fill="none" stroke="#111" stroke-width="3.4"/>
<text x="297" y="133.6" font-size="43.6" text-anchor="end">1.5E+04</text>
<text x="297" y="374.3" font-size="43.6" text-anchor="end">1.0E+04</text>
<text x="297" y="614.9" font-size="43.6" text-anchor="end">5.0E+03</text>
<text x="299.5" y="855.8" font-size="43.6" text-anchor="end">0</text>
<text x="540.5" y="931.5" font-size="49.5" text-anchor="middle">OTA</text>
<text x="540.5" y="987.5" font-size="49.5" text-anchor="middle">Producers</text>
<text x="848.5" y="931.5" font-size="49.5" text-anchor="middle">Other</text>
<text x="848.5" y="987.5" font-size="49.5" text-anchor="middle">fungi</text>
<text transform="translate(74.2 629.5) rotate(-90)" font-size="48">Pocket volume (A<tspan dx="-3" dy="-26" font-size="42">3</tspan><tspan dx="2" dy="15">)</tspan></text>
<path d="M538.3 501.8h21v21h-21zM520.1 513.9h21v21h-21zM531.4 526.1h21v21h-21zM555.7 526.1h21v21h-21zM529.6 598.3h21v21h-21zM547.9 605.3h21v21h-21zM566.2 610.5h21v21h-21zM494 606.2h21v21h-21zM511.4 619.2h21v21h-21zM529.6 619.2h21v21h-21zM547.9 610.5h21v21h-21zM529.6 632.3h21v21h-21zM547.9 632.3h21v21h-21zM511.4 661.8h21v21h-21zM529.6 661.8h21v21h-21zM547.9 674h21v21h-21zM456.9 711.4h21v21h-21zM511.4 715.8h21v21h-21zM547.9 710.6h21v21h-21zM566.2 710.6h21v21h-21zM584.5 713.2h21v21h-21zM601 711.4h21v21h-21zM494 733.2h21v21h-21zM529.6 733.2h21v21h-21zM547.9 732.3h21v21h-21zM566.2 732.3h21v21h-21zM456.9 754.9h21v21h-21zM621 754.9h21v21h-21zM601.9 759.3h21v21h-21zM511.4 756.7h21v21h-21zM529.6 756.7h21v21h-21zM494 768h21v21h-21zM566.2 768h21v21h-21zM584.5 765.4h21v21h-21zM474.8 775.8h21v21h-21zM511.4 774.1h21v21h-21zM529.6 774.1h21v21h-21zM547.9 774.1h21v21h-21zM439.2 783.7h21v21h-21zM621 783.7h21v21h-21zM456.9 788h21v21h-21zM602.7 788h21v21h-21zM474.8 800.2h21v21h-21zM511.4 795h21v21h-21zM529.6 795h21v21h-21zM494 775.8h21v21h-21zM566.2 798.4h21v21h-21zM547.9 810.6h21v21h-21zM584.5 810.6h21v21h-21zM511.4 801.9h21v21h-21zM529.6 801.9h21v21h-21z" fill="#0b0b7d"/>
<g fill="#1f8585"><circle cx="843" cy="121.2" r="10.8"/><circle cx="842.7" cy="320" r="10.8"/><circle cx="858.3" cy="322.4" r="10.8"/><circle cx="842.7" cy="342.7" r="10.8"/><circle cx="842.7" cy="399.8" r="10.8"/><circle cx="834.9" cy="447" r="10.8"/><circle cx="850.5" cy="446.4" r="10.8"/><circle cx="842.7" cy="474" r="10.8"/><circle cx="827.9" cy="509" r="10.8"/><circle cx="857.8" cy="521" r="10.8"/><circle cx="827.9" cy="531.4" r="10.8"/><circle cx="843" cy="538.3" r="10.8"/><circle cx="857.8" cy="556" r="10.8"/><circle cx="842.7" cy="561.8" r="10.8"/><circle cx="827.9" cy="568.8" r="10.8"/><circle cx="842.7" cy="589.7" r="10.8"/><circle cx="842.7" cy="630.5" r="10.8"/><circle cx="857.5" cy="663.6" r="10.8"/><circle cx="827.9" cy="675.8" r="10.8"/><circle cx="873.1" cy="672.3" r="10.8"/><circle cx="797.4" cy="692.3" r="10.8"/><circle cx="857.5" cy="688.8" r="10.8"/><circle cx="887.9" cy="692.3" r="10.8"/><circle cx="842.7" cy="696.7" r="10.8"/><circle cx="813.1" cy="705.4" r="10.8"/><circle cx="873.1" cy="703.6" r="10.8"/><circle cx="797.4" cy="715.8" r="10.8"/><circle cx="842.7" cy="719.3" r="10.8"/><circle cx="858.3" cy="715.8" r="10.8"/><circle cx="887.9" cy="715.8" r="10.8"/><circle cx="873.1" cy="726.2" r="10.8"/><circle cx="812.2" cy="732.3" r="10.8"/><circle cx="797.4" cy="740.2" r="10.8"/><circle cx="903.6" cy="736.7" r="10.8"/><circle cx="813.1" cy="755" r="10.8"/><circle cx="827.9" cy="754" r="10.8"/><circle cx="843" cy="752" r="10.8"/><circle cx="857.8" cy="752" r="10.8"/><circle cx="873.1" cy="754" r="10.8"/><circle cx="752.9" cy="779.8" r="10.8"/><circle cx="752.9" cy="803.7" r="10.8"/><circle cx="768.4" cy="785" r="10.8"/><circle cx="783" cy="794.4" r="10.8"/><circle cx="797.5" cy="795.4" r="10.8"/><circle cx="813" cy="788" r="10.8"/><circle cx="813" cy="812" r="10.8"/><circle cx="827.5" cy="796.4" r="10.8"/><circle cx="843" cy="803.7" r="10.8"/><circle cx="857.6" cy="799.5" r="10.8"/><circle cx="873.2" cy="787" r="10.8"/><circle cx="873.2" cy="810" r="10.8"/><circle cx="887.7" cy="774.7" r="10.8"/><circle cx="887.7" cy="797.5" r="10.8"/><circle cx="903.2" cy="796.4" r="10.8"/><circle cx="917.8" cy="803.7" r="10.8"/><circle cx="932.3" cy="803.7" r="10.8"/></g>
<path d="M439 728.5H641.5M489.5 705H590M489.5 752.8H590M540.2 705V752.8M742.5 664H943M792.5 622.7H892.5M792.5 705.4H892.5M843 622.7V705.4" fill="none" stroke="#a80f12" stroke-width="6.4"/>
<path d="M1351 96.6H2275.5V841.6H1351Z" fill="none" stroke="#222" stroke-width="2"/>
<path d="M1334.5 96.6H1351M1342.5 171.1H1351M1334.5 245.6H1351M1342.5 320.1H1351M1334.5 394.6H1351M1342.5 469.1H1351M1334.5 543.6H1351M1342.5 618.1H1351M1334.5 692.6H1351M1342.5 767.1H1351M1334.5 841.6H1351M1351 841.6V856.1M1495.4 841.6V849.2M1639.8 841.6V856.1M1784.2 841.6V849.2M1928.6 841.6V856.1M2073 841.6V849.2M2217.4 841.6V856.1" fill="none" stroke="#222" stroke-width="2"/>
<text x="1313.5" y="107.1" font-size="43" text-anchor="end" textLength="40.5" lengthAdjust="spacingAndGlyphs">-6</text>
<text x="1313.5" y="256.1" font-size="43" text-anchor="end" textLength="40.5" lengthAdjust="spacingAndGlyphs">-7</text>
<text x="1313.5" y="405.1" font-size="43" text-anchor="end" textLength="40.5" lengthAdjust="spacingAndGlyphs">-8</text>
<text x="1313.5" y="554.1" font-size="43" text-anchor="end" textLength="40.5" lengthAdjust="spacingAndGlyphs">-9</text>
<text x="1313.5" y="703.1" font-size="43" text-anchor="end" textLength="65.5" lengthAdjust="spacingAndGlyphs">-10</text>
<text x="1313.5" y="852.1" font-size="43" text-anchor="end" textLength="65.5" lengthAdjust="spacingAndGlyphs">-11</text>
<text x="1338.5" y="909.5" font-size="43" textLength="25" lengthAdjust="spacingAndGlyphs">0</text>
<text x="1561.8" y="909.5" font-size="43" textLength="176" lengthAdjust="spacingAndGlyphs">5.0E+03</text>
<text x="1850.6" y="909.5" font-size="43" textLength="176" lengthAdjust="spacingAndGlyphs">1.0E+04</text>
<text x="2139.4" y="909.5" font-size="43" textLength="176" lengthAdjust="spacingAndGlyphs">1.5E+04</text>
<text x="1617" y="986" font-size="49" textLength="420" lengthAdjust="spacingAndGlyphs">Pocket volume (A<tspan dy="-26.7" font-size="33">3</tspan><tspan dy="26.7">)</tspan></text>
<text transform="translate(1220 642.5) rotate(-90)" font-size="49">DeltaG (Kcal/mol)</text>
<path d="M1377.5 250.2h20.6v20.6h-20.6zM1377.5 265.1h20.6v20.6h-20.6zM1405.8 250.2h20.6v20.6h-20.6zM1392.7 280h20.6v20.6h-20.6zM1395.7 309.8h20.6v20.6h-20.6zM1395.7 324.7h20.6v20.6h-20.6zM1436.6 294.9h20.6v20.6h-20.6zM1364.6 309.8h20.6v20.6h-20.6zM1492.7 324.7h20.6v20.6h-20.6zM1440.9 339.6h20.6v20.6h-20.6zM1541.7 354.5h20.6v20.6h-20.6zM1364.6 369.4h20.6v20.6h-20.6zM1375.5 399.2h20.6v20.6h-20.6zM1375.5 429h20.6v20.6h-20.6zM1466 429h20.6v20.6h-20.6zM1577.5 429h20.6v20.6h-20.6zM1606.4 443.9h20.6v20.6h-20.6zM1592 458.8h20.6v20.6h-20.6zM1609.3 458.8h20.6v20.6h-20.6zM1609.1 488.6h20.6v20.6h-20.6zM1735.3 488.6h20.6v20.6h-20.6zM1480.9 473.7h20.6v20.6h-20.6zM1465.1 503.5h20.6v20.6h-20.6zM1463.7 518.4h20.6v20.6h-20.6zM1455.9 533.3h20.6v20.6h-20.6zM1527.9 518.4h20.6v20.6h-20.6zM1602.5 548.2h20.6v20.6h-20.6zM1425.4 548.2h20.6v20.6h-20.6zM1406 563.1h20.6v20.6h-20.6zM1415.8 563.1h20.6v20.6h-20.6zM1541.4 622.7h20.6v20.6h-20.6zM1429.7 667.4h20.6v20.6h-20.6zM1482.4 682.3h20.6v20.6h-20.6zM1413.8 697.2h20.6v20.6h-20.6zM1410.4 801.5h20.6v20.6h-20.6zM1476.4 473.7h20.6v20.6h-20.6z" fill="#0b0b7d"/>
<g fill="#1f8585"><circle cx="1404.3" cy="171.1" r="11.4"/><circle cx="1457" cy="245.6" r="11.4"/><circle cx="1403.7" cy="275.4" r="11.4"/><circle cx="1413.2" cy="275.4" r="11.4"/><circle cx="1403" cy="305.2" r="11.4"/><circle cx="1429" cy="394.6" r="11.4"/><circle cx="1452.1" cy="409.5" r="11.4"/><circle cx="1470.5" cy="424.4" r="11.4"/><circle cx="1525.4" cy="439.3" r="11.4"/><circle cx="1535.8" cy="439.3" r="11.4"/><circle cx="1512.5" cy="454.2" r="11.4"/><circle cx="1548.2" cy="454.2" r="11.4"/><circle cx="1553.2" cy="469.1" r="11.4"/><circle cx="1416.1" cy="469.1" r="11.4"/><circle cx="1485.8" cy="469.1" r="11.4"/><circle cx="1560.4" cy="484" r="11.4"/><circle cx="1734.3" cy="364.8" r="11.4"/><circle cx="1747.8" cy="379.7" r="11.4"/><circle cx="1677.9" cy="469.1" r="11.4"/><circle cx="1685.7" cy="484" r="11.4"/><circle cx="1713.6" cy="469.1" r="11.4"/><circle cx="1721.6" cy="484" r="11.4"/><circle cx="1455.3" cy="498.9" r="11.4"/><circle cx="1475.4" cy="498.9" r="11.4"/><circle cx="1499.9" cy="498.9" r="11.4"/><circle cx="1602.7" cy="498.9" r="11.4"/><circle cx="1651.6" cy="498.9" r="11.4"/><circle cx="1394.2" cy="558.5" r="11.4"/><circle cx="1396.2" cy="573.4" r="11.4"/><circle cx="1391.4" cy="573.4" r="11.4"/><circle cx="1495.6" cy="558.5" r="11.4"/><circle cx="1478.9" cy="573.4" r="11.4"/><circle cx="1453.8" cy="588.3" r="11.4"/><circle cx="1692" cy="558.5" r="11.4"/><circle cx="1394.8" cy="603.2" r="11.4"/><circle cx="1400.7" cy="603.2" r="11.4"/><circle cx="1521.5" cy="603.2" r="11.4"/><circle cx="1420.7" cy="618.1" r="11.4"/><circle cx="1410.6" cy="618.1" r="11.4"/><circle cx="1401.9" cy="633" r="11.4"/><circle cx="1391.9" cy="633" r="11.4"/><circle cx="1511.4" cy="633" r="11.4"/><circle cx="1385.5" cy="647.9" r="11.4"/><circle cx="1501.3" cy="647.9" r="11.4"/><circle cx="1527.2" cy="707.5" r="11.4"/><circle cx="1790" cy="603.2" r="11.4"/><circle cx="1972.5" cy="409.5" r="11.4"/><circle cx="1978.3" cy="409.5" r="11.4"/><circle cx="1879.9" cy="439.3" r="11.4"/><circle cx="2215.2" cy="469.1" r="11.4"/><circle cx="1823.6" cy="498.9" r="11.4"/><circle cx="1948.7" cy="528.7" r="11.4"/><circle cx="1821.9" cy="573.4" r="11.4"/></g>
<rect x="1875" y="137.8" width="25.5" height="25.2" fill="#0b0b7d"/>
<circle cx="1887.4" cy="204" r="14.7" fill="#1f8585"/>
<text x="1925" y="162.8" font-size="41" textLength="290" lengthAdjust="spacingAndGlyphs">OTA producers</text>
<text x="1925" y="216.8" font-size="41" textLength="216" lengthAdjust="spacingAndGlyphs">Other fungi</text>
<text x="42" y="79" font-size="91" font-weight="bold">a</text>
<text x="1172.5" y="89.5" font-size="96" font-weight="bold">b</text>
<text x="41" y="1126.5" font-size="93" font-weight="bold">c</text>
<text x="114" y="1872.5" font-size="46.5" font-style="italic" textLength="370" lengthAdjust="spacingAndGlyphs">Aspergillus niger</text>
<text x="111.5" y="1928.3" font-size="46.5" textLength="256" lengthAdjust="spacingAndGlyphs">PDB: 4C5Y</text>
<text x="1199" y="1868.2" font-size="46.5" font-style="italic" textLength="558" lengthAdjust="spacingAndGlyphs">Aspergillus sclerotioniger</text>
<text x="1198" y="1923.8" font-size="46.5" textLength="572" lengthAdjust="spacingAndGlyphs">Uniprot: XP_025470645.1</text>
<text x="112" y="2803.2" font-size="46.5" font-style="italic" textLength="450" lengthAdjust="spacingAndGlyphs">Aspergillus awamori</text>
<text x="109.5" y="2858.4" font-size="46.5" textLength="478" lengthAdjust="spacingAndGlyphs">Uniprot: GCB19382.1</text>
<text x="1198" y="2803.2" font-size="46.5" font-style="italic" textLength="681" lengthAdjust="spacingAndGlyphs">Phaeomoniella chlamydospora</text>
<text x="1194" y="2858.4" font-size="46.5" textLength="469" lengthAdjust="spacingAndGlyphs">Uniprot: KKY28590.1</text>
<rect x="2182" y="1628.7" width="52.6" height="442.6" fill="url(#cbar)"/>
<text x="2263.5" y="1666" font-size="48" textLength="71" lengthAdjust="spacingAndGlyphs">5.0</text>
<text x="2263.5" y="1870.5" font-size="48" textLength="71" lengthAdjust="spacingAndGlyphs">0.0</text>
<text x="2248" y="2077.5" font-size="48" textLength="87" lengthAdjust="spacingAndGlyphs">-5.0</text>
</svg>
</body></html>
